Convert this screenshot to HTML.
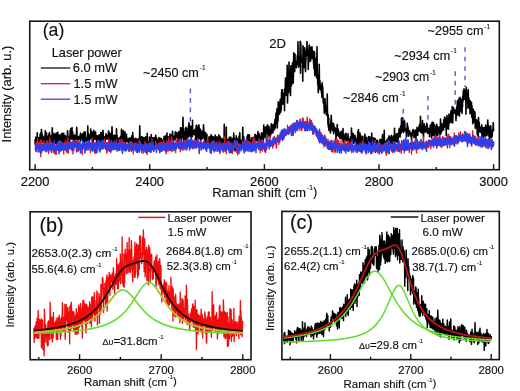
<!DOCTYPE html><html><head><meta charset="utf-8"><style>html,body{margin:0;padding:0;background:#fff;}body{width:520px;height:391px;overflow:hidden;}</style></head><body><svg width="520" height="391" viewBox="0 0 520 391" style="display:block;filter:blur(0.45px)">
<rect width="520" height="391" fill="#fff"/>
<defs><clipPath id="ca"><rect x="30.5" y="22" width="468" height="147"/></clipPath><clipPath id="cb"><rect x="30.9" y="212.6" width="219.3" height="146.3"/></clipPath><clipPath id="cc"><rect x="282.7" y="212.2" width="215.8" height="146.6"/></clipPath></defs>
<g clip-path="url(#ca)">
<polyline points="35.00,139.3 35.25,144.0 35.50,143.5 35.75,137.4 36.00,138.1 36.25,137.3 36.50,141.2 36.75,139.0 37.00,141.8 37.25,132.7 37.50,144.7 37.75,138.8 38.00,141.5 38.25,138.7 38.50,137.8 38.75,140.8 39.00,142.0 39.25,138.4 39.50,138.6 39.75,141.5 40.00,136.0 40.25,133.8 40.50,140.5 40.75,136.7 41.00,132.3 41.25,136.2 41.50,129.5 41.75,134.9 42.00,133.8 42.25,139.2 42.50,142.2 42.75,138.2 43.00,136.4 43.25,140.4 43.50,141.6 43.75,138.0 44.00,140.9 44.25,142.7 44.50,138.3 44.75,136.1 45.00,140.2 45.25,130.8 45.50,142.9 45.75,134.4 46.00,136.6 46.25,136.0 46.50,132.8 46.75,139.4 47.00,140.8 47.25,136.3 47.50,143.8 47.75,141.8 48.00,141.1 48.25,140.3 48.50,142.3 48.75,134.2 49.00,141.1 49.25,141.0 49.50,132.6 49.75,140.1 50.00,138.0 50.25,141.6 50.50,137.3 50.75,136.3 51.00,140.1 51.25,135.7 51.50,141.0 51.75,138.5 52.00,140.6 52.25,127.9 52.50,142.7 52.75,141.0 53.00,138.2 53.25,141.0 53.50,143.3 53.75,145.1 54.00,133.2 54.25,141.9 54.50,140.4 54.75,138.4 55.00,135.2 55.25,143.2 55.50,134.3 55.75,140.8 56.00,143.4 56.25,133.1 56.50,137.7 56.75,134.1 57.00,139.6 57.25,144.1 57.50,145.9 57.75,132.4 58.00,136.7 58.25,141.2 58.50,144.3 58.75,140.2 59.00,136.0 59.25,139.7 59.50,135.1 59.75,137.9 60.00,136.0 60.25,140.0 60.50,139.7 60.75,138.3 61.00,137.8 61.25,134.0 61.50,136.9 61.75,142.9 62.00,137.9 62.25,133.4 62.50,135.0 62.75,140.4 63.00,146.0 63.25,138.7 63.50,136.9 63.75,133.3 64.00,143.2 64.25,147.6 64.50,135.5 64.75,136.2 65.00,140.6 65.25,135.5 65.50,137.5 65.75,137.2 66.00,139.1 66.25,142.3 66.50,138.5 66.75,141.7 67.00,136.9 67.25,139.5 67.50,130.7 67.75,133.2 68.00,141.2 68.25,136.2 68.50,140.4 68.75,140.2 69.00,143.0 69.25,141.2 69.50,141.9 69.75,137.9 70.00,135.8 70.25,130.4 70.50,136.5 70.75,128.9 71.00,136.2 71.25,137.9 71.50,139.1 71.75,136.8 72.00,127.6 72.25,137.9 72.50,139.0 72.75,132.0 73.00,139.7 73.25,135.8 73.50,135.5 73.75,145.3 74.00,140.8 74.25,144.7 74.50,145.7 74.75,135.1 75.00,139.4 75.25,139.7 75.50,140.0 75.75,140.0 76.00,138.7 76.25,138.6 76.50,132.6 76.75,127.3 77.00,135.3 77.25,138.4 77.50,136.3 77.75,140.2 78.00,140.9 78.25,139.0 78.50,139.0 78.75,138.2 79.00,136.3 79.25,137.3 79.50,136.1 79.75,139.3 80.00,137.9 80.25,139.9 80.50,133.0 80.75,141.0 81.00,135.0 81.25,135.1 81.50,137.1 81.75,135.7 82.00,138.8 82.25,135.7 82.50,133.9 82.75,134.7 83.00,142.5 83.25,137.9 83.50,133.5 83.75,137.7 84.00,132.0 84.25,144.1 84.50,132.1 84.75,139.4 85.00,139.6 85.25,132.1 85.50,138.7 85.75,141.2 86.00,139.3 86.25,138.5 86.50,141.0 86.75,138.1 87.00,138.8 87.25,137.1 87.50,139.8 87.75,126.0 88.00,140.4 88.25,135.7 88.50,133.5 88.75,138.8 89.00,143.6 89.25,141.0 89.50,135.6 89.75,140.0 90.00,135.8 90.25,137.0 90.50,137.7 90.75,129.0 91.00,138.1 91.25,133.6 91.50,134.8 91.75,132.0 92.00,131.8 92.25,133.9 92.50,140.3 92.75,143.4 93.00,137.2 93.25,141.3 93.50,136.3 93.75,130.3 94.00,137.8 94.25,138.9 94.50,135.7 94.75,138.3 95.00,139.3 95.25,134.1 95.50,131.8 95.75,136.4 96.00,136.4 96.25,135.9 96.50,140.8 96.75,143.5 97.00,135.6 97.25,139.7 97.50,140.6 97.75,139.7 98.00,140.9 98.25,135.7 98.50,139.8 98.75,144.5 99.00,140.0 99.25,134.8 99.50,139.3 99.75,141.7 100.00,138.4 100.25,135.0 100.50,142.7 100.75,132.5 101.00,138.9 101.25,137.1 101.50,132.8 101.75,141.6 102.00,138.5 102.25,133.0 102.50,139.4 102.75,135.7 103.00,130.4 103.25,134.8 103.50,138.3 103.75,139.7 104.00,138.0 104.25,137.6 104.50,139.2 104.75,136.7 105.00,141.8 105.25,138.1 105.50,138.6 105.75,139.5 106.00,133.8 106.25,135.0 106.50,135.0 106.75,138.9 107.00,136.7 107.25,138.9 107.50,136.0 107.75,138.8 108.00,135.4 108.25,138.8 108.50,131.1 108.75,142.6 109.00,136.0 109.25,132.2 109.50,137.1 109.75,136.6 110.00,138.5 110.25,133.9 110.50,139.4 110.75,151.1 111.00,133.5 111.25,139.3 111.50,137.0 111.75,138.8 112.00,126.9 112.25,134.1 112.50,139.8 112.75,138.1 113.00,144.1 113.25,135.7 113.50,138.9 113.75,148.7 114.00,135.6 114.25,135.1 114.50,138.3 114.75,138.3 115.00,136.2 115.25,138.9 115.50,135.8 115.75,139.3 116.00,147.9 116.25,143.1 116.50,128.7 116.75,138.1 117.00,135.5 117.25,140.9 117.50,138.1 117.75,145.6 118.00,142.0 118.25,141.9 118.50,139.4 118.75,138.6 119.00,140.0 119.25,143.4 119.50,140.8 119.75,137.6 120.00,143.4 120.25,139.6 120.50,138.7 120.75,136.2 121.00,137.0 121.25,136.8 121.50,129.2 121.75,142.7 122.00,141.1 122.25,138.4 122.50,142.8 122.75,140.7 123.00,140.5 123.25,130.5 123.50,138.4 123.75,141.1 124.00,144.9 124.25,145.8 124.50,144.3 124.75,135.3 125.00,131.7 125.25,141.4 125.50,139.6 125.75,142.9 126.00,139.1 126.25,140.4 126.50,134.4 126.75,141.2 127.00,138.2 127.25,141.0 127.50,141.4 127.75,139.4 128.00,141.0 128.25,139.9 128.50,142.6 128.75,141.8 129.00,138.2 129.25,138.1 129.50,146.3 129.75,139.8 130.00,143.7 130.25,141.7 130.50,138.4 130.75,137.8 131.00,140.8 131.25,141.4 131.50,142.7 131.75,136.1 132.00,138.5 132.25,140.3 132.50,146.3 132.75,132.5 133.00,142.3 133.25,137.3 133.50,142.4 133.75,139.2 134.00,142.2 134.25,146.5 134.50,142.3 134.75,142.6 135.00,142.4 135.25,138.5 135.50,143.1 135.75,140.5 136.00,138.4 136.25,141.2 136.50,140.6 136.75,144.0 137.00,141.3 137.25,139.6 137.50,146.6 137.75,145.0 138.00,146.1 138.25,143.8 138.50,141.3 138.75,138.5 139.00,140.8 139.25,145.2 139.50,142.3 139.75,125.8 140.00,141.8 140.25,137.1 140.50,142.6 140.75,137.9 141.00,137.7 141.25,142.6 141.50,142.0 141.75,136.5 142.00,144.9 142.25,149.9 142.50,137.2 142.75,148.8 143.00,140.1 143.25,140.8 143.50,141.9 143.75,137.6 144.00,147.2 144.25,144.4 144.50,140.1 144.75,141.8 145.00,137.5 145.25,141.6 145.50,146.2 145.75,136.9 146.00,141.5 146.25,143.6 146.50,146.7 146.75,147.8 147.00,141.6 147.25,133.4 147.50,144.8 147.75,142.0 148.00,142.2 148.25,147.2 148.50,149.3 148.75,144.4 149.00,142.8 149.25,145.5 149.50,137.0 149.75,143.5 150.00,139.9 150.25,151.9 150.50,146.1 150.75,144.0 151.00,142.8 151.25,134.6 151.50,145.9 151.75,149.1 152.00,140.8 152.25,145.7 152.50,145.7 152.75,137.7 153.00,146.4 153.25,147.8 153.50,143.8 153.75,142.8 154.00,145.7 154.25,137.5 154.50,143.2 154.75,146.5 155.00,138.4 155.25,146.2 155.50,141.2 155.75,135.3 156.00,142.2 156.25,139.1 156.50,143.6 156.75,138.3 157.00,146.1 157.25,139.7 157.50,143.5 157.75,140.2 158.00,141.1 158.25,146.3 158.50,142.9 158.75,140.7 159.00,137.6 159.25,146.0 159.50,144.5 159.75,140.7 160.00,142.7 160.25,138.2 160.50,138.2 160.75,138.8 161.00,142.9 161.25,142.6 161.50,138.9 161.75,144.1 162.00,144.2 162.25,142.0 162.50,145.0 162.75,140.3 163.00,140.9 163.25,142.9 163.50,141.0 163.75,143.9 164.00,136.7 164.25,146.0 164.50,138.2 164.75,140.4 165.00,136.1 165.25,142.9 165.50,145.2 165.75,144.5 166.00,143.6 166.25,135.2 166.50,137.9 166.75,138.9 167.00,133.0 167.25,144.4 167.50,141.1 167.75,140.3 168.00,142.0 168.25,136.9 168.50,137.0 168.75,137.1 169.00,141.9 169.25,141.3 169.50,142.0 169.75,143.7 170.00,134.0 170.25,137.8 170.50,140.2 170.75,134.9 171.00,137.6 171.25,142.9 171.50,142.5 171.75,143.0 172.00,139.2 172.25,138.2 172.50,131.2 172.75,137.4 173.00,139.8 173.25,143.2 173.50,137.1 173.75,136.1 174.00,138.1 174.25,140.2 174.50,139.7 174.75,138.4 175.00,139.7 175.25,131.8 175.50,134.4 175.75,138.0 176.00,133.9 176.25,132.3 176.50,132.7 176.75,133.6 177.00,136.2 177.25,133.0 177.50,137.5 177.75,142.8 178.00,135.9 178.25,141.0 178.50,137.3 178.75,131.9 179.00,135.0 179.25,132.2 179.50,138.6 179.75,131.3 180.00,140.5 180.25,137.6 180.50,127.7 180.75,135.9 181.00,141.0 181.25,132.0 181.50,138.6 181.75,127.9 182.00,135.6 182.25,128.2 182.50,136.3 182.75,127.4 183.00,117.4 183.25,135.6 183.50,142.8 183.75,131.6 184.00,137.0 184.25,134.1 184.50,132.3 184.75,135.8 185.00,139.7 185.25,128.4 185.50,135.3 185.75,134.3 186.00,127.3 186.25,139.1 186.50,140.3 186.75,128.8 187.00,139.3 187.25,132.5 187.50,131.5 187.75,138.1 188.00,128.5 188.25,133.2 188.50,125.7 188.75,136.8 189.00,122.7 189.25,125.8 189.50,125.0 189.75,135.9 190.00,127.6 190.25,131.9 190.50,127.0 190.75,130.6 191.00,126.3 191.25,138.1 191.50,127.6 191.75,131.3 192.00,131.1 192.25,136.7 192.50,120.2 192.75,132.0 193.00,131.4 193.25,134.4 193.50,133.3 193.75,130.7 194.00,133.5 194.25,131.2 194.50,134.6 194.75,132.5 195.00,129.2 195.25,132.9 195.50,134.6 195.75,142.1 196.00,131.4 196.25,125.4 196.50,139.2 196.75,125.6 197.00,127.0 197.25,129.2 197.50,133.5 197.75,143.4 198.00,135.6 198.25,138.8 198.50,133.4 198.75,124.9 199.00,125.6 199.25,138.4 199.50,135.4 199.75,129.8 200.00,139.1 200.25,129.1 200.50,139.3 200.75,140.6 201.00,132.3 201.25,131.1 201.50,138.6 201.75,131.4 202.00,138.8 202.25,131.2 202.50,138.8 202.75,136.2 203.00,134.3 203.25,132.7 203.50,124.9 203.75,129.2 204.00,135.3 204.25,134.9 204.50,139.0 204.75,132.0 205.00,143.0 205.25,135.6 205.50,132.7 205.75,142.0 206.00,143.1 206.25,136.5 206.50,134.0 206.75,137.4 207.00,134.9 207.25,136.4 207.50,143.3 207.75,139.1 208.00,138.3 208.25,139.1 208.50,137.8 208.75,141.1 209.00,141.3 209.25,136.9 209.50,138.7 209.75,147.0 210.00,140.0 210.25,137.9 210.50,145.9 210.75,138.8 211.00,134.9 211.25,141.3 211.50,135.8 211.75,137.3 212.00,140.2 212.25,138.7 212.50,136.6 212.75,137.4 213.00,137.3 213.25,143.5 213.50,137.0 213.75,137.6 214.00,146.8 214.25,137.8 214.50,145.0 214.75,144.5 215.00,139.4 215.25,135.1 215.50,141.7 215.75,142.5 216.00,143.6 216.25,137.5 216.50,144.6 216.75,145.3 217.00,136.8 217.25,145.6 217.50,141.3 217.75,138.8 218.00,139.7 218.25,147.4 218.50,144.4 218.75,134.8 219.00,141.4 219.25,138.1 219.50,140.6 219.75,139.5 220.00,136.3 220.25,144.4 220.50,137.3 220.75,140.3 221.00,139.5 221.25,139.2 221.50,144.4 221.75,143.2 222.00,139.6 222.25,138.7 222.50,140.4 222.75,145.5 223.00,142.6 223.25,143.1 223.50,141.2 223.75,141.5 224.00,143.2 224.25,124.3 224.50,148.2 224.75,139.9 225.00,140.8 225.25,147.5 225.50,138.5 225.75,143.1 226.00,141.0 226.25,127.1 226.50,143.8 226.75,147.4 227.00,140.1 227.25,148.1 227.50,139.5 227.75,140.9 228.00,145.3 228.25,143.6 228.50,146.1 228.75,141.2 229.00,140.2 229.25,137.3 229.50,139.7 229.75,140.2 230.00,139.0 230.25,145.1 230.50,141.6 230.75,137.0 231.00,152.6 231.25,141.0 231.50,139.4 231.75,148.1 232.00,147.8 232.25,139.7 232.50,138.5 232.75,140.1 233.00,147.5 233.25,142.5 233.50,140.7 233.75,133.1 234.00,147.6 234.25,138.5 234.50,142.0 234.75,138.5 235.00,150.9 235.25,149.6 235.50,146.5 235.75,142.7 236.00,145.4 236.25,135.7 236.50,144.0 236.75,138.3 237.00,138.3 237.25,140.4 237.50,141.6 237.75,144.8 238.00,145.2 238.25,143.6 238.50,139.3 238.75,145.0 239.00,136.4 239.25,146.6 239.50,139.3 239.75,132.7 240.00,140.7 240.25,139.8 240.50,143.9 240.75,141.6 241.00,145.3 241.25,143.9 241.50,143.7 241.75,140.3 242.00,142.3 242.25,142.7 242.50,139.7 242.75,127.3 243.00,142.3 243.25,145.2 243.50,144.0 243.75,136.8 244.00,143.4 244.25,150.6 244.50,142.4 244.75,145.1 245.00,148.3 245.25,141.6 245.50,142.2 245.75,144.9 246.00,147.1 246.25,142.3 246.50,142.4 246.75,141.4 247.00,136.8 247.25,144.9 247.50,140.0 247.75,134.8 248.00,140.3 248.25,134.7 248.50,137.2 248.75,140.7 249.00,137.4 249.25,134.7 249.50,135.4 249.75,141.4 250.00,142.4 250.25,145.5 250.50,143.6 250.75,141.1 251.00,140.5 251.25,140.0 251.50,144.2 251.75,137.8 252.00,141.9 252.25,139.7 252.50,140.9 252.75,139.1 253.00,147.4 253.25,137.6 253.50,140.8 253.75,140.8 254.00,141.9 254.25,141.3 254.50,141.2 254.75,143.1 255.00,134.3 255.25,139.6 255.50,135.2 255.75,140.3 256.00,135.2 256.25,136.0 256.50,139.1 256.75,139.5 257.00,141.2 257.25,140.1 257.50,141.8 257.75,135.6 258.00,131.5 258.25,137.3 258.50,137.7 258.75,143.1 259.00,146.2 259.25,133.8 259.50,147.3 259.75,143.9 260.00,141.3 260.25,139.5 260.50,146.8 260.75,138.3 261.00,136.1 261.25,138.3 261.50,132.7 261.75,139.2 262.00,137.0 262.25,138.5 262.50,138.5 262.75,133.2 263.00,141.7 263.25,133.0 263.50,139.9 263.75,125.0 264.00,137.7 264.25,133.1 264.50,136.2 264.75,133.4 265.00,127.5 265.25,131.3 265.50,135.6 265.75,137.5 266.00,129.4 266.25,126.6 266.50,128.8 266.75,133.5 267.00,131.7 267.25,130.7 267.50,124.8 267.75,137.2 268.00,136.0 268.25,129.2 268.50,132.9 268.75,131.6 269.00,126.4 269.25,135.3 269.50,131.8 269.75,129.2 270.00,136.6 270.25,133.6 270.50,133.7 270.75,134.8 271.00,132.5 271.25,123.8 271.50,127.1 271.75,132.6 272.00,124.7 272.25,127.7 272.50,128.9 272.75,133.0 273.00,132.0 273.25,129.8 273.50,124.6 273.75,129.0 274.00,126.9 274.25,123.3 274.50,129.7 274.75,125.3 275.00,119.0 275.25,127.9 275.50,118.8 275.75,123.7 276.00,113.1 276.25,119.7 276.50,114.7 276.75,113.9 277.00,108.7 277.25,128.0 277.50,116.1 277.75,117.4 278.00,121.2 278.25,101.8 278.50,105.1 278.75,106.6 279.00,114.0 279.25,110.1 279.50,114.3 279.75,111.9 280.00,102.7 280.25,99.4 280.50,103.2 280.75,112.2 281.00,109.7 281.25,108.9 281.50,94.4 281.75,89.7 282.00,100.7 282.25,101.7 282.50,89.7 282.75,104.2 283.00,100.2 283.25,93.3 283.50,94.3 283.75,99.8 284.00,98.6 284.25,96.9 284.50,110.8 284.75,89.1 285.00,95.7 285.25,87.7 285.50,78.1 285.75,84.8 286.00,95.4 286.25,89.8 286.50,92.7 286.75,89.7 287.00,75.7 287.25,65.2 287.50,102.9 287.75,91.9 288.00,84.9 288.25,72.2 288.50,74.6 288.75,92.7 289.00,62.0 289.25,79.0 289.50,87.0 289.75,80.9 290.00,84.7 290.25,77.4 290.50,95.6 290.75,69.1 291.00,65.8 291.25,77.6 291.50,85.8 291.75,73.6 292.00,81.5 292.25,68.5 292.50,62.7 292.75,82.4 293.00,83.2 293.25,82.3 293.50,65.9 293.75,52.8 294.00,58.7 294.25,65.8 294.50,71.8 294.75,70.6 295.00,54.0 295.25,67.0 295.50,65.0 295.75,65.0 296.00,63.6 296.25,61.6 296.50,67.8 296.75,63.4 297.00,63.8 297.25,55.5 297.50,64.4 297.75,59.5 298.00,41.9 298.25,64.0 298.50,57.1 298.75,67.1 299.00,57.3 299.25,57.5 299.50,59.9 299.75,57.6 300.00,53.5 300.25,41.3 300.50,73.3 300.75,42.6 301.00,53.4 301.25,62.0 301.50,59.4 301.75,60.8 302.00,62.5 302.25,60.7 302.50,57.9 302.75,81.2 303.00,45.8 303.25,56.9 303.50,51.4 303.75,49.7 304.00,57.1 304.25,67.6 304.50,47.9 304.75,47.8 305.00,60.7 305.25,59.1 305.50,71.8 305.75,63.4 306.00,56.1 306.25,51.0 306.50,55.9 306.75,52.4 307.00,41.6 307.25,54.0 307.50,50.1 307.75,51.9 308.00,50.1 308.25,69.4 308.50,60.4 308.75,62.6 309.00,48.8 309.25,45.1 309.50,51.9 309.75,56.9 310.00,51.7 310.25,53.3 310.50,61.3 310.75,58.2 311.00,47.0 311.25,52.3 311.50,50.6 311.75,58.4 312.00,46.9 312.25,56.1 312.50,54.7 312.75,58.8 313.00,51.1 313.25,54.3 313.50,61.3 313.75,65.0 314.00,68.7 314.25,60.9 314.50,51.7 314.75,75.6 315.00,66.9 315.25,68.5 315.50,68.5 315.75,58.3 316.00,65.1 316.25,66.2 316.50,77.8 316.75,70.9 317.00,46.7 317.25,70.5 317.50,76.2 317.75,84.5 318.00,81.0 318.25,92.6 318.50,88.4 318.75,88.8 319.00,86.9 319.25,64.2 319.50,88.3 319.75,87.6 320.00,80.8 320.25,89.8 320.50,89.7 320.75,84.8 321.00,88.4 321.25,88.6 321.50,93.1 321.75,90.0 322.00,97.4 322.25,82.9 322.50,94.5 322.75,86.9 323.00,95.6 323.25,102.9 323.50,101.0 323.75,101.3 324.00,103.5 324.25,113.3 324.50,98.9 324.75,111.4 325.00,98.9 325.25,105.8 325.50,110.3 325.75,105.8 326.00,112.5 326.25,114.8 326.50,107.1 326.75,113.8 327.00,113.2 327.25,94.0 327.50,115.9 327.75,113.7 328.00,124.9 328.25,115.0 328.50,128.1 328.75,118.2 329.00,130.5 329.25,124.6 329.50,124.8 329.75,127.1 330.00,128.1 330.25,130.9 330.50,132.9 330.75,124.2 331.00,120.8 331.25,115.2 331.50,122.2 331.75,121.7 332.00,129.8 332.25,129.1 332.50,127.6 332.75,126.8 333.00,128.6 333.25,131.8 333.50,123.3 333.75,133.8 334.00,125.3 334.25,130.8 334.50,129.2 334.75,130.5 335.00,128.1 335.25,127.9 335.50,131.8 335.75,128.7 336.00,142.8 336.25,131.7 336.50,131.0 336.75,131.6 337.00,129.8 337.25,124.6 337.50,133.2 337.75,135.6 338.00,128.8 338.25,134.7 338.50,130.2 338.75,134.8 339.00,136.4 339.25,137.0 339.50,136.9 339.75,132.7 340.00,138.8 340.25,133.9 340.50,137.0 340.75,138.5 341.00,134.8 341.25,131.3 341.50,138.5 341.75,132.2 342.00,133.1 342.25,132.4 342.50,139.7 342.75,136.1 343.00,128.6 343.25,139.6 343.50,144.6 343.75,143.7 344.00,135.2 344.25,137.6 344.50,139.3 344.75,140.8 345.00,137.7 345.25,133.7 345.50,140.5 345.75,140.1 346.00,133.2 346.25,136.7 346.50,139.1 346.75,138.2 347.00,140.2 347.25,141.2 347.50,140.4 347.75,138.2 348.00,133.9 348.25,140.9 348.50,143.8 348.75,145.9 349.00,138.9 349.25,139.0 349.50,144.3 349.75,144.3 350.00,140.5 350.25,141.9 350.50,136.8 350.75,141.6 351.00,136.8 351.25,139.2 351.50,128.0 351.75,138.2 352.00,132.6 352.25,137.1 352.50,141.3 352.75,140.0 353.00,138.9 353.25,141.8 353.50,133.8 353.75,143.5 354.00,137.7 354.25,140.7 354.50,139.5 354.75,137.7 355.00,135.6 355.25,140.6 355.50,138.0 355.75,144.0 356.00,140.8 356.25,140.4 356.50,139.9 356.75,147.9 357.00,138.2 357.25,141.0 357.50,138.9 357.75,131.3 358.00,141.6 358.25,145.7 358.50,129.5 358.75,141.9 359.00,147.7 359.25,140.3 359.50,141.5 359.75,139.1 360.00,133.1 360.25,142.0 360.50,146.5 360.75,140.8 361.00,136.0 361.25,143.4 361.50,142.8 361.75,139.4 362.00,145.8 362.25,141.7 362.50,144.1 362.75,136.4 363.00,146.7 363.25,143.5 363.50,146.7 363.75,146.6 364.00,141.9 364.25,142.5 364.50,139.9 364.75,135.8 365.00,134.3 365.25,143.7 365.50,139.4 365.75,145.7 366.00,143.6 366.25,144.9 366.50,140.6 366.75,137.2 367.00,146.1 367.25,145.5 367.50,143.1 367.75,142.0 368.00,142.5 368.25,143.1 368.50,141.8 368.75,136.6 369.00,146.4 369.25,138.4 369.50,142.5 369.75,136.8 370.00,144.7 370.25,138.2 370.50,148.1 370.75,146.2 371.00,146.6 371.25,148.4 371.50,141.2 371.75,133.0 372.00,145.2 372.25,148.7 372.50,148.2 372.75,142.3 373.00,143.9 373.25,145.2 373.50,137.9 373.75,141.9 374.00,142.1 374.25,149.9 374.50,142.1 374.75,149.9 375.00,138.6 375.25,138.6 375.50,152.3 375.75,141.1 376.00,144.2 376.25,150.6 376.50,142.8 376.75,140.3 377.00,148.3 377.25,144.9 377.50,140.4 377.75,141.0 378.00,143.4 378.25,148.2 378.50,143.8 378.75,147.2 379.00,150.7 379.25,149.4 379.50,150.0 379.75,149.3 380.00,139.4 380.25,149.3 380.50,146.2 380.75,144.6 381.00,141.3 381.25,139.6 381.50,141.3 381.75,145.1 382.00,141.1 382.25,142.4 382.50,134.6 382.75,147.6 383.00,144.3 383.25,144.8 383.50,150.0 383.75,144.2 384.00,147.5 384.25,130.2 384.50,146.5 384.75,145.7 385.00,145.9 385.25,143.5 385.50,141.5 385.75,143.9 386.00,143.2 386.25,148.3 386.50,147.7 386.75,140.1 387.00,146.4 387.25,142.3 387.50,145.5 387.75,142.0 388.00,138.4 388.25,146.9 388.50,144.8 388.75,138.7 389.00,135.8 389.25,140.8 389.50,138.4 389.75,141.1 390.00,137.0 390.25,147.2 390.50,140.6 390.75,146.5 391.00,145.6 391.25,139.8 391.50,135.3 391.75,144.0 392.00,143.0 392.25,148.9 392.50,145.5 392.75,143.0 393.00,146.0 393.25,136.3 393.50,140.4 393.75,138.6 394.00,145.5 394.25,141.2 394.50,128.2 394.75,143.7 395.00,135.4 395.25,141.2 395.50,135.9 395.75,138.9 396.00,140.0 396.25,138.2 396.50,133.7 396.75,142.0 397.00,138.1 397.25,136.2 397.50,138.6 397.75,133.6 398.00,142.4 398.25,135.8 398.50,135.9 398.75,135.5 399.00,129.9 399.25,128.7 399.50,133.7 399.75,133.8 400.00,137.2 400.25,133.1 400.50,126.3 400.75,130.8 401.00,132.9 401.25,133.0 401.50,118.1 401.75,122.1 402.00,131.7 402.25,122.7 402.50,127.9 402.75,117.8 403.00,127.9 403.25,120.8 403.50,129.2 403.75,132.5 404.00,130.1 404.25,120.2 404.50,121.8 404.75,122.7 405.00,129.9 405.25,129.1 405.50,128.8 405.75,130.0 406.00,131.6 406.25,132.3 406.50,136.9 406.75,130.1 407.00,131.5 407.25,123.4 407.50,125.9 407.75,128.7 408.00,127.0 408.25,132.8 408.50,136.3 408.75,130.6 409.00,130.6 409.25,130.7 409.50,133.3 409.75,130.8 410.00,134.7 410.25,134.3 410.50,134.5 410.75,136.1 411.00,133.2 411.25,133.7 411.50,140.0 411.75,132.9 412.00,136.1 412.25,133.2 412.50,131.1 412.75,131.1 413.00,129.6 413.25,132.8 413.50,130.4 413.75,131.0 414.00,137.5 414.25,132.1 414.50,137.1 414.75,133.6 415.00,135.9 415.25,130.0 415.50,132.9 415.75,142.7 416.00,135.5 416.25,136.2 416.50,133.0 416.75,135.5 417.00,127.4 417.25,128.5 417.50,133.6 417.75,135.1 418.00,130.1 418.25,130.9 418.50,130.2 418.75,130.8 419.00,126.7 419.25,125.7 419.50,131.0 419.75,124.3 420.00,123.8 420.25,128.6 420.50,116.3 420.75,132.1 421.00,129.4 421.25,130.8 421.50,127.0 421.75,128.1 422.00,133.1 422.25,132.5 422.50,120.6 422.75,132.5 423.00,131.8 423.25,131.6 423.50,137.4 423.75,129.3 424.00,132.6 424.25,123.7 424.50,129.9 424.75,126.1 425.00,126.0 425.25,131.9 425.50,131.0 425.75,130.9 426.00,130.8 426.25,127.1 426.50,131.9 426.75,123.4 427.00,130.5 427.25,124.5 427.50,129.2 427.75,133.5 428.00,129.5 428.25,128.6 428.50,132.6 428.75,129.4 429.00,128.8 429.25,128.8 429.50,136.6 429.75,133.1 430.00,132.3 430.25,125.4 430.50,132.8 430.75,124.9 431.00,132.1 431.25,125.5 431.50,138.0 431.75,123.0 432.00,134.9 432.25,122.1 432.50,122.5 432.75,128.7 433.00,135.6 433.25,134.3 433.50,122.7 433.75,127.3 434.00,124.6 434.25,125.1 434.50,126.6 434.75,136.9 435.00,129.7 435.25,128.2 435.50,127.7 435.75,131.8 436.00,131.8 436.25,125.1 436.50,135.0 436.75,124.2 437.00,127.6 437.25,130.5 437.50,135.8 437.75,127.1 438.00,129.7 438.25,133.9 438.50,131.0 438.75,133.0 439.00,132.6 439.25,127.0 439.50,130.7 439.75,131.8 440.00,127.7 440.25,134.5 440.50,119.1 440.75,123.4 441.00,133.4 441.25,128.8 441.50,124.0 441.75,128.2 442.00,131.1 442.25,123.7 442.50,129.3 442.75,125.2 443.00,125.0 443.25,125.0 443.50,130.0 443.75,119.9 444.00,123.1 444.25,127.4 444.50,118.8 444.75,117.0 445.00,126.4 445.25,123.7 445.50,122.8 445.75,123.9 446.00,118.6 446.25,135.4 446.50,118.0 446.75,120.3 447.00,115.5 447.25,119.9 447.50,128.6 447.75,121.4 448.00,123.8 448.25,118.5 448.50,129.1 448.75,121.1 449.00,114.1 449.25,123.4 449.50,117.8 449.75,122.2 450.00,119.7 450.25,120.0 450.50,119.2 450.75,113.9 451.00,110.7 451.25,122.5 451.50,116.8 451.75,118.6 452.00,114.6 452.25,106.5 452.50,109.9 452.75,123.0 453.00,111.7 453.25,113.4 453.50,107.5 453.75,111.9 454.00,112.4 454.25,112.8 454.50,113.2 454.75,109.9 455.00,109.9 455.25,112.4 455.50,113.9 455.75,111.1 456.00,120.7 456.25,112.2 456.50,111.6 456.75,106.9 457.00,115.6 457.25,104.1 457.50,100.5 457.75,103.6 458.00,111.9 458.25,101.7 458.50,114.8 458.75,107.1 459.00,98.2 459.25,105.0 459.50,115.9 459.75,100.4 460.00,97.3 460.25,107.2 460.50,111.3 460.75,99.1 461.00,100.8 461.25,103.3 461.50,103.5 461.75,108.0 462.00,113.3 462.25,99.1 462.50,107.0 462.75,96.2 463.00,101.3 463.25,91.0 463.50,91.3 463.75,97.9 464.00,88.7 464.25,99.5 464.50,89.7 464.75,93.4 465.00,92.2 465.25,90.6 465.50,93.9 465.75,100.5 466.00,114.1 466.25,87.4 466.50,97.7 466.75,95.6 467.00,91.9 467.25,100.1 467.50,93.8 467.75,99.5 468.00,108.2 468.25,89.5 468.50,103.7 468.75,105.6 469.00,98.2 469.25,107.6 469.50,102.9 469.75,104.2 470.00,113.8 470.25,100.7 470.50,112.3 470.75,108.3 471.00,104.7 471.25,110.3 471.50,102.3 471.75,117.1 472.00,105.9 472.25,113.4 472.50,112.9 472.75,123.8 473.00,111.1 473.25,122.5 473.50,109.4 473.75,120.3 474.00,118.3 474.25,121.6 474.50,117.1 474.75,111.8 475.00,114.4 475.25,128.2 475.50,123.7 475.75,119.4 476.00,127.9 476.25,121.1 476.50,121.6 476.75,120.0 477.00,127.2 477.25,134.7 477.50,122.4 477.75,128.1 478.00,131.4 478.25,136.5 478.50,117.5 478.75,128.6 479.00,130.9 479.25,122.3 479.50,130.4 479.75,129.8 480.00,132.2 480.25,127.1 480.50,131.4 480.75,127.4 481.00,132.5 481.25,130.9 481.50,128.8 481.75,124.7 482.00,137.2 482.25,135.1 482.50,134.3 482.75,128.1 483.00,129.4 483.25,137.6 483.50,134.0 483.75,127.6 484.00,131.3 484.25,131.7 484.50,130.4 484.75,127.5 485.00,136.3 485.25,133.7 485.50,130.5 485.75,125.0 486.00,129.0 486.25,131.3 486.50,134.8 486.75,129.8 487.00,135.8 487.25,131.9 487.50,128.3 487.75,120.1 488.00,126.6 488.25,125.3 488.50,130.7 488.75,132.6 489.00,136.8 489.25,131.2 489.50,126.6 489.75,140.7 490.00,132.5 490.25,130.2 490.50,130.1 490.75,125.8 491.00,133.7 491.25,132.7 491.50,137.6 491.75,135.6 492.00,134.6 492.25,136.2 492.50,130.0 492.75,129.3 493.00,130.9 493.25,122.5 493.50,130.5 493.75,129.8" fill="none" stroke="#000" stroke-width="1.6" stroke-linejoin="round" />
<polyline points="35.00,149.0 35.25,149.5 35.50,146.1 35.75,151.1 36.00,149.9 36.25,149.9 36.50,142.7 36.75,148.9 37.00,152.0 37.25,149.4 37.50,138.6 37.75,140.9 38.00,147.7 38.25,143.8 38.50,148.0 38.75,146.5 39.00,149.5 39.25,145.0 39.50,143.4 39.75,148.4 40.00,145.9 40.25,143.0 40.50,140.4 40.75,156.7 41.00,145.6 41.25,145.9 41.50,140.5 41.75,143.4 42.00,146.2 42.25,147.7 42.50,149.1 42.75,144.3 43.00,148.2 43.25,150.3 43.50,145.0 43.75,146.4 44.00,140.9 44.25,144.0 44.50,142.2 44.75,148.7 45.00,146.0 45.25,151.7 45.50,147.2 45.75,149.2 46.00,148.2 46.25,147.2 46.50,143.2 46.75,151.9 47.00,146.3 47.25,140.7 47.50,144.7 47.75,143.1 48.00,150.3 48.25,149.9 48.50,151.5 48.75,153.5 49.00,144.5 49.25,140.5 49.50,143.5 49.75,147.9 50.00,137.9 50.25,144.6 50.50,149.2 50.75,143.8 51.00,146.1 51.25,143.6 51.50,152.1 51.75,152.8 52.00,143.3 52.25,144.8 52.50,146.9 52.75,148.8 53.00,147.9 53.25,148.7 53.50,149.8 53.75,152.3 54.00,152.7 54.25,147.3 54.50,145.2 54.75,146.5 55.00,154.0 55.25,149.5 55.50,149.1 55.75,151.2 56.00,150.8 56.25,154.4 56.50,144.2 56.75,147.5 57.00,149.3 57.25,149.5 57.50,145.6 57.75,141.6 58.00,145.9 58.25,144.6 58.50,146.4 58.75,150.3 59.00,149.0 59.25,143.1 59.50,144.3 59.75,147.3 60.00,150.4 60.25,146.5 60.50,147.4 60.75,141.8 61.00,145.1 61.25,144.1 61.50,147.3 61.75,145.7 62.00,143.7 62.25,143.0 62.50,147.2 62.75,144.4 63.00,150.2 63.25,147.0 63.50,145.6 63.75,153.9 64.00,142.6 64.25,149.4 64.50,144.1 64.75,148.7 65.00,144.2 65.25,143.3 65.50,140.4 65.75,146.5 66.00,147.9 66.25,141.8 66.50,152.0 66.75,146.3 67.00,142.7 67.25,152.6 67.50,145.0 67.75,151.0 68.00,137.2 68.25,153.2 68.50,146.9 68.75,146.2 69.00,147.3 69.25,142.5 69.50,149.2 69.75,147.7 70.00,147.3 70.25,144.4 70.50,142.5 70.75,147.4 71.00,148.8 71.25,146.6 71.50,145.6 71.75,144.5 72.00,148.5 72.25,150.8 72.50,145.7 72.75,143.4 73.00,154.1 73.25,141.2 73.50,147.0 73.75,145.8 74.00,150.3 74.25,145.7 74.50,140.8 74.75,142.5 75.00,146.5 75.25,146.1 75.50,144.0 75.75,144.3 76.00,141.1 76.25,141.4 76.50,144.1 76.75,143.9 77.00,145.6 77.25,142.3 77.50,151.1 77.75,140.5 78.00,148.9 78.25,147.9 78.50,151.2 78.75,150.5 79.00,141.9 79.25,147.3 79.50,148.6 79.75,149.1 80.00,147.8 80.25,144.3 80.50,150.3 80.75,145.8 81.00,144.6 81.25,146.7 81.50,144.7 81.75,144.0 82.00,146.5 82.25,154.5 82.50,147.2 82.75,146.4 83.00,144.7 83.25,147.3 83.50,142.4 83.75,147.7 84.00,147.0 84.25,146.4 84.50,147.6 84.75,145.5 85.00,148.2 85.25,147.8 85.50,147.9 85.75,146.1 86.00,148.9 86.25,145.5 86.50,150.2 86.75,145.7 87.00,150.2 87.25,146.9 87.50,146.0 87.75,142.9 88.00,148.1 88.25,147.2 88.50,146.2 88.75,147.4 89.00,146.5 89.25,143.2 89.50,142.3 89.75,148.1 90.00,146.6 90.25,150.9 90.50,152.5 90.75,148.7 91.00,148.1 91.25,147.8 91.50,146.4 91.75,144.0 92.00,137.7 92.25,148.5 92.50,147.9 92.75,146.1 93.00,146.4 93.25,149.1 93.50,148.9 93.75,146.6 94.00,148.8 94.25,147.9 94.50,148.5 94.75,153.0 95.00,143.1 95.25,147.6 95.50,143.2 95.75,144.5 96.00,153.4 96.25,144.7 96.50,145.6 96.75,144.1 97.00,148.7 97.25,144.6 97.50,140.7 97.75,146.4 98.00,148.6 98.25,145.9 98.50,146.4 98.75,143.7 99.00,142.9 99.25,145.9 99.50,142.3 99.75,144.5 100.00,142.7 100.25,145.1 100.50,149.9 100.75,145.8 101.00,149.5 101.25,147.1 101.50,145.5 101.75,143.0 102.00,146.2 102.25,142.2 102.50,148.3 102.75,141.6 103.00,141.5 103.25,143.2 103.50,140.6 103.75,146.3 104.00,143.5 104.25,144.5 104.50,147.9 104.75,138.9 105.00,145.2 105.25,147.1 105.50,149.2 105.75,146.4 106.00,143.9 106.25,149.0 106.50,149.0 106.75,153.1 107.00,152.9 107.25,145.4 107.50,150.4 107.75,146.7 108.00,142.8 108.25,148.3 108.50,150.3 108.75,138.6 109.00,150.4 109.25,143.5 109.50,151.3 109.75,146.9 110.00,146.6 110.25,150.6 110.50,145.1 110.75,152.8 111.00,143.1 111.25,144.3 111.50,142.7 111.75,147.9 112.00,146.0 112.25,148.8 112.50,149.7 112.75,148.8 113.00,149.7 113.25,149.7 113.50,146.0 113.75,143.9 114.00,143.1 114.25,148.6 114.50,144.6 114.75,143.2 115.00,143.6 115.25,145.6 115.50,147.0 115.75,145.5 116.00,143.0 116.25,148.0 116.50,139.2 116.75,145.2 117.00,149.6 117.25,147.1 117.50,150.0 117.75,146.6 118.00,148.1 118.25,146.4 118.50,144.9 118.75,147.5 119.00,149.3 119.25,140.0 119.50,146.0 119.75,139.6 120.00,143.3 120.25,142.2 120.50,144.7 120.75,145.3 121.00,149.3 121.25,150.1 121.50,143.7 121.75,144.7 122.00,148.2 122.25,144.2 122.50,145.0 122.75,140.4 123.00,148.6 123.25,147.1 123.50,143.2 123.75,142.1 124.00,142.9 124.25,147.7 124.50,144.8 124.75,142.4 125.00,145.3 125.25,149.1 125.50,150.3 125.75,150.6 126.00,146.8 126.25,147.2 126.50,147.4 126.75,148.6 127.00,148.4 127.25,147.6 127.50,144.2 127.75,145.3 128.00,148.8 128.25,144.9 128.50,144.1 128.75,149.8 129.00,151.2 129.25,143.7 129.50,146.2 129.75,150.3 130.00,145.3 130.25,149.5 130.50,142.1 130.75,145.9 131.00,148.7 131.25,151.5 131.50,149.7 131.75,141.5 132.00,141.8 132.25,143.9 132.50,149.3 132.75,149.0 133.00,150.1 133.25,153.8 133.50,144.9 133.75,145.5 134.00,143.9 134.25,149.4 134.50,142.8 134.75,147.0 135.00,147.5 135.25,150.7 135.50,144.4 135.75,148.0 136.00,143.6 136.25,150.0 136.50,145.7 136.75,145.8 137.00,143.8 137.25,144.9 137.50,144.8 137.75,144.9 138.00,150.5 138.25,143.8 138.50,147.6 138.75,149.5 139.00,143.3 139.25,140.1 139.50,148.4 139.75,141.7 140.00,144.5 140.25,146.6 140.50,147.8 140.75,146.1 141.00,144.7 141.25,150.1 141.50,147.7 141.75,153.1 142.00,144.2 142.25,146.7 142.50,146.9 142.75,148.7 143.00,147.8 143.25,147.1 143.50,153.2 143.75,148.4 144.00,148.5 144.25,147.7 144.50,145.2 144.75,149.5 145.00,141.2 145.25,150.7 145.50,143.9 145.75,146.2 146.00,148.1 146.25,145.6 146.50,145.5 146.75,150.9 147.00,154.7 147.25,150.5 147.50,147.7 147.75,145.2 148.00,144.8 148.25,151.0 148.50,150.1 148.75,151.4 149.00,150.4 149.25,151.4 149.50,145.4 149.75,144.8 150.00,144.1 150.25,147.2 150.50,146.6 150.75,147.6 151.00,143.4 151.25,147.7 151.50,149.7 151.75,147.4 152.00,138.7 152.25,147.0 152.50,146.0 152.75,149.9 153.00,146.5 153.25,149.0 153.50,145.8 153.75,148.0 154.00,150.0 154.25,146.1 154.50,147.9 154.75,147.4 155.00,148.8 155.25,146.5 155.50,148.4 155.75,141.1 156.00,146.1 156.25,149.4 156.50,148.9 156.75,143.7 157.00,144.2 157.25,148.0 157.50,147.8 157.75,148.1 158.00,146.9 158.25,147.0 158.50,149.9 158.75,143.7 159.00,142.3 159.25,149.7 159.50,144.2 159.75,148.7 160.00,144.4 160.25,143.1 160.50,151.3 160.75,146.2 161.00,142.0 161.25,145.7 161.50,145.8 161.75,145.7 162.00,146.9 162.25,142.7 162.50,145.4 162.75,147.7 163.00,148.2 163.25,146.5 163.50,145.2 163.75,140.1 164.00,150.7 164.25,142.7 164.50,144.7 164.75,146.2 165.00,147.5 165.25,146.0 165.50,143.5 165.75,145.9 166.00,152.5 166.25,153.8 166.50,145.3 166.75,148.0 167.00,140.5 167.25,146.6 167.50,148.1 167.75,145.0 168.00,151.5 168.25,148.6 168.50,147.8 168.75,137.7 169.00,143.9 169.25,148.0 169.50,144.3 169.75,140.3 170.00,143.9 170.25,150.5 170.50,147.8 170.75,148.4 171.00,146.3 171.25,150.7 171.50,136.9 171.75,141.9 172.00,151.6 172.25,148.8 172.50,146.3 172.75,144.4 173.00,139.8 173.25,144.1 173.50,145.0 173.75,142.5 174.00,149.6 174.25,148.5 174.50,144.4 174.75,148.0 175.00,145.0 175.25,146.0 175.50,143.6 175.75,152.8 176.00,140.4 176.25,144.6 176.50,148.2 176.75,148.1 177.00,139.8 177.25,141.9 177.50,144.5 177.75,142.3 178.00,142.7 178.25,143.9 178.50,144.2 178.75,148.1 179.00,139.3 179.25,147.8 179.50,143.8 179.75,149.0 180.00,143.4 180.25,151.7 180.50,138.8 180.75,148.0 181.00,142.9 181.25,143.6 181.50,148.7 181.75,143.6 182.00,147.0 182.25,148.7 182.50,142.2 182.75,150.4 183.00,148.0 183.25,143.3 183.50,144.7 183.75,141.7 184.00,144.8 184.25,146.6 184.50,147.0 184.75,144.5 185.00,142.1 185.25,141.7 185.50,140.7 185.75,142.8 186.00,145.5 186.25,141.8 186.50,141.4 186.75,140.2 187.00,145.2 187.25,142.6 187.50,138.3 187.75,146.8 188.00,146.6 188.25,143.3 188.50,142.1 188.75,143.1 189.00,140.3 189.25,146.2 189.50,147.4 189.75,146.3 190.00,143.8 190.25,143.8 190.50,144.8 190.75,148.4 191.00,140.7 191.25,143.1 191.50,141.1 191.75,139.5 192.00,144.3 192.25,146.9 192.50,140.1 192.75,146.5 193.00,145.6 193.25,145.0 193.50,147.8 193.75,145.1 194.00,148.6 194.25,142.6 194.50,145.4 194.75,138.9 195.00,146.8 195.25,143.9 195.50,142.1 195.75,140.7 196.00,144.6 196.25,148.1 196.50,145.7 196.75,143.0 197.00,141.7 197.25,140.9 197.50,143.1 197.75,139.2 198.00,143.1 198.25,147.7 198.50,144.1 198.75,143.9 199.00,142.5 199.25,146.6 199.50,146.4 199.75,148.9 200.00,142.4 200.25,141.1 200.50,142.7 200.75,140.8 201.00,144.5 201.25,143.4 201.50,142.1 201.75,144.6 202.00,147.9 202.25,147.1 202.50,142.9 202.75,145.0 203.00,145.9 203.25,147.1 203.50,144.0 203.75,141.1 204.00,146.2 204.25,142.2 204.50,144.1 204.75,144.4 205.00,148.1 205.25,143.9 205.50,145.9 205.75,144.7 206.00,143.7 206.25,148.2 206.50,144.1 206.75,151.6 207.00,146.5 207.25,139.9 207.50,140.6 207.75,135.9 208.00,146.7 208.25,146.6 208.50,144.2 208.75,144.2 209.00,144.9 209.25,144.0 209.50,145.8 209.75,145.9 210.00,143.3 210.25,150.4 210.50,149.2 210.75,144.8 211.00,152.8 211.25,153.7 211.50,149.9 211.75,149.8 212.00,144.3 212.25,145.1 212.50,141.2 212.75,144.8 213.00,149.1 213.25,144.8 213.50,140.9 213.75,151.1 214.00,152.2 214.25,150.8 214.50,141.4 214.75,148.7 215.00,143.6 215.25,145.7 215.50,148.3 215.75,150.9 216.00,144.2 216.25,145.1 216.50,142.2 216.75,146.2 217.00,143.1 217.25,144.6 217.50,148.5 217.75,146.1 218.00,146.5 218.25,147.0 218.50,148.7 218.75,150.5 219.00,142.6 219.25,141.2 219.50,147.8 219.75,148.3 220.00,153.7 220.25,148.6 220.50,151.6 220.75,147.8 221.00,144.2 221.25,149.3 221.50,143.4 221.75,144.1 222.00,147.5 222.25,145.4 222.50,149.1 222.75,145.1 223.00,151.9 223.25,143.0 223.50,148.4 223.75,144.8 224.00,150.6 224.25,144.4 224.50,148.6 224.75,136.4 225.00,143.9 225.25,151.4 225.50,146.9 225.75,146.5 226.00,149.0 226.25,153.8 226.50,142.8 226.75,146.0 227.00,144.8 227.25,148.5 227.50,144.1 227.75,141.4 228.00,141.5 228.25,148.3 228.50,146.9 228.75,149.0 229.00,141.3 229.25,143.5 229.50,144.6 229.75,148.9 230.00,147.7 230.25,145.8 230.50,143.2 230.75,146.9 231.00,144.8 231.25,149.1 231.50,151.8 231.75,146.7 232.00,142.8 232.25,153.7 232.50,148.3 232.75,148.0 233.00,146.7 233.25,146.9 233.50,146.6 233.75,147.2 234.00,141.7 234.25,144.5 234.50,146.1 234.75,146.8 235.00,147.0 235.25,147.7 235.50,140.7 235.75,143.3 236.00,146.9 236.25,146.8 236.50,145.7 236.75,152.5 237.00,145.2 237.25,145.6 237.50,141.5 237.75,155.0 238.00,146.6 238.25,146.0 238.50,144.3 238.75,146.6 239.00,145.3 239.25,150.1 239.50,143.8 239.75,145.0 240.00,144.7 240.25,148.2 240.50,147.4 240.75,149.4 241.00,148.0 241.25,148.1 241.50,146.5 241.75,149.2 242.00,147.9 242.25,147.4 242.50,141.4 242.75,144.9 243.00,144.2 243.25,140.7 243.50,150.4 243.75,150.9 244.00,149.7 244.25,148.1 244.50,151.0 244.75,141.1 245.00,150.3 245.25,140.0 245.50,146.8 245.75,146.7 246.00,147.9 246.25,148.3 246.50,148.5 246.75,144.1 247.00,144.2 247.25,143.7 247.50,146.7 247.75,145.2 248.00,141.3 248.25,149.2 248.50,142.7 248.75,144.7 249.00,143.9 249.25,143.9 249.50,148.0 249.75,144.1 250.00,141.7 250.25,144.2 250.50,143.0 250.75,144.5 251.00,149.0 251.25,149.8 251.50,145.0 251.75,151.0 252.00,151.8 252.25,141.8 252.50,147.4 252.75,145.3 253.00,148.7 253.25,137.0 253.50,148.0 253.75,144.9 254.00,147.6 254.25,148.8 254.50,138.7 254.75,145.9 255.00,146.0 255.25,147.9 255.50,149.5 255.75,148.3 256.00,143.6 256.25,148.2 256.50,143.6 256.75,148.3 257.00,145.4 257.25,145.3 257.50,146.3 257.75,140.9 258.00,144.8 258.25,142.1 258.50,148.7 258.75,149.7 259.00,141.2 259.25,138.7 259.50,146.4 259.75,143.9 260.00,142.7 260.25,152.7 260.50,144.3 260.75,142.3 261.00,144.6 261.25,146.4 261.50,150.3 261.75,146.4 262.00,141.5 262.25,143.8 262.50,151.0 262.75,139.8 263.00,145.1 263.25,148.8 263.50,145.9 263.75,144.4 264.00,142.3 264.25,145.5 264.50,146.5 264.75,145.6 265.00,148.0 265.25,145.4 265.50,148.7 265.75,145.1 266.00,147.4 266.25,143.5 266.50,149.9 266.75,148.3 267.00,146.5 267.25,141.2 267.50,144.7 267.75,134.9 268.00,142.9 268.25,144.4 268.50,141.1 268.75,144.2 269.00,145.7 269.25,149.2 269.50,143.5 269.75,138.5 270.00,136.0 270.25,142.7 270.50,145.9 270.75,146.4 271.00,143.2 271.25,140.7 271.50,140.4 271.75,142.1 272.00,142.7 272.25,144.1 272.50,142.5 272.75,148.3 273.00,142.4 273.25,143.3 273.50,144.9 273.75,144.4 274.00,139.3 274.25,136.2 274.50,137.0 274.75,142.1 275.00,142.6 275.25,141.7 275.50,142.9 275.75,144.3 276.00,137.7 276.25,147.9 276.50,148.1 276.75,142.0 277.00,138.9 277.25,140.1 277.50,134.8 277.75,139.0 278.00,136.4 278.25,138.3 278.50,137.4 278.75,144.6 279.00,135.4 279.25,138.8 279.50,136.4 279.75,142.4 280.00,140.6 280.25,132.4 280.50,137.3 280.75,137.6 281.00,134.6 281.25,137.7 281.50,136.4 281.75,132.6 282.00,134.8 282.25,137.0 282.50,135.1 282.75,135.6 283.00,136.1 283.25,134.3 283.50,138.7 283.75,130.4 284.00,135.6 284.25,132.3 284.50,135.0 284.75,136.1 285.00,135.3 285.25,135.2 285.50,135.3 285.75,134.4 286.00,131.8 286.25,134.6 286.50,135.2 286.75,134.6 287.00,132.6 287.25,132.4 287.50,125.2 287.75,128.6 288.00,130.4 288.25,133.9 288.50,134.4 288.75,130.9 289.00,126.8 289.25,131.6 289.50,133.0 289.75,132.1 290.00,127.4 290.25,126.1 290.50,126.5 290.75,125.7 291.00,132.0 291.25,129.7 291.50,135.3 291.75,133.6 292.00,131.5 292.25,126.1 292.50,130.1 292.75,130.5 293.00,123.4 293.25,123.7 293.50,125.2 293.75,131.3 294.00,126.1 294.25,122.8 294.50,127.3 294.75,128.8 295.00,123.0 295.25,132.7 295.50,124.3 295.75,129.8 296.00,128.6 296.25,124.1 296.50,125.9 296.75,126.2 297.00,125.0 297.25,128.4 297.50,126.1 297.75,120.5 298.00,126.1 298.25,122.2 298.50,125.0 298.75,126.4 299.00,125.2 299.25,128.7 299.50,125.2 299.75,123.8 300.00,130.5 300.25,127.7 300.50,124.9 300.75,125.3 301.00,127.5 301.25,125.5 301.50,122.2 301.75,130.7 302.00,129.0 302.25,118.2 302.50,125.0 302.75,125.0 303.00,123.1 303.25,118.5 303.50,127.3 303.75,121.4 304.00,127.3 304.25,126.5 304.50,129.9 304.75,122.3 305.00,130.8 305.25,121.3 305.50,129.8 305.75,128.5 306.00,126.5 306.25,121.8 306.50,130.3 306.75,127.8 307.00,120.1 307.25,117.2 307.50,123.3 307.75,122.8 308.00,127.7 308.25,126.0 308.50,126.7 308.75,124.1 309.00,128.8 309.25,124.1 309.50,121.3 309.75,118.6 310.00,127.9 310.25,124.5 310.50,121.2 310.75,123.9 311.00,125.6 311.25,129.2 311.50,120.5 311.75,126.1 312.00,129.8 312.25,129.2 312.50,130.5 312.75,134.3 313.00,125.7 313.25,126.7 313.50,132.2 313.75,134.1 314.00,130.4 314.25,128.6 314.50,126.2 314.75,132.0 315.00,131.5 315.25,127.3 315.50,129.3 315.75,128.1 316.00,133.3 316.25,131.3 316.50,135.9 316.75,136.6 317.00,133.7 317.25,136.7 317.50,136.5 317.75,138.3 318.00,132.4 318.25,136.2 318.50,140.3 318.75,136.9 319.00,133.9 319.25,136.2 319.50,142.9 319.75,134.9 320.00,134.4 320.25,139.5 320.50,135.8 320.75,132.4 321.00,132.7 321.25,137.9 321.50,136.2 321.75,143.1 322.00,136.9 322.25,134.7 322.50,136.9 322.75,135.7 323.00,143.5 323.25,137.6 323.50,145.1 323.75,142.4 324.00,147.2 324.25,140.7 324.50,144.0 324.75,135.0 325.00,140.3 325.25,139.6 325.50,145.8 325.75,142.0 326.00,144.7 326.25,140.5 326.50,138.9 326.75,142.9 327.00,147.4 327.25,143.3 327.50,148.6 327.75,142.8 328.00,142.8 328.25,143.0 328.50,143.4 328.75,142.2 329.00,143.7 329.25,142.1 329.50,141.5 329.75,149.6 330.00,147.7 330.25,144.1 330.50,143.3 330.75,140.3 331.00,147.2 331.25,143.3 331.50,151.6 331.75,140.1 332.00,146.8 332.25,149.6 332.50,144.2 332.75,152.3 333.00,149.1 333.25,149.2 333.50,143.4 333.75,149.4 334.00,149.4 334.25,146.7 334.50,152.0 334.75,147.4 335.00,139.3 335.25,147.5 335.50,152.0 335.75,144.6 336.00,148.9 336.25,144.6 336.50,146.6 336.75,138.1 337.00,141.0 337.25,145.8 337.50,144.9 337.75,140.9 338.00,149.0 338.25,147.9 338.50,144.1 338.75,140.3 339.00,148.7 339.25,145.3 339.50,149.2 339.75,150.5 340.00,145.8 340.25,146.2 340.50,149.3 340.75,149.8 341.00,140.7 341.25,148.9 341.50,147.9 341.75,145.1 342.00,148.6 342.25,145.8 342.50,145.7 342.75,149.5 343.00,142.6 343.25,146.4 343.50,146.5 343.75,143.9 344.00,149.7 344.25,144.7 344.50,141.5 344.75,145.8 345.00,140.0 345.25,151.4 345.50,147.0 345.75,149.2 346.00,148.7 346.25,147.8 346.50,143.8 346.75,149.6 347.00,146.1 347.25,144.8 347.50,140.8 347.75,151.2 348.00,146.5 348.25,145.9 348.50,141.2 348.75,150.2 349.00,146.9 349.25,150.5 349.50,147.2 349.75,144.6 350.00,149.1 350.25,142.4 350.50,142.5 350.75,147.2 351.00,149.7 351.25,150.9 351.50,147.1 351.75,147.1 352.00,148.1 352.25,146.8 352.50,145.9 352.75,149.0 353.00,145.9 353.25,146.8 353.50,151.3 353.75,148.2 354.00,145.9 354.25,149.7 354.50,147.1 354.75,149.7 355.00,144.9 355.25,145.2 355.50,143.1 355.75,151.1 356.00,152.0 356.25,151.4 356.50,148.8 356.75,148.3 357.00,146.9 357.25,149.5 357.50,147.1 357.75,144.5 358.00,150.8 358.25,150.5 358.50,149.4 358.75,147.5 359.00,146.6 359.25,148.1 359.50,148.4 359.75,144.1 360.00,146.4 360.25,144.5 360.50,151.3 360.75,143.6 361.00,144.0 361.25,145.0 361.50,148.3 361.75,144.9 362.00,153.3 362.25,150.1 362.50,140.3 362.75,148.5 363.00,148.9 363.25,143.8 363.50,147.5 363.75,148.0 364.00,145.8 364.25,147.5 364.50,148.8 364.75,146.2 365.00,147.6 365.25,144.0 365.50,149.7 365.75,145.8 366.00,151.6 366.25,154.2 366.50,153.0 366.75,146.3 367.00,149.1 367.25,147.0 367.50,149.2 367.75,145.2 368.00,144.6 368.25,147.6 368.50,145.3 368.75,151.6 369.00,150.0 369.25,148.8 369.50,147.3 369.75,147.3 370.00,150.8 370.25,148.0 370.50,147.8 370.75,153.6 371.00,148.2 371.25,147.0 371.50,147.1 371.75,151.8 372.00,146.3 372.25,146.3 372.50,151.2 372.75,151.4 373.00,152.2 373.25,145.1 373.50,149.2 373.75,146.0 374.00,149.1 374.25,142.9 374.50,147.2 374.75,151.2 375.00,148.5 375.25,140.3 375.50,150.9 375.75,149.0 376.00,147.0 376.25,147.8 376.50,146.8 376.75,151.4 377.00,147.7 377.25,142.8 377.50,145.2 377.75,152.9 378.00,151.3 378.25,150.3 378.50,145.4 378.75,149.5 379.00,151.0 379.25,148.1 379.50,150.1 379.75,151.4 380.00,151.1 380.25,149.3 380.50,149.3 380.75,144.0 381.00,146.9 381.25,150.5 381.50,153.2 381.75,148.4 382.00,151.2 382.25,147.9 382.50,144.8 382.75,149.2 383.00,149.3 383.25,145.1 383.50,145.2 383.75,148.0 384.00,146.3 384.25,149.4 384.50,143.6 384.75,150.4 385.00,145.9 385.25,148.9 385.50,142.9 385.75,150.7 386.00,148.4 386.25,155.4 386.50,142.5 386.75,142.0 387.00,149.9 387.25,150.4 387.50,142.0 387.75,149.2 388.00,150.5 388.25,151.9 388.50,147.9 388.75,142.7 389.00,141.4 389.25,153.9 389.50,148.7 389.75,150.4 390.00,146.3 390.25,146.6 390.50,146.6 390.75,144.3 391.00,146.3 391.25,143.7 391.50,145.9 391.75,150.6 392.00,147.2 392.25,145.0 392.50,152.5 392.75,151.1 393.00,147.1 393.25,141.6 393.50,151.0 393.75,151.0 394.00,145.1 394.25,151.3 394.50,144.3 394.75,146.0 395.00,145.4 395.25,147.3 395.50,146.3 395.75,151.2 396.00,149.9 396.25,148.0 396.50,146.8 396.75,147.4 397.00,144.0 397.25,146.4 397.50,150.8 397.75,149.1 398.00,142.8 398.25,145.2 398.50,143.3 398.75,144.1 399.00,144.3 399.25,142.5 399.50,151.4 399.75,150.4 400.00,146.7 400.25,144.7 400.50,146.7 400.75,143.8 401.00,149.4 401.25,153.4 401.50,140.3 401.75,147.3 402.00,146.2 402.25,146.6 402.50,145.1 402.75,141.3 403.00,149.9 403.25,144.6 403.50,145.4 403.75,145.7 404.00,144.2 404.25,152.9 404.50,141.9 404.75,144.5 405.00,141.7 405.25,145.2 405.50,150.5 405.75,145.5 406.00,143.0 406.25,141.4 406.50,147.2 406.75,143.3 407.00,147.4 407.25,143.5 407.50,143.7 407.75,145.2 408.00,140.2 408.25,149.0 408.50,141.7 408.75,145.7 409.00,146.6 409.25,152.5 409.50,146.6 409.75,147.8 410.00,143.5 410.25,144.7 410.50,145.1 410.75,148.4 411.00,142.0 411.25,146.3 411.50,154.0 411.75,142.1 412.00,139.3 412.25,143.4 412.50,144.6 412.75,150.2 413.00,146.5 413.25,148.6 413.50,142.8 413.75,144.9 414.00,148.7 414.25,142.4 414.50,145.9 414.75,144.1 415.00,145.7 415.25,140.6 415.50,138.6 415.75,149.2 416.00,145.1 416.25,144.7 416.50,153.0 416.75,148.1 417.00,146.3 417.25,142.9 417.50,146.1 417.75,145.7 418.00,144.2 418.25,149.4 418.50,147.3 418.75,146.7 419.00,142.4 419.25,142.8 419.50,148.4 419.75,145.6 420.00,143.2 420.25,145.9 420.50,144.9 420.75,143.5 421.00,144.2 421.25,147.1 421.50,145.7 421.75,142.0 422.00,142.3 422.25,145.5 422.50,141.3 422.75,144.9 423.00,144.0 423.25,140.3 423.50,136.9 423.75,141.7 424.00,144.2 424.25,144.2 424.50,148.0 424.75,144.1 425.00,143.8 425.25,145.1 425.50,142.6 425.75,149.2 426.00,142.0 426.25,141.1 426.50,142.2 426.75,147.4 427.00,141.9 427.25,144.5 427.50,145.4 427.75,147.1 428.00,142.1 428.25,145.5 428.50,141.3 428.75,147.6 429.00,139.9 429.25,142.3 429.50,141.8 429.75,140.2 430.00,142.8 430.25,145.1 430.50,140.4 430.75,148.8 431.00,143.6 431.25,143.9 431.50,140.4 431.75,142.5 432.00,145.4 432.25,139.5 432.50,140.4 432.75,140.0 433.00,138.4 433.25,144.4 433.50,139.9 433.75,147.5 434.00,138.4 434.25,141.2 434.50,142.4 434.75,139.1 435.00,135.5 435.25,140.1 435.50,145.7 435.75,139.0 436.00,142.8 436.25,136.1 436.50,142.8 436.75,148.3 437.00,144.7 437.25,144.8 437.50,140.6 437.75,143.9 438.00,145.1 438.25,140.5 438.50,143.5 438.75,138.4 439.00,142.6 439.25,141.9 439.50,134.4 439.75,140.9 440.00,143.0 440.25,142.9 440.50,142.3 440.75,145.2 441.00,140.9 441.25,138.8 441.50,143.9 441.75,147.7 442.00,140.0 442.25,145.8 442.50,140.5 442.75,136.4 443.00,142.6 443.25,138.3 443.50,144.6 443.75,141.3 444.00,139.2 444.25,141.3 444.50,145.2 444.75,140.6 445.00,138.6 445.25,141.9 445.50,138.2 445.75,142.3 446.00,143.8 446.25,141.3 446.50,139.4 446.75,141.1 447.00,136.3 447.25,147.5 447.50,148.0 447.75,140.7 448.00,134.2 448.25,138.5 448.50,136.1 448.75,134.7 449.00,140.1 449.25,140.0 449.50,138.5 449.75,147.8 450.00,140.5 450.25,137.4 450.50,141.7 450.75,136.4 451.00,139.2 451.25,137.7 451.50,141.2 451.75,139.4 452.00,138.4 452.25,142.0 452.50,141.6 452.75,140.9 453.00,143.5 453.25,140.0 453.50,141.2 453.75,145.1 454.00,139.9 454.25,133.0 454.50,142.8 454.75,139.1 455.00,141.7 455.25,140.5 455.50,141.5 455.75,143.4 456.00,139.9 456.25,141.9 456.50,135.4 456.75,136.6 457.00,138.9 457.25,144.2 457.50,136.6 457.75,138.1 458.00,141.2 458.25,137.4 458.50,135.0 458.75,132.9 459.00,141.4 459.25,135.4 459.50,139.9 459.75,140.4 460.00,135.6 460.25,140.1 460.50,132.0 460.75,138.2 461.00,135.3 461.25,139.2 461.50,139.1 461.75,139.0 462.00,140.3 462.25,136.3 462.50,133.8 462.75,134.4 463.00,141.3 463.25,134.9 463.50,137.0 463.75,139.1 464.00,137.5 464.25,138.6 464.50,131.3 464.75,140.8 465.00,136.1 465.25,132.9 465.50,136.0 465.75,138.1 466.00,131.9 466.25,138.5 466.50,138.2 466.75,139.7 467.00,138.4 467.25,135.3 467.50,133.4 467.75,137.9 468.00,137.0 468.25,143.4 468.50,137.8 468.75,140.0 469.00,139.0 469.25,133.5 469.50,141.3 469.75,137.6 470.00,134.6 470.25,140.4 470.50,143.1 470.75,138.9 471.00,138.5 471.25,137.4 471.50,138.2 471.75,146.2 472.00,139.9 472.25,141.0 472.50,141.6 472.75,130.7 473.00,140.4 473.25,141.7 473.50,140.7 473.75,135.5 474.00,137.7 474.25,142.3 474.50,141.6 474.75,141.7 475.00,136.9 475.25,141.3 475.50,145.0 475.75,140.8 476.00,144.9 476.25,143.5 476.50,143.4 476.75,138.8 477.00,139.0 477.25,139.0 477.50,144.7 477.75,145.0 478.00,138.0 478.25,137.3 478.50,141.7 478.75,145.4 479.00,142.2 479.25,143.4 479.50,143.0 479.75,143.3 480.00,141.1 480.25,143.1 480.50,143.8 480.75,141.3 481.00,146.9 481.25,139.1 481.50,140.6 481.75,139.2 482.00,145.2 482.25,145.3 482.50,139.7 482.75,142.2 483.00,140.6 483.25,137.9 483.50,139.6 483.75,143.2 484.00,143.9 484.25,140.0 484.50,142.3 484.75,144.9 485.00,146.6 485.25,143.5 485.50,139.9 485.75,137.6 486.00,142.7 486.25,141.6 486.50,140.8 486.75,140.5 487.00,141.0 487.25,143.2 487.50,144.8 487.75,140.3 488.00,148.6 488.25,147.3 488.50,142.2 488.75,143.9 489.00,147.7 489.25,140.3 489.50,141.2 489.75,141.3 490.00,140.1 490.25,145.4 490.50,142.6 490.75,143.6 491.00,143.6 491.25,142.8 491.50,148.1 491.75,143.0 492.00,140.9 492.25,139.3 492.50,141.5 492.75,144.2 493.00,144.2 493.25,144.6 493.50,142.5 493.75,145.1" fill="none" stroke="#e3141c" stroke-width="1.3" stroke-linejoin="round" />
<polyline points="35.00,142.9 35.25,145.0 35.50,144.3 35.75,148.1 36.00,150.4 36.25,148.0 36.50,146.8 36.75,147.4 37.00,148.4 37.25,144.9 37.50,146.6 37.75,146.6 38.00,145.6 38.25,144.4 38.50,147.8 38.75,148.7 39.00,152.0 39.25,147.6 39.50,147.7 39.75,144.1 40.00,146.9 40.25,150.4 40.50,152.4 40.75,148.4 41.00,151.5 41.25,151.6 41.50,152.8 41.75,149.2 42.00,145.5 42.25,147.6 42.50,150.4 42.75,145.6 43.00,147.0 43.25,144.8 43.50,145.6 43.75,143.2 44.00,150.2 44.25,145.2 44.50,147.3 44.75,148.4 45.00,146.2 45.25,144.1 45.50,145.4 45.75,144.1 46.00,147.3 46.25,145.3 46.50,150.0 46.75,146.0 47.00,148.3 47.25,144.4 47.50,142.1 47.75,146.0 48.00,149.5 48.25,149.5 48.50,150.1 48.75,145.8 49.00,145.9 49.25,147.2 49.50,145.9 49.75,148.3 50.00,149.1 50.25,149.4 50.50,144.7 50.75,150.8 51.00,141.7 51.25,145.9 51.50,145.3 51.75,146.7 52.00,146.0 52.25,149.8 52.50,144.7 52.75,148.7 53.00,143.7 53.25,146.7 53.50,147.7 53.75,149.3 54.00,143.6 54.25,140.8 54.50,151.3 54.75,144.2 55.00,145.9 55.25,146.2 55.50,150.5 55.75,148.7 56.00,150.0 56.25,150.3 56.50,148.1 56.75,146.1 57.00,150.3 57.25,149.4 57.50,147.6 57.75,141.8 58.00,145.1 58.25,147.9 58.50,145.4 58.75,149.3 59.00,153.9 59.25,147.0 59.50,147.7 59.75,149.1 60.00,151.5 60.25,141.0 60.50,145.4 60.75,150.6 61.00,147.4 61.25,142.1 61.50,150.6 61.75,143.1 62.00,149.2 62.25,149.4 62.50,145.7 62.75,143.6 63.00,148.1 63.25,145.7 63.50,145.9 63.75,145.1 64.00,145.4 64.25,144.0 64.50,148.9 64.75,149.8 65.00,144.4 65.25,143.2 65.50,148.7 65.75,150.2 66.00,148.1 66.25,149.8 66.50,148.8 66.75,146.9 67.00,145.9 67.25,144.6 67.50,146.4 67.75,141.9 68.00,150.6 68.25,143.6 68.50,147.4 68.75,147.6 69.00,146.4 69.25,146.5 69.50,147.8 69.75,145.5 70.00,148.6 70.25,148.5 70.50,143.0 70.75,146.4 71.00,141.8 71.25,146.3 71.50,146.8 71.75,142.9 72.00,150.4 72.25,142.9 72.50,149.8 72.75,142.0 73.00,148.5 73.25,141.3 73.50,145.1 73.75,143.0 74.00,147.3 74.25,144.2 74.50,145.9 74.75,147.1 75.00,143.7 75.25,144.8 75.50,147.1 75.75,143.8 76.00,147.4 76.25,141.6 76.50,151.9 76.75,149.3 77.00,142.4 77.25,144.2 77.50,145.4 77.75,147.9 78.00,148.3 78.25,149.2 78.50,149.5 78.75,143.3 79.00,146.8 79.25,145.9 79.50,147.9 79.75,145.9 80.00,141.5 80.25,145.0 80.50,153.0 80.75,146.3 81.00,152.4 81.25,146.1 81.50,145.5 81.75,146.3 82.00,145.7 82.25,148.6 82.50,145.1 82.75,141.2 83.00,148.6 83.25,147.7 83.50,145.1 83.75,145.9 84.00,148.3 84.25,147.3 84.50,143.6 84.75,149.9 85.00,153.1 85.25,146.3 85.50,143.5 85.75,149.1 86.00,150.0 86.25,143.8 86.50,142.2 86.75,142.6 87.00,144.9 87.25,143.2 87.50,144.9 87.75,144.9 88.00,141.7 88.25,147.0 88.50,149.8 88.75,140.5 89.00,145.3 89.25,144.7 89.50,143.9 89.75,146.1 90.00,143.1 90.25,148.1 90.50,144.9 90.75,143.1 91.00,147.0 91.25,146.1 91.50,149.7 91.75,146.2 92.00,144.8 92.25,150.9 92.50,146.4 92.75,146.8 93.00,149.7 93.25,144.3 93.50,145.5 93.75,143.7 94.00,151.0 94.25,143.4 94.50,142.7 94.75,142.6 95.00,150.6 95.25,148.6 95.50,143.8 95.75,143.7 96.00,152.0 96.25,144.0 96.50,145.8 96.75,143.8 97.00,152.4 97.25,143.8 97.50,141.9 97.75,146.2 98.00,146.5 98.25,144.9 98.50,143.7 98.75,140.7 99.00,143.3 99.25,150.8 99.50,141.2 99.75,149.2 100.00,152.0 100.25,149.4 100.50,146.8 100.75,149.4 101.00,149.3 101.25,142.3 101.50,147.5 101.75,143.3 102.00,140.3 102.25,148.6 102.50,143.8 102.75,146.7 103.00,142.5 103.25,148.8 103.50,147.7 103.75,145.2 104.00,143.5 104.25,144.1 104.50,146.5 104.75,144.3 105.00,143.3 105.25,147.6 105.50,147.0 105.75,148.8 106.00,148.4 106.25,142.8 106.50,146.4 106.75,143.7 107.00,142.4 107.25,146.5 107.50,145.4 107.75,147.3 108.00,145.0 108.25,148.0 108.50,145.7 108.75,146.9 109.00,149.0 109.25,150.9 109.50,145.2 109.75,140.8 110.00,142.0 110.25,149.6 110.50,151.0 110.75,148.6 111.00,150.4 111.25,145.4 111.50,144.9 111.75,149.9 112.00,148.5 112.25,147.9 112.50,148.1 112.75,146.4 113.00,142.0 113.25,149.6 113.50,147.2 113.75,144.6 114.00,145.2 114.25,148.9 114.50,144.8 114.75,143.5 115.00,147.6 115.25,149.5 115.50,149.1 115.75,148.9 116.00,147.5 116.25,146.2 116.50,141.5 116.75,146.3 117.00,145.0 117.25,151.1 117.50,145.4 117.75,147.6 118.00,148.9 118.25,143.7 118.50,143.6 118.75,150.2 119.00,150.0 119.25,142.3 119.50,147.0 119.75,150.4 120.00,144.6 120.25,146.9 120.50,147.1 120.75,145.8 121.00,145.4 121.25,139.6 121.50,143.7 121.75,145.8 122.00,147.3 122.25,151.6 122.50,153.4 122.75,150.5 123.00,147.3 123.25,143.9 123.50,146.3 123.75,149.8 124.00,146.5 124.25,147.6 124.50,150.3 124.75,144.4 125.00,145.0 125.25,151.0 125.50,148.5 125.75,149.6 126.00,147.7 126.25,144.3 126.50,150.6 126.75,146.0 127.00,148.4 127.25,148.7 127.50,148.4 127.75,144.0 128.00,148.5 128.25,143.7 128.50,148.0 128.75,146.1 129.00,151.2 129.25,145.6 129.50,146.8 129.75,146.7 130.00,142.0 130.25,146.5 130.50,147.0 130.75,145.0 131.00,146.7 131.25,147.9 131.50,148.2 131.75,148.6 132.00,150.0 132.25,150.3 132.50,146.4 132.75,148.1 133.00,147.1 133.25,146.0 133.50,145.9 133.75,144.3 134.00,147.7 134.25,149.8 134.50,146.1 134.75,146.0 135.00,144.8 135.25,143.7 135.50,144.3 135.75,147.8 136.00,142.8 136.25,151.6 136.50,149.4 136.75,152.2 137.00,145.7 137.25,149.7 137.50,146.4 137.75,152.5 138.00,147.0 138.25,148.6 138.50,145.1 138.75,150.3 139.00,148.7 139.25,148.8 139.50,151.9 139.75,145.1 140.00,142.5 140.25,142.2 140.50,145.6 140.75,146.5 141.00,146.5 141.25,148.8 141.50,150.4 141.75,145.6 142.00,150.8 142.25,146.1 142.50,144.9 142.75,149.5 143.00,149.9 143.25,149.4 143.50,144.9 143.75,151.3 144.00,148.7 144.25,145.5 144.50,147.7 144.75,148.2 145.00,147.6 145.25,146.1 145.50,152.2 145.75,146.4 146.00,148.7 146.25,147.6 146.50,148.4 146.75,143.4 147.00,153.1 147.25,151.8 147.50,147.6 147.75,150.8 148.00,148.0 148.25,150.0 148.50,147.6 148.75,143.7 149.00,146.2 149.25,146.3 149.50,146.0 149.75,142.5 150.00,147.2 150.25,149.3 150.50,148.8 150.75,145.6 151.00,152.2 151.25,147.2 151.50,148.7 151.75,147.1 152.00,145.5 152.25,148.0 152.50,145.1 152.75,144.7 153.00,142.6 153.25,148.0 153.50,149.2 153.75,151.6 154.00,146.5 154.25,146.9 154.50,149.7 154.75,146.1 155.00,147.3 155.25,148.4 155.50,147.1 155.75,148.2 156.00,149.1 156.25,146.6 156.50,152.4 156.75,145.5 157.00,147.3 157.25,148.0 157.50,147.2 157.75,144.3 158.00,147.3 158.25,144.7 158.50,146.8 158.75,148.6 159.00,149.1 159.25,147.1 159.50,145.8 159.75,152.7 160.00,146.8 160.25,151.8 160.50,145.0 160.75,147.6 161.00,151.2 161.25,144.7 161.50,143.8 161.75,149.5 162.00,151.1 162.25,149.1 162.50,148.1 162.75,145.5 163.00,147.8 163.25,149.1 163.50,145.8 163.75,142.5 164.00,149.7 164.25,143.7 164.50,143.2 164.75,145.5 165.00,149.6 165.25,143.3 165.50,146.8 165.75,151.5 166.00,147.7 166.25,146.0 166.50,144.5 166.75,142.5 167.00,150.2 167.25,143.0 167.50,146.9 167.75,149.0 168.00,144.9 168.25,145.9 168.50,149.1 168.75,146.7 169.00,149.6 169.25,149.3 169.50,150.3 169.75,142.6 170.00,147.1 170.25,146.5 170.50,145.8 170.75,141.8 171.00,145.8 171.25,149.5 171.50,148.7 171.75,145.7 172.00,145.8 172.25,145.8 172.50,148.2 172.75,144.2 173.00,144.3 173.25,142.2 173.50,148.0 173.75,150.8 174.00,146.9 174.25,147.4 174.50,147.9 174.75,142.8 175.00,147.3 175.25,149.7 175.50,148.4 175.75,145.1 176.00,143.6 176.25,143.8 176.50,148.6 176.75,143.9 177.00,145.7 177.25,146.0 177.50,144.6 177.75,142.9 178.00,146.4 178.25,143.3 178.50,144.1 178.75,148.2 179.00,147.0 179.25,139.4 179.50,142.1 179.75,147.0 180.00,142.6 180.25,147.1 180.50,147.7 180.75,147.6 181.00,149.5 181.25,141.4 181.50,142.5 181.75,143.5 182.00,143.5 182.25,147.2 182.50,145.9 182.75,142.5 183.00,143.4 183.25,141.4 183.50,143.6 183.75,141.0 184.00,149.4 184.25,146.6 184.50,143.5 184.75,144.0 185.00,146.4 185.25,144.3 185.50,147.6 185.75,144.7 186.00,150.3 186.25,145.9 186.50,144.4 186.75,141.4 187.00,142.7 187.25,148.7 187.50,143.1 187.75,146.4 188.00,140.1 188.25,145.3 188.50,141.0 188.75,142.5 189.00,143.7 189.25,140.0 189.50,149.9 189.75,140.7 190.00,142.4 190.25,148.2 190.50,146.2 190.75,137.3 191.00,144.8 191.25,146.6 191.50,141.1 191.75,143.9 192.00,142.0 192.25,142.0 192.50,148.6 192.75,146.7 193.00,141.9 193.25,140.9 193.50,146.2 193.75,144.8 194.00,143.4 194.25,145.0 194.50,140.9 194.75,142.4 195.00,142.5 195.25,147.8 195.50,145.5 195.75,141.9 196.00,142.6 196.25,147.5 196.50,145.6 196.75,143.3 197.00,143.8 197.25,146.8 197.50,144.1 197.75,144.3 198.00,143.1 198.25,138.5 198.50,146.6 198.75,144.6 199.00,147.3 199.25,153.4 199.50,144.3 199.75,146.8 200.00,144.3 200.25,143.3 200.50,143.2 200.75,144.4 201.00,145.5 201.25,150.1 201.50,146.5 201.75,144.0 202.00,148.2 202.25,143.2 202.50,147.5 202.75,146.3 203.00,144.3 203.25,146.9 203.50,148.8 203.75,147.5 204.00,140.9 204.25,141.2 204.50,145.6 204.75,145.2 205.00,142.2 205.25,148.0 205.50,147.3 205.75,149.3 206.00,146.9 206.25,150.7 206.50,144.5 206.75,145.2 207.00,148.0 207.25,147.3 207.50,142.3 207.75,144.3 208.00,148.0 208.25,146.8 208.50,144.6 208.75,145.8 209.00,146.2 209.25,146.1 209.50,147.9 209.75,148.4 210.00,144.6 210.25,152.8 210.50,147.5 210.75,146.4 211.00,151.7 211.25,146.8 211.50,148.2 211.75,143.3 212.00,145.2 212.25,145.1 212.50,142.1 212.75,145.7 213.00,144.5 213.25,150.1 213.50,147.9 213.75,144.5 214.00,149.5 214.25,146.3 214.50,141.5 214.75,146.7 215.00,150.6 215.25,147.0 215.50,145.1 215.75,147.0 216.00,145.2 216.25,148.3 216.50,147.5 216.75,145.9 217.00,149.0 217.25,151.3 217.50,147.7 217.75,150.2 218.00,149.0 218.25,146.4 218.50,147.0 218.75,150.8 219.00,147.9 219.25,149.4 219.50,142.7 219.75,148.9 220.00,142.3 220.25,152.1 220.50,147.7 220.75,149.3 221.00,145.1 221.25,146.7 221.50,144.0 221.75,144.4 222.00,147.5 222.25,146.0 222.50,146.1 222.75,146.5 223.00,150.5 223.25,149.6 223.50,152.0 223.75,146.3 224.00,145.4 224.25,147.6 224.50,149.0 224.75,144.3 225.00,148.7 225.25,146.2 225.50,148.3 225.75,147.8 226.00,146.3 226.25,144.9 226.50,146.3 226.75,149.9 227.00,142.4 227.25,147.4 227.50,146.6 227.75,146.5 228.00,147.5 228.25,148.1 228.50,147.0 228.75,150.5 229.00,146.2 229.25,152.8 229.50,141.9 229.75,151.3 230.00,146.0 230.25,143.7 230.50,144.6 230.75,145.6 231.00,147.4 231.25,146.7 231.50,150.4 231.75,146.5 232.00,146.2 232.25,146.0 232.50,148.4 232.75,147.1 233.00,151.0 233.25,145.5 233.50,146.0 233.75,145.7 234.00,144.8 234.25,145.8 234.50,144.5 234.75,141.0 235.00,142.2 235.25,143.7 235.50,139.7 235.75,144.4 236.00,148.2 236.25,147.3 236.50,142.2 236.75,142.4 237.00,145.0 237.25,144.3 237.50,148.0 237.75,146.8 238.00,147.1 238.25,145.7 238.50,148.9 238.75,147.0 239.00,153.5 239.25,148.6 239.50,147.1 239.75,146.1 240.00,145.1 240.25,144.0 240.50,147.2 240.75,148.1 241.00,150.9 241.25,147.6 241.50,149.2 241.75,147.6 242.00,146.2 242.25,148.3 242.50,148.4 242.75,146.2 243.00,146.1 243.25,146.5 243.50,141.3 243.75,147.6 244.00,143.0 244.25,153.0 244.50,146.4 244.75,147.6 245.00,147.8 245.25,142.2 245.50,151.0 245.75,145.2 246.00,149.9 246.25,150.5 246.50,149.4 246.75,139.2 247.00,143.9 247.25,145.7 247.50,143.5 247.75,146.8 248.00,151.2 248.25,150.3 248.50,145.8 248.75,143.9 249.00,149.0 249.25,148.9 249.50,146.2 249.75,144.5 250.00,151.1 250.25,151.5 250.50,150.4 250.75,149.1 251.00,145.8 251.25,147.6 251.50,143.9 251.75,151.1 252.00,143.9 252.25,144.7 252.50,146.0 252.75,146.3 253.00,150.8 253.25,149.0 253.50,144.6 253.75,147.6 254.00,147.5 254.25,150.8 254.50,142.3 254.75,145.2 255.00,143.9 255.25,147.2 255.50,149.1 255.75,146.1 256.00,152.6 256.25,144.0 256.50,147.0 256.75,144.8 257.00,142.7 257.25,145.4 257.50,146.7 257.75,144.6 258.00,144.6 258.25,146.3 258.50,144.6 258.75,149.0 259.00,148.1 259.25,146.5 259.50,149.1 259.75,140.2 260.00,143.6 260.25,149.8 260.50,143.8 260.75,148.8 261.00,147.4 261.25,146.4 261.50,145.6 261.75,142.8 262.00,141.9 262.25,141.2 262.50,147.1 262.75,145.8 263.00,146.7 263.25,142.7 263.50,145.8 263.75,148.7 264.00,143.5 264.25,144.2 264.50,144.5 264.75,151.1 265.00,148.5 265.25,150.7 265.50,152.5 265.75,144.6 266.00,146.0 266.25,138.6 266.50,145.3 266.75,143.5 267.00,145.0 267.25,145.1 267.50,138.7 267.75,145.5 268.00,143.3 268.25,140.9 268.50,142.6 268.75,146.4 269.00,142.2 269.25,147.8 269.50,145.3 269.75,143.7 270.00,141.0 270.25,141.1 270.50,146.4 270.75,143.2 271.00,143.8 271.25,143.7 271.50,145.2 271.75,144.8 272.00,141.6 272.25,143.4 272.50,141.9 272.75,143.7 273.00,138.0 273.25,141.4 273.50,145.4 273.75,138.2 274.00,139.7 274.25,142.0 274.50,137.9 274.75,141.3 275.00,141.7 275.25,142.9 275.50,141.1 275.75,141.2 276.00,139.1 276.25,140.8 276.50,140.7 276.75,141.1 277.00,141.7 277.25,141.5 277.50,141.2 277.75,139.8 278.00,139.2 278.25,137.4 278.50,140.4 278.75,141.8 279.00,136.9 279.25,139.8 279.50,137.5 279.75,137.2 280.00,134.7 280.25,136.6 280.50,138.8 280.75,138.3 281.00,139.0 281.25,134.7 281.50,130.2 281.75,138.1 282.00,135.8 282.25,137.6 282.50,140.6 282.75,138.2 283.00,129.3 283.25,133.5 283.50,133.8 283.75,138.9 284.00,132.2 284.25,133.1 284.50,136.9 284.75,128.7 285.00,131.9 285.25,129.4 285.50,130.0 285.75,134.1 286.00,132.7 286.25,132.0 286.50,132.1 286.75,130.8 287.00,131.7 287.25,133.1 287.50,129.3 287.75,131.7 288.00,129.9 288.25,133.6 288.50,134.2 288.75,132.5 289.00,133.3 289.25,129.0 289.50,129.3 289.75,130.6 290.00,129.1 290.25,131.4 290.50,129.1 290.75,125.9 291.00,126.4 291.25,129.8 291.50,135.5 291.75,129.1 292.00,124.4 292.25,129.2 292.50,126.5 292.75,124.6 293.00,135.4 293.25,134.6 293.50,127.7 293.75,127.6 294.00,126.8 294.25,129.8 294.50,129.7 294.75,130.3 295.00,124.2 295.25,126.3 295.50,129.2 295.75,127.3 296.00,122.7 296.25,126.7 296.50,129.4 296.75,120.6 297.00,130.8 297.25,126.0 297.50,130.5 297.75,129.0 298.00,127.3 298.25,125.9 298.50,125.6 298.75,124.1 299.00,126.4 299.25,126.9 299.50,121.7 299.75,124.2 300.00,119.2 300.25,121.4 300.50,123.5 300.75,127.0 301.00,125.6 301.25,125.9 301.50,124.3 301.75,122.4 302.00,127.8 302.25,127.4 302.50,122.3 302.75,124.6 303.00,126.5 303.25,122.5 303.50,123.2 303.75,126.7 304.00,125.8 304.25,128.1 304.50,124.7 304.75,127.3 305.00,127.0 305.25,130.8 305.50,123.5 305.75,125.4 306.00,122.9 306.25,127.4 306.50,127.7 306.75,130.3 307.00,125.3 307.25,128.2 307.50,126.6 307.75,130.7 308.00,126.2 308.25,125.6 308.50,128.6 308.75,126.1 309.00,124.5 309.25,121.6 309.50,127.9 309.75,130.2 310.00,127.3 310.25,129.8 310.50,126.1 310.75,129.4 311.00,129.8 311.25,126.5 311.50,124.0 311.75,127.2 312.00,128.2 312.25,130.3 312.50,123.2 312.75,132.8 313.00,130.6 313.25,128.4 313.50,126.4 313.75,127.8 314.00,131.0 314.25,131.2 314.50,131.3 314.75,126.2 315.00,129.5 315.25,131.0 315.50,130.7 315.75,129.9 316.00,132.3 316.25,135.5 316.50,128.9 316.75,136.1 317.00,130.4 317.25,130.7 317.50,130.9 317.75,136.1 318.00,135.6 318.25,137.5 318.50,132.7 318.75,131.9 319.00,141.3 319.25,137.3 319.50,129.3 319.75,133.5 320.00,136.8 320.25,141.0 320.50,142.5 320.75,134.7 321.00,139.7 321.25,137.6 321.50,137.6 321.75,137.6 322.00,135.7 322.25,136.8 322.50,138.6 322.75,141.1 323.00,136.3 323.25,144.3 323.50,139.6 323.75,143.0 324.00,138.4 324.25,138.0 324.50,144.6 324.75,143.3 325.00,136.6 325.25,143.5 325.50,137.9 325.75,143.8 326.00,144.9 326.25,143.0 326.50,142.3 326.75,142.8 327.00,143.3 327.25,141.4 327.50,145.0 327.75,142.3 328.00,139.4 328.25,145.1 328.50,149.3 328.75,147.5 329.00,144.2 329.25,142.8 329.50,143.5 329.75,148.7 330.00,147.3 330.25,142.9 330.50,146.0 330.75,149.6 331.00,145.8 331.25,146.0 331.50,144.2 331.75,141.2 332.00,148.3 332.25,147.8 332.50,148.1 332.75,149.6 333.00,146.0 333.25,145.1 333.50,147.5 333.75,143.0 334.00,141.1 334.25,145.5 334.50,144.8 334.75,144.1 335.00,146.9 335.25,148.6 335.50,144.9 335.75,145.2 336.00,142.1 336.25,144.3 336.50,146.2 336.75,146.8 337.00,148.2 337.25,152.5 337.50,144.2 337.75,149.8 338.00,149.2 338.25,147.5 338.50,146.2 338.75,150.1 339.00,149.5 339.25,151.3 339.50,153.0 339.75,143.6 340.00,149.5 340.25,149.8 340.50,150.2 340.75,149.0 341.00,145.6 341.25,153.1 341.50,145.0 341.75,150.2 342.00,146.4 342.25,146.8 342.50,150.1 342.75,145.4 343.00,149.8 343.25,147.9 343.50,144.8 343.75,147.5 344.00,148.4 344.25,149.6 344.50,150.8 344.75,143.9 345.00,145.6 345.25,145.7 345.50,143.9 345.75,153.1 346.00,146.5 346.25,146.9 346.50,146.6 346.75,147.7 347.00,150.3 347.25,148.2 347.50,146.0 347.75,147.0 348.00,148.9 348.25,148.7 348.50,150.2 348.75,151.3 349.00,146.5 349.25,145.2 349.50,146.6 349.75,148.3 350.00,146.3 350.25,148.8 350.50,144.6 350.75,147.8 351.00,148.8 351.25,145.7 351.50,150.0 351.75,152.5 352.00,139.6 352.25,145.8 352.50,147.5 352.75,150.1 353.00,145.3 353.25,148.5 353.50,151.9 353.75,148.9 354.00,146.6 354.25,146.5 354.50,148.7 354.75,149.3 355.00,149.1 355.25,148.2 355.50,142.2 355.75,145.9 356.00,147.3 356.25,148.6 356.50,149.6 356.75,146.5 357.00,150.1 357.25,152.4 357.50,149.6 357.75,150.3 358.00,147.1 358.25,145.5 358.50,149.6 358.75,149.3 359.00,151.1 359.25,147.3 359.50,145.5 359.75,145.5 360.00,148.9 360.25,142.9 360.50,151.8 360.75,147.1 361.00,148.2 361.25,147.4 361.50,152.4 361.75,144.6 362.00,150.1 362.25,149.3 362.50,151.4 362.75,150.5 363.00,145.3 363.25,143.8 363.50,142.3 363.75,147.3 364.00,149.5 364.25,148.6 364.50,147.0 364.75,149.5 365.00,144.2 365.25,151.6 365.50,152.2 365.75,151.5 366.00,150.1 366.25,152.9 366.50,144.3 366.75,145.3 367.00,148.2 367.25,148.2 367.50,147.2 367.75,149.6 368.00,147.3 368.25,152.6 368.50,148.4 368.75,141.7 369.00,147.0 369.25,146.2 369.50,144.2 369.75,150.8 370.00,145.4 370.25,143.0 370.50,147.0 370.75,153.2 371.00,148.3 371.25,153.4 371.50,150.0 371.75,153.3 372.00,150.1 372.25,149.9 372.50,140.0 372.75,144.3 373.00,144.3 373.25,147.3 373.50,150.7 373.75,150.1 374.00,149.8 374.25,146.3 374.50,145.3 374.75,147.5 375.00,149.4 375.25,148.5 375.50,145.5 375.75,144.0 376.00,150.7 376.25,145.3 376.50,147.5 376.75,148.0 377.00,149.3 377.25,145.9 377.50,144.7 377.75,147.5 378.00,145.6 378.25,148.4 378.50,143.8 378.75,146.9 379.00,144.5 379.25,154.0 379.50,143.0 379.75,146.6 380.00,147.1 380.25,146.5 380.50,144.5 380.75,145.4 381.00,147.5 381.25,152.1 381.50,151.7 381.75,153.1 382.00,146.8 382.25,148.8 382.50,151.9 382.75,149.9 383.00,149.0 383.25,148.7 383.50,150.8 383.75,146.9 384.00,149.3 384.25,146.2 384.50,150.5 384.75,149.9 385.00,148.3 385.25,144.7 385.50,148.0 385.75,152.7 386.00,146.7 386.25,149.1 386.50,143.3 386.75,145.2 387.00,148.0 387.25,150.5 387.50,150.3 387.75,146.3 388.00,153.2 388.25,140.2 388.50,143.7 388.75,150.8 389.00,151.4 389.25,152.6 389.50,145.3 389.75,143.8 390.00,143.6 390.25,145.0 390.50,148.8 390.75,146.5 391.00,146.4 391.25,149.2 391.50,146.9 391.75,147.9 392.00,151.5 392.25,145.4 392.50,147.6 392.75,145.2 393.00,149.4 393.25,144.0 393.50,144.7 393.75,149.1 394.00,141.6 394.25,152.2 394.50,148.9 394.75,146.6 395.00,146.1 395.25,148.5 395.50,148.2 395.75,144.3 396.00,147.4 396.25,144.6 396.50,145.5 396.75,146.9 397.00,147.1 397.25,146.0 397.50,146.6 397.75,145.7 398.00,145.9 398.25,151.1 398.50,150.7 398.75,144.2 399.00,140.7 399.25,148.9 399.50,151.8 399.75,146.0 400.00,147.7 400.25,146.7 400.50,147.5 400.75,145.2 401.00,146.5 401.25,145.9 401.50,145.7 401.75,146.9 402.00,142.6 402.25,149.5 402.50,146.7 402.75,146.9 403.00,144.4 403.25,140.7 403.50,146.0 403.75,145.0 404.00,139.5 404.25,149.4 404.50,150.3 404.75,145.3 405.00,147.4 405.25,150.2 405.50,147.8 405.75,138.1 406.00,149.4 406.25,140.8 406.50,144.6 406.75,150.2 407.00,143.6 407.25,141.6 407.50,145.4 407.75,144.9 408.00,139.7 408.25,149.7 408.50,145.5 408.75,145.1 409.00,145.7 409.25,145.8 409.50,149.1 409.75,144.9 410.00,143.7 410.25,146.7 410.50,146.1 410.75,147.2 411.00,142.9 411.25,146.6 411.50,146.9 411.75,142.5 412.00,146.8 412.25,145.2 412.50,149.2 412.75,149.9 413.00,146.2 413.25,142.2 413.50,145.2 413.75,142.8 414.00,143.0 414.25,148.7 414.50,146.8 414.75,144.4 415.00,142.3 415.25,145.8 415.50,148.9 415.75,146.8 416.00,145.8 416.25,145.9 416.50,148.9 416.75,147.6 417.00,145.7 417.25,139.5 417.50,147.1 417.75,145.7 418.00,145.1 418.25,148.3 418.50,143.0 418.75,146.0 419.00,145.5 419.25,141.2 419.50,144.6 419.75,145.5 420.00,148.1 420.25,146.6 420.50,145.0 420.75,147.1 421.00,139.2 421.25,143.8 421.50,142.8 421.75,146.2 422.00,149.6 422.25,146.7 422.50,147.4 422.75,146.9 423.00,149.1 423.25,141.5 423.50,145.9 423.75,142.2 424.00,143.1 424.25,146.4 424.50,146.7 424.75,144.1 425.00,147.3 425.25,144.2 425.50,143.9 425.75,144.3 426.00,144.4 426.25,147.2 426.50,151.2 426.75,142.9 427.00,143.5 427.25,142.6 427.50,145.4 427.75,144.8 428.00,145.1 428.25,140.8 428.50,144.5 428.75,142.0 429.00,140.8 429.25,143.7 429.50,142.6 429.75,144.8 430.00,144.7 430.25,143.3 430.50,144.8 430.75,144.1 431.00,143.1 431.25,141.1 431.50,145.9 431.75,145.6 432.00,145.9 432.25,140.4 432.50,140.4 432.75,143.6 433.00,145.3 433.25,143.0 433.50,145.9 433.75,140.1 434.00,144.3 434.25,137.6 434.50,140.5 434.75,139.8 435.00,144.2 435.25,140.9 435.50,142.5 435.75,144.8 436.00,140.8 436.25,144.9 436.50,139.8 436.75,145.8 437.00,139.6 437.25,139.0 437.50,143.3 437.75,145.8 438.00,137.3 438.25,144.7 438.50,145.2 438.75,142.9 439.00,138.2 439.25,139.1 439.50,143.1 439.75,135.8 440.00,144.7 440.25,146.5 440.50,138.1 440.75,138.5 441.00,143.5 441.25,139.7 441.50,143.4 441.75,140.3 442.00,140.2 442.25,141.2 442.50,143.3 442.75,143.1 443.00,141.3 443.25,145.2 443.50,145.6 443.75,143.6 444.00,137.6 444.25,139.6 444.50,140.8 444.75,142.7 445.00,144.9 445.25,139.7 445.50,144.7 445.75,138.0 446.00,142.1 446.25,140.0 446.50,140.5 446.75,144.5 447.00,140.1 447.25,141.4 447.50,145.8 447.75,141.8 448.00,137.4 448.25,138.1 448.50,139.7 448.75,141.7 449.00,144.0 449.25,136.4 449.50,137.9 449.75,137.4 450.00,140.9 450.25,141.9 450.50,140.3 450.75,142.2 451.00,144.3 451.25,141.0 451.50,144.8 451.75,142.9 452.00,139.3 452.25,139.8 452.50,143.8 452.75,140.5 453.00,138.7 453.25,141.8 453.50,137.1 453.75,141.1 454.00,139.1 454.25,141.3 454.50,146.3 454.75,141.0 455.00,137.4 455.25,135.6 455.50,140.5 455.75,139.3 456.00,136.4 456.25,138.5 456.50,139.9 456.75,136.8 457.00,139.4 457.25,141.1 457.50,137.8 457.75,143.3 458.00,137.2 458.25,136.5 458.50,142.5 458.75,138.3 459.00,137.5 459.25,136.9 459.50,140.5 459.75,137.5 460.00,140.0 460.25,134.3 460.50,135.3 460.75,138.0 461.00,135.2 461.25,137.6 461.50,141.8 461.75,139.2 462.00,141.7 462.25,136.1 462.50,140.3 462.75,137.5 463.00,140.7 463.25,135.5 463.50,138.8 463.75,141.1 464.00,138.9 464.25,139.1 464.50,137.6 464.75,131.9 465.00,136.0 465.25,136.3 465.50,140.9 465.75,138.8 466.00,135.8 466.25,141.1 466.50,139.8 466.75,134.3 467.00,142.4 467.25,140.0 467.50,146.6 467.75,141.9 468.00,134.8 468.25,142.3 468.50,139.8 468.75,138.2 469.00,140.2 469.25,141.2 469.50,138.5 469.75,137.0 470.00,142.6 470.25,140.7 470.50,136.5 470.75,143.4 471.00,139.1 471.25,145.1 471.50,144.1 471.75,139.7 472.00,142.4 472.25,137.4 472.50,140.8 472.75,135.2 473.00,137.4 473.25,140.3 473.50,142.2 473.75,143.0 474.00,143.8 474.25,143.6 474.50,139.5 474.75,140.6 475.00,139.2 475.25,141.1 475.50,136.2 475.75,138.9 476.00,145.1 476.25,141.7 476.50,139.5 476.75,143.3 477.00,142.3 477.25,143.8 477.50,140.6 477.75,138.9 478.00,141.6 478.25,142.1 478.50,141.9 478.75,146.0 479.00,142.0 479.25,142.8 479.50,145.5 479.75,144.4 480.00,136.5 480.25,141.9 480.50,139.3 480.75,140.1 481.00,144.9 481.25,146.7 481.50,143.5 481.75,136.0 482.00,141.1 482.25,141.6 482.50,141.1 482.75,146.9 483.00,143.9 483.25,144.5 483.50,142.8 483.75,145.2 484.00,142.3 484.25,139.2 484.50,142.8 484.75,140.9 485.00,138.7 485.25,137.5 485.50,141.3 485.75,142.3 486.00,148.0 486.25,141.3 486.50,141.1 486.75,142.9 487.00,145.4 487.25,139.7 487.50,142.5 487.75,146.8 488.00,147.8 488.25,141.3 488.50,138.7 488.75,143.0 489.00,142.9 489.25,146.5 489.50,146.0 489.75,143.7 490.00,141.3 490.25,144.6 490.50,141.4 490.75,141.2 491.00,143.7 491.25,149.3 491.50,148.8 491.75,147.9 492.00,139.5 492.25,145.7 492.50,141.9 492.75,145.4 493.00,146.6 493.25,146.1 493.50,142.4 493.75,141.4" fill="none" stroke="#2b3ff0" stroke-width="1.5" stroke-linejoin="round" />
</g>
<line x1="190.4" y1="88.6" x2="190.4" y2="121.5" stroke="#4f57dc" stroke-width="1.4" stroke-dasharray="4.6,4.9"/>
<line x1="403.2" y1="108.9" x2="403.2" y2="121" stroke="#4f57dc" stroke-width="1.4" stroke-dasharray="4.6,4.9"/>
<line x1="427.9" y1="96.0" x2="427.9" y2="121" stroke="#4f57dc" stroke-width="1.4" stroke-dasharray="4.6,4.9"/>
<line x1="455.2" y1="71.3" x2="455.2" y2="109" stroke="#4f57dc" stroke-width="1.4" stroke-dasharray="4.6,4.9"/>
<line x1="465.0" y1="47.2" x2="465.0" y2="87" stroke="#4f57dc" stroke-width="1.4" stroke-dasharray="4.6,4.9"/>
<rect x="29.75" y="21.2" width="469.55" height="148.5" fill="none" stroke="#151515" stroke-width="1.6"/>
<line x1="35.1" y1="169.7" x2="35.1" y2="164.2" stroke="#151515" stroke-width="1.4"/><line x1="92.4" y1="169.7" x2="92.4" y2="166.89999999999998" stroke="#151515" stroke-width="1.4"/><line x1="149.7" y1="169.7" x2="149.7" y2="164.2" stroke="#151515" stroke-width="1.4"/><line x1="207.0" y1="169.7" x2="207.0" y2="166.89999999999998" stroke="#151515" stroke-width="1.4"/><line x1="264.4" y1="169.7" x2="264.4" y2="164.2" stroke="#151515" stroke-width="1.4"/><line x1="321.7" y1="169.7" x2="321.7" y2="166.89999999999998" stroke="#151515" stroke-width="1.4"/><line x1="379.0" y1="169.7" x2="379.0" y2="164.2" stroke="#151515" stroke-width="1.4"/><line x1="436.3" y1="169.7" x2="436.3" y2="166.89999999999998" stroke="#151515" stroke-width="1.4"/><line x1="493.6" y1="169.7" x2="493.6" y2="164.2" stroke="#151515" stroke-width="1.4"/>
<g font-family='"Liberation Sans", sans-serif' fill="#111" stroke="#111" stroke-width="0.15"><text transform="translate(35.1,185.9) scale(1.04,1)" font-size="12.4" text-anchor="middle">2200</text><text transform="translate(149.7,185.9) scale(1.04,1)" font-size="12.4" text-anchor="middle">2400</text><text transform="translate(264.4,185.9) scale(1.04,1)" font-size="12.4" text-anchor="middle">2600</text><text transform="translate(379.0,185.9) scale(1.04,1)" font-size="12.4" text-anchor="middle">2800</text><text transform="translate(493.6,185.9) scale(1.04,1)" font-size="12.4" text-anchor="middle">3000</text><text transform="translate(212.3,197) scale(1.04,1)" font-size="12.4" text-anchor="start">Raman shift (cm<tspan font-size="6.4" dy="-6.8" dx="0.9" stroke-width="0.1">-1</tspan><tspan dy="6.2">)</tspan></text><text x="0" y="0" font-size="12.4" text-anchor="middle" transform="translate(11.0,94.05) rotate(-90) scale(1.04,1)">Intensity (arb. u.)</text><text transform="translate(42.7,35.8) scale(0.95,1)" font-size="18.6" text-anchor="start">(a)</text><text transform="translate(51.8,56.8) scale(1.035,1)" font-size="12.3" text-anchor="start">Laser power</text><text transform="translate(72.8,72.3) scale(1.05,1)" font-size="12.3" text-anchor="start">6.0 mW</text><text transform="translate(73.5,88.2) scale(1.04,1)" font-size="12.3" text-anchor="start">1.5 mW</text><text transform="translate(73.5,103.6) scale(1.04,1)" font-size="12.3" text-anchor="start">1.5 mW</text><text transform="translate(269.2,48.1) scale(1.06,1)" font-size="12.3" text-anchor="start">2D</text><text transform="translate(143.0,77.0) scale(1.02,1)" font-size="12.4" text-anchor="start">~2450 cm<tspan font-size="6.4" dy="-6.8" dx="0.9" stroke-width="0.1">-1</tspan></text><text transform="translate(343.0,102.3) scale(1.02,1)" font-size="12.4" text-anchor="start">~2846 cm<tspan font-size="6.4" dy="-6.8" dx="0.9" stroke-width="0.1">-1</tspan></text><text transform="translate(375.3,81.3) scale(0.985,1)" font-size="12.4" text-anchor="start">~2903 cm<tspan font-size="6.4" dy="-6.8" dx="0.9" stroke-width="0.1">-1</tspan></text><text transform="translate(394.3,60.0) scale(1.02,1)" font-size="12.4" text-anchor="start">~2934 cm<tspan font-size="6.4" dy="-6.8" dx="0.9" stroke-width="0.1">-1</tspan></text><text transform="translate(427.6,35.3) scale(1.02,1)" font-size="12.4" text-anchor="start">~2955 cm<tspan font-size="6.4" dy="-6.8" dx="0.9" stroke-width="0.1">-1</tspan></text></g>
<line x1="40.8" y1="68" x2="70.4" y2="68" stroke="#111" stroke-width="1.3"/>
<line x1="40.8" y1="83.7" x2="70.2" y2="83.7" stroke="#d8202c" stroke-width="1.3"/>
<line x1="40.8" y1="99.2" x2="70.2" y2="99.2" stroke="#3a40ea" stroke-width="1.3"/>
<g clip-path="url(#cb)">
<polyline points="33.90,328.1 34.15,342.5 34.40,331.0 34.65,338.0 34.90,326.1 35.15,330.2 35.40,337.7 35.65,327.3 35.90,335.5 36.15,322.0 36.40,326.0 36.65,334.4 36.90,337.6 37.15,318.2 37.40,327.2 37.65,338.4 37.90,330.9 38.15,310.4 38.40,330.8 38.65,323.7 38.90,338.2 39.15,321.4 39.40,319.4 39.65,328.6 39.90,327.5 40.15,327.4 40.40,320.6 40.65,333.3 40.90,326.1 41.15,318.7 41.40,347.8 41.65,338.1 41.90,323.3 42.15,334.4 42.40,320.0 42.65,336.9 42.90,349.8 43.15,333.3 43.40,335.2 43.65,336.4 43.90,344.1 44.15,355.8 44.40,309.1 44.65,314.8 44.90,327.4 45.15,342.2 45.40,329.5 45.65,332.1 45.90,324.8 46.15,336.8 46.40,334.0 46.65,328.8 46.90,342.2 47.15,344.3 47.40,332.0 47.65,346.0 47.90,322.5 48.15,345.4 48.40,320.9 48.65,330.9 48.90,321.4 49.15,321.0 49.40,320.7 49.65,339.6 49.90,323.9 50.15,302.2 50.40,318.5 50.65,315.3 50.90,323.3 51.15,322.4 51.40,338.7 51.65,319.0 51.90,317.1 52.15,328.2 52.40,341.8 52.65,323.5 52.90,320.4 53.15,337.6 53.40,312.6 53.65,325.9 53.90,322.7 54.15,331.3 54.40,329.8 54.65,324.6 54.90,322.9 55.15,326.2 55.40,323.2 55.65,321.3 55.90,324.8 56.15,327.1 56.40,339.4 56.65,328.9 56.90,318.2 57.15,327.6 57.40,320.0 57.65,339.7 57.90,328.3 58.15,320.3 58.40,317.4 58.65,330.8 58.90,318.2 59.15,315.1 59.40,324.1 59.65,317.9 59.90,324.7 60.15,327.2 60.40,339.2 60.65,336.4 60.90,335.1 61.15,318.8 61.40,328.9 61.65,316.6 61.90,320.2 62.15,319.7 62.40,302.6 62.65,307.9 62.90,331.2 63.15,324.5 63.40,317.3 63.65,326.0 63.90,321.7 64.15,329.9 64.40,320.6 64.65,327.8 64.90,304.2 65.15,339.3 65.40,329.4 65.65,318.2 65.90,313.3 66.15,304.6 66.40,319.0 66.65,317.2 66.90,320.2 67.15,320.1 67.40,323.2 67.65,307.3 67.90,307.3 68.15,329.5 68.40,322.0 68.65,332.3 68.90,311.9 69.15,315.6 69.40,311.9 69.65,343.8 69.90,306.5 70.15,312.7 70.40,325.1 70.65,330.5 70.90,304.2 71.15,325.6 71.40,302.3 71.65,328.6 71.90,326.2 72.15,319.3 72.40,311.6 72.65,320.4 72.90,319.2 73.15,322.9 73.40,311.7 73.65,330.2 73.90,311.8 74.15,316.0 74.40,318.2 74.65,327.7 74.90,319.5 75.15,334.3 75.40,330.3 75.65,315.3 75.90,328.3 76.15,315.1 76.40,308.6 76.65,334.2 76.90,324.5 77.15,333.9 77.40,318.2 77.65,314.9 77.90,312.6 78.15,333.2 78.40,324.6 78.65,304.9 78.90,310.5 79.15,311.6 79.40,307.2 79.65,327.2 79.90,316.6 80.15,323.6 80.40,319.3 80.65,303.4 80.90,312.6 81.15,308.5 81.40,325.3 81.65,320.6 81.90,312.0 82.15,329.2 82.40,338.1 82.65,308.3 82.90,300.5 83.15,318.5 83.40,320.3 83.65,300.4 83.90,305.0 84.15,308.1 84.40,321.1 84.65,317.8 84.90,303.8 85.15,306.8 85.40,304.9 85.65,315.0 85.90,332.9 86.15,327.3 86.40,322.0 86.65,304.1 86.90,323.1 87.15,307.4 87.40,306.8 87.65,323.2 87.90,311.5 88.15,320.1 88.40,318.1 88.65,307.4 88.90,314.3 89.15,317.7 89.40,311.8 89.65,301.6 89.90,323.2 90.15,306.8 90.40,304.6 90.65,306.5 90.90,319.4 91.15,313.0 91.40,326.7 91.65,297.3 91.90,306.4 92.15,311.2 92.40,320.1 92.65,296.7 92.90,300.3 93.15,314.3 93.40,304.4 93.65,307.0 93.90,305.7 94.15,298.6 94.40,292.6 94.65,319.5 94.90,320.9 95.15,307.4 95.40,316.5 95.65,315.0 95.90,314.5 96.15,300.4 96.40,307.1 96.65,301.2 96.90,290.9 97.15,293.2 97.40,324.9 97.65,304.5 97.90,308.5 98.15,304.6 98.40,305.2 98.65,306.2 98.90,293.3 99.15,295.9 99.40,323.4 99.65,305.7 99.90,313.4 100.15,296.9 100.40,302.0 100.65,313.7 100.90,284.4 101.15,305.5 101.40,308.4 101.65,299.4 101.90,287.8 102.15,286.6 102.40,277.5 102.65,284.8 102.90,278.1 103.15,286.3 103.40,290.5 103.65,312.5 103.90,288.4 104.15,296.9 104.40,293.8 104.65,293.9 104.90,283.2 105.15,299.3 105.40,288.9 105.65,304.3 105.90,294.3 106.15,279.9 106.40,300.7 106.65,280.0 106.90,274.9 107.15,311.1 107.40,296.8 107.65,300.7 107.90,286.5 108.15,277.5 108.40,280.1 108.65,283.6 108.90,282.4 109.15,272.5 109.40,288.7 109.65,277.2 109.90,295.2 110.15,274.6 110.40,286.6 110.65,275.6 110.90,279.7 111.15,282.5 111.40,278.1 111.65,281.9 111.90,279.7 112.15,273.1 112.40,281.5 112.65,281.8 112.90,289.2 113.15,278.0 113.40,267.8 113.65,272.9 113.90,278.4 114.15,276.3 114.40,285.7 114.65,293.6 114.90,281.9 115.15,281.8 115.40,283.3 115.65,273.7 115.90,277.0 116.15,284.4 116.40,282.3 116.65,258.5 116.90,272.7 117.15,271.7 117.40,276.2 117.65,289.2 117.90,288.3 118.15,264.6 118.40,288.4 118.65,267.3 118.90,281.8 119.15,275.3 119.40,271.5 119.65,263.1 119.90,280.7 120.15,277.5 120.40,254.1 120.65,283.8 120.90,267.9 121.15,274.9 121.40,260.5 121.65,267.7 121.90,266.8 122.15,237.0 122.40,283.0 122.65,273.1 122.90,265.2 123.15,286.1 123.40,282.0 123.65,279.8 123.90,254.2 124.15,287.3 124.40,270.3 124.65,282.7 124.90,256.1 125.15,249.1 125.40,256.2 125.65,258.9 125.90,254.5 126.15,254.3 126.40,273.8 126.65,262.2 126.90,260.8 127.15,242.7 127.40,264.6 127.65,250.5 127.90,273.2 128.15,259.0 128.40,267.6 128.65,259.1 128.90,253.2 129.15,237.7 129.40,271.9 129.65,262.8 129.90,249.7 130.15,263.9 130.40,272.5 130.65,262.6 130.90,269.8 131.15,257.0 131.40,240.6 131.65,246.9 131.90,257.7 132.15,263.3 132.40,270.6 132.65,281.8 132.90,261.0 133.15,261.7 133.40,269.7 133.65,263.1 133.90,257.2 134.15,261.6 134.40,277.5 134.65,259.6 134.90,242.3 135.15,277.0 135.40,258.9 135.65,273.8 135.90,253.9 136.15,246.3 136.40,253.2 136.65,243.8 136.90,261.5 137.15,261.4 137.40,255.0 137.65,277.9 137.90,247.3 138.15,244.9 138.40,275.2 138.65,266.8 138.90,260.2 139.15,250.5 139.40,269.2 139.65,236.1 139.90,244.8 140.15,255.0 140.40,235.8 140.65,257.9 140.90,253.2 141.15,255.9 141.40,258.9 141.65,263.8 141.90,259.8 142.15,258.9 142.40,237.3 142.65,254.8 142.90,247.6 143.15,250.2 143.40,230.0 143.65,245.5 143.90,253.5 144.15,271.6 144.40,244.4 144.65,238.6 144.90,258.2 145.15,276.9 145.40,266.2 145.65,254.5 145.90,261.9 146.15,249.9 146.40,261.0 146.65,247.4 146.90,280.4 147.15,249.6 147.40,264.3 147.65,263.5 147.90,257.9 148.15,261.5 148.40,284.7 148.65,245.3 148.90,262.6 149.15,270.5 149.40,250.3 149.65,247.8 149.90,253.0 150.15,281.7 150.40,267.4 150.65,255.2 150.90,256.5 151.15,259.4 151.40,266.8 151.65,254.1 151.90,270.8 152.15,271.6 152.40,279.5 152.65,270.3 152.90,273.1 153.15,270.6 153.40,278.5 153.65,272.8 153.90,264.7 154.15,261.5 154.40,262.0 154.65,269.5 154.90,260.4 155.15,268.7 155.40,261.8 155.65,257.1 155.90,286.9 156.15,273.7 156.40,283.7 156.65,272.9 156.90,254.9 157.15,280.0 157.40,275.0 157.65,276.7 157.90,273.9 158.15,268.1 158.40,261.9 158.65,281.0 158.90,284.8 159.15,260.2 159.40,272.1 159.65,258.7 159.90,261.7 160.15,288.6 160.40,278.3 160.65,277.4 160.90,265.5 161.15,282.7 161.40,291.5 161.65,291.4 161.90,302.1 162.15,287.6 162.40,288.4 162.65,288.7 162.90,291.9 163.15,288.5 163.40,285.9 163.65,284.7 163.90,293.6 164.15,283.1 164.40,279.8 164.65,297.6 164.90,286.4 165.15,286.2 165.40,292.8 165.65,285.6 165.90,281.9 166.15,300.1 166.40,302.7 166.65,283.3 166.90,290.6 167.15,297.8 167.40,305.0 167.65,301.0 167.90,301.4 168.15,291.0 168.40,297.3 168.65,305.5 168.90,285.7 169.15,304.9 169.40,299.0 169.65,291.7 169.90,303.8 170.15,302.2 170.40,292.9 170.65,297.1 170.90,277.4 171.15,297.5 171.40,289.8 171.65,287.0 171.90,308.2 172.15,286.6 172.40,288.7 172.65,292.6 172.90,320.9 173.15,288.8 173.40,298.6 173.65,296.5 173.90,310.3 174.15,296.7 174.40,315.0 174.65,303.9 174.90,316.4 175.15,313.0 175.40,316.8 175.65,294.2 175.90,300.2 176.15,304.4 176.40,303.4 176.65,311.6 176.90,306.3 177.15,314.2 177.40,305.8 177.65,304.8 177.90,315.4 178.15,310.6 178.40,315.5 178.65,312.0 178.90,304.2 179.15,311.0 179.40,313.0 179.65,310.5 179.90,322.6 180.15,292.0 180.40,312.3 180.65,311.4 180.90,319.0 181.15,306.5 181.40,313.3 181.65,305.3 181.90,298.4 182.15,302.9 182.40,323.3 182.65,299.9 182.90,315.4 183.15,299.8 183.40,318.9 183.65,317.9 183.90,313.9 184.15,308.3 184.40,313.2 184.65,316.1 184.90,310.5 185.15,296.0 185.40,319.9 185.65,314.4 185.90,313.1 186.15,310.4 186.40,285.2 186.65,313.3 186.90,311.5 187.15,324.4 187.40,299.3 187.65,308.9 187.90,324.1 188.15,314.0 188.40,317.6 188.65,314.6 188.90,320.9 189.15,321.6 189.40,320.4 189.65,329.8 189.90,326.2 190.15,321.1 190.40,313.3 190.65,314.9 190.90,318.1 191.15,318.2 191.40,310.9 191.65,308.7 191.90,321.9 192.15,318.6 192.40,319.2 192.65,303.9 192.90,304.2 193.15,320.8 193.40,327.0 193.65,327.4 193.90,323.0 194.15,306.6 194.40,306.8 194.65,326.7 194.90,323.5 195.15,300.4 195.40,330.2 195.65,329.9 195.90,316.5 196.15,309.7 196.40,349.5 196.65,320.8 196.90,309.9 197.15,314.2 197.40,324.8 197.65,316.5 197.90,334.1 198.15,314.4 198.40,327.4 198.65,330.4 198.90,322.5 199.15,320.5 199.40,315.7 199.65,321.6 199.90,322.3 200.15,316.2 200.40,321.8 200.65,331.5 200.90,320.3 201.15,309.2 201.40,313.7 201.65,332.1 201.90,321.0 202.15,314.3 202.40,324.1 202.65,338.0 202.90,326.9 203.15,318.3 203.40,323.3 203.65,323.9 203.90,323.6 204.15,324.3 204.40,323.1 204.65,323.3 204.90,311.8 205.15,315.0 205.40,332.9 205.65,322.5 205.90,318.4 206.15,330.6 206.40,343.1 206.65,342.9 206.90,323.5 207.15,326.1 207.40,316.6 207.65,331.1 207.90,332.6 208.15,320.1 208.40,312.3 208.65,317.0 208.90,328.9 209.15,311.8 209.40,332.0 209.65,323.7 209.90,319.3 210.15,324.2 210.40,317.3 210.65,330.6 210.90,322.5 211.15,329.4 211.40,337.3 211.65,322.5 211.90,325.6 212.15,291.8 212.40,330.4 212.65,328.4 212.90,328.6 213.15,320.2 213.40,320.3 213.65,304.6 213.90,325.2 214.15,319.2 214.40,326.1 214.65,326.2 214.90,326.9 215.15,316.2 215.40,331.3 215.65,328.9 215.90,321.0 216.15,314.6 216.40,328.3 216.65,312.8 216.90,326.2 217.15,321.2 217.40,338.9 217.65,333.2 217.90,320.1 218.15,321.4 218.40,322.5 218.65,318.4 218.90,332.7 219.15,322.0 219.40,306.4 219.65,322.0 219.90,305.2 220.15,324.7 220.40,330.8 220.65,322.1 220.90,312.0 221.15,322.7 221.40,333.0 221.65,325.1 221.90,311.9 222.15,315.3 222.40,325.7 222.65,325.4 222.90,328.4 223.15,319.9 223.40,300.0 223.65,306.3 223.90,336.8 224.15,333.1 224.40,311.7 224.65,320.5 224.90,319.7 225.15,338.7 225.40,328.3 225.65,312.6 225.90,320.4 226.15,337.7 226.40,331.4 226.65,325.9 226.90,313.4 227.15,312.7 227.40,346.6 227.65,323.4 227.90,316.9 228.15,323.2 228.40,345.6 228.65,339.3 228.90,332.4 229.15,322.9 229.40,334.2 229.65,338.7 229.90,308.5 230.15,323.5 230.40,328.2 230.65,330.8 230.90,322.6 231.15,309.7 231.40,341.2 231.65,332.8 231.90,321.0 232.15,319.8 232.40,334.2 232.65,336.0 232.90,324.6 233.15,323.8 233.40,325.4 233.65,331.2 233.90,308.5 234.15,341.7 234.40,325.2 234.65,330.7 234.90,321.7 235.15,321.6 235.40,329.1 235.65,325.4 235.90,327.6 236.15,321.7 236.40,335.7 236.65,323.0 236.90,330.9 237.15,324.3 237.40,333.0 237.65,332.6 237.90,332.9 238.15,321.6 238.40,327.8 238.65,330.7 238.90,338.6 239.15,316.3 239.40,331.6 239.65,328.0 239.90,320.3 240.15,316.5 240.40,300.7 240.65,334.7 240.90,310.8 241.15,325.5 241.40,317.4 241.65,327.8 241.90,325.2 242.15,336.7 242.40,330.0 242.65,320.8" fill="none" stroke="#f00c0c" stroke-width="1.35" stroke-linejoin="round" />
<polyline points="33.90,332.2 34.15,332.2 34.40,332.2 34.65,332.2 34.90,332.2 35.15,332.2 35.40,332.2 35.65,332.1 35.90,332.1 36.15,332.1 36.40,332.1 36.65,332.1 36.90,332.1 37.15,332.0 37.40,332.0 37.65,332.0 37.90,332.0 38.15,332.0 38.40,332.0 38.65,332.0 38.90,331.9 39.15,331.9 39.40,331.9 39.65,331.9 39.90,331.9 40.15,331.8 40.40,331.8 40.65,331.8 40.90,331.8 41.15,331.8 41.40,331.8 41.65,331.7 41.90,331.7 42.15,331.7 42.40,331.7 42.65,331.7 42.90,331.6 43.15,331.6 43.40,331.6 43.65,331.6 43.90,331.6 44.15,331.5 44.40,331.5 44.65,331.5 44.90,331.5 45.15,331.5 45.40,331.4 45.65,331.4 45.90,331.4 46.15,331.4 46.40,331.4 46.65,331.3 46.90,331.3 47.15,331.3 47.40,331.3 47.65,331.2 47.90,331.2 48.15,331.2 48.40,331.2 48.65,331.1 48.90,331.1 49.15,331.1 49.40,331.1 49.65,331.1 49.90,331.0 50.15,331.0 50.40,331.0 50.65,331.0 50.90,330.9 51.15,330.9 51.40,330.9 51.65,330.8 51.90,330.8 52.15,330.8 52.40,330.8 52.65,330.7 52.90,330.7 53.15,330.7 53.40,330.7 53.65,330.6 53.90,330.6 54.15,330.6 54.40,330.5 54.65,330.5 54.90,330.5 55.15,330.5 55.40,330.4 55.65,330.4 55.90,330.4 56.15,330.3 56.40,330.3 56.65,330.3 56.90,330.2 57.15,330.2 57.40,330.2 57.65,330.1 57.90,330.1 58.15,330.1 58.40,330.0 58.65,330.0 58.90,330.0 59.15,329.9 59.40,329.9 59.65,329.9 59.90,329.8 60.15,329.8 60.40,329.7 60.65,329.7 60.90,329.7 61.15,329.6 61.40,329.6 61.65,329.6 61.90,329.5 62.15,329.5 62.40,329.4 62.65,329.4 62.90,329.4 63.15,329.3 63.40,329.3 63.65,329.2 63.90,329.2 64.15,329.1 64.40,329.1 64.65,329.1 64.90,329.0 65.15,329.0 65.40,328.9 65.65,328.9 65.90,328.8 66.15,328.8 66.40,328.7 66.65,328.7 66.90,328.6 67.15,328.6 67.40,328.5 67.65,328.5 67.90,328.4 68.15,328.4 68.40,328.3 68.65,328.3 68.90,328.2 69.15,328.2 69.40,328.1 69.65,328.1 69.90,328.0 70.15,328.0 70.40,327.9 70.65,327.8 70.90,327.8 71.15,327.7 71.40,327.7 71.65,327.6 71.90,327.5 72.15,327.5 72.40,327.4 72.65,327.4 72.90,327.3 73.15,327.2 73.40,327.2 73.65,327.1 73.90,327.0 74.15,327.0 74.40,326.9 74.65,326.8 74.90,326.8 75.15,326.7 75.40,326.6 75.65,326.5 75.90,326.5 76.15,326.4 76.40,326.3 76.65,326.2 76.90,326.2 77.15,326.1 77.40,326.0 77.65,325.9 77.90,325.9 78.15,325.8 78.40,325.7 78.65,325.6 78.90,325.5 79.15,325.4 79.40,325.3 79.65,325.3 79.90,325.2 80.15,325.1 80.40,325.0 80.65,324.9 80.90,324.8 81.15,324.7 81.40,324.6 81.65,324.5 81.90,324.4 82.15,324.3 82.40,324.2 82.65,324.1 82.90,324.0 83.15,323.9 83.40,323.8 83.65,323.7 83.90,323.6 84.15,323.5 84.40,323.4 84.65,323.3 84.90,323.1 85.15,323.0 85.40,322.9 85.65,322.8 85.90,322.7 86.15,322.5 86.40,322.4 86.65,322.3 86.90,322.2 87.15,322.0 87.40,321.9 87.65,321.8 87.90,321.6 88.15,321.5 88.40,321.4 88.65,321.2 88.90,321.1 89.15,321.0 89.40,320.8 89.65,320.7 89.90,320.5 90.15,320.4 90.40,320.2 90.65,320.1 90.90,319.9 91.15,319.7 91.40,319.6 91.65,319.4 91.90,319.3 92.15,319.1 92.40,318.9 92.65,318.8 92.90,318.6 93.15,318.4 93.40,318.2 93.65,318.0 93.90,317.9 94.15,317.7 94.40,317.5 94.65,317.3 94.90,317.1 95.15,316.9 95.40,316.7 95.65,316.5 95.90,316.3 96.15,316.1 96.40,315.9 96.65,315.7 96.90,315.5 97.15,315.3 97.40,315.1 97.65,314.8 97.90,314.6 98.15,314.4 98.40,314.2 98.65,313.9 98.90,313.7 99.15,313.5 99.40,313.2 99.65,313.0 99.90,312.7 100.15,312.5 100.40,312.2 100.65,312.0 100.90,311.7 101.15,311.5 101.40,311.2 101.65,311.0 101.90,310.7 102.15,310.4 102.40,310.2 102.65,309.9 102.90,309.6 103.15,309.3 103.40,309.0 103.65,308.8 103.90,308.5 104.15,308.2 104.40,307.9 104.65,307.6 104.90,307.3 105.15,307.0 105.40,306.7 105.65,306.4 105.90,306.1 106.15,305.8 106.40,305.5 106.65,305.2 106.90,304.9 107.15,304.6 107.40,304.2 107.65,303.9 107.90,303.6 108.15,303.3 108.40,303.0 108.65,302.6 108.90,302.3 109.15,302.0 109.40,301.7 109.65,301.4 109.90,301.0 110.15,300.7 110.40,300.4 110.65,300.1 110.90,299.8 111.15,299.4 111.40,299.1 111.65,298.8 111.90,298.5 112.15,298.2 112.40,297.9 112.65,297.6 112.90,297.2 113.15,296.9 113.40,296.6 113.65,296.3 113.90,296.0 114.15,295.8 114.40,295.5 114.65,295.2 114.90,294.9 115.15,294.6 115.40,294.4 115.65,294.1 115.90,293.9 116.15,293.6 116.40,293.4 116.65,293.1 116.90,292.9 117.15,292.7 117.40,292.4 117.65,292.2 117.90,292.0 118.15,291.8 118.40,291.7 118.65,291.5 118.90,291.3 119.15,291.2 119.40,291.0 119.65,290.9 119.90,290.7 120.15,290.6 120.40,290.5 120.65,290.4 120.90,290.3 121.15,290.2 121.40,290.2 121.65,290.1 121.90,290.1 122.15,290.0 122.40,290.0 122.65,290.0 122.90,290.0 123.15,290.0 123.40,290.0 123.65,290.1 123.90,290.1 124.15,290.1 124.40,290.2 124.65,290.3 124.90,290.4 125.15,290.5 125.40,290.6 125.65,290.7 125.90,290.8 126.15,290.9 126.40,291.1 126.65,291.2 126.90,291.4 127.15,291.6 127.40,291.7 127.65,291.9 127.90,292.1 128.15,292.3 128.40,292.5 128.65,292.8 128.90,293.0 129.15,293.2 129.40,293.5 129.65,293.7 129.90,294.0 130.15,294.2 130.40,294.5 130.65,294.8 130.90,295.0 131.15,295.3 131.40,295.6 131.65,295.9 131.90,296.2 132.15,296.5 132.40,296.8 132.65,297.1 132.90,297.4 133.15,297.7 133.40,298.0 133.65,298.3 133.90,298.6 134.15,298.9 134.40,299.3 134.65,299.6 134.90,299.9 135.15,300.2 135.40,300.5 135.65,300.9 135.90,301.2 136.15,301.5 136.40,301.8 136.65,302.2 136.90,302.5 137.15,302.8 137.40,303.1 137.65,303.4 137.90,303.7 138.15,304.1 138.40,304.4 138.65,304.7 138.90,305.0 139.15,305.3 139.40,305.6 139.65,305.9 139.90,306.2 140.15,306.5 140.40,306.8 140.65,307.1 140.90,307.4 141.15,307.7 141.40,308.0 141.65,308.3 141.90,308.6 142.15,308.9 142.40,309.2 142.65,309.5 142.90,309.7 143.15,310.0 143.40,310.3 143.65,310.5 143.90,310.8 144.15,311.1 144.40,311.3 144.65,311.6 144.90,311.9 145.15,312.1 145.40,312.4 145.65,312.6 145.90,312.9 146.15,313.1 146.40,313.3 146.65,313.6 146.90,313.8 147.15,314.0 147.40,314.3 147.65,314.5 147.90,314.7 148.15,314.9 148.40,315.2 148.65,315.4 148.90,315.6 149.15,315.8 149.40,316.0 149.65,316.2 149.90,316.4 150.15,316.6 150.40,316.8 150.65,317.0 150.90,317.2 151.15,317.4 151.40,317.6 151.65,317.8 151.90,317.9 152.15,318.1 152.40,318.3 152.65,318.5 152.90,318.7 153.15,318.8 153.40,319.0 153.65,319.2 153.90,319.3 154.15,319.5 154.40,319.7 154.65,319.8 154.90,320.0 155.15,320.1 155.40,320.3 155.65,320.4 155.90,320.6 156.15,320.7 156.40,320.9 156.65,321.0 156.90,321.2 157.15,321.3 157.40,321.4 157.65,321.6 157.90,321.7 158.15,321.8 158.40,322.0 158.65,322.1 158.90,322.2 159.15,322.4 159.40,322.5 159.65,322.6 159.90,322.7 160.15,322.8 160.40,323.0 160.65,323.1 160.90,323.2 161.15,323.3 161.40,323.4 161.65,323.5 161.90,323.6 162.15,323.7 162.40,323.9 162.65,324.0 162.90,324.1 163.15,324.2 163.40,324.3 163.65,324.4 163.90,324.5 164.15,324.6 164.40,324.7 164.65,324.8 164.90,324.8 165.15,324.9 165.40,325.0 165.65,325.1 165.90,325.2 166.15,325.3 166.40,325.4 166.65,325.5 166.90,325.6 167.15,325.6 167.40,325.7 167.65,325.8 167.90,325.9 168.15,326.0 168.40,326.0 168.65,326.1 168.90,326.2 169.15,326.3 169.40,326.4 169.65,326.4 169.90,326.5 170.15,326.6 170.40,326.6 170.65,326.7 170.90,326.8 171.15,326.9 171.40,326.9 171.65,327.0 171.90,327.1 172.15,327.1 172.40,327.2 172.65,327.3 172.90,327.3 173.15,327.4 173.40,327.4 173.65,327.5 173.90,327.6 174.15,327.6 174.40,327.7 174.65,327.8 174.90,327.8 175.15,327.9 175.40,327.9 175.65,328.0 175.90,328.0 176.15,328.1 176.40,328.1 176.65,328.2 176.90,328.3 177.15,328.3 177.40,328.4 177.65,328.4 177.90,328.5 178.15,328.5 178.40,328.6 178.65,328.6 178.90,328.7 179.15,328.7 179.40,328.8 179.65,328.8 179.90,328.9 180.15,328.9 180.40,328.9 180.65,329.0 180.90,329.0 181.15,329.1 181.40,329.1 181.65,329.2 181.90,329.2 182.15,329.2 182.40,329.3 182.65,329.3 182.90,329.4 183.15,329.4 183.40,329.5 183.65,329.5 183.90,329.5 184.15,329.6 184.40,329.6 184.65,329.7 184.90,329.7 185.15,329.7 185.40,329.8 185.65,329.8 185.90,329.8 186.15,329.9 186.40,329.9 186.65,329.9 186.90,330.0 187.15,330.0 187.40,330.0 187.65,330.1 187.90,330.1 188.15,330.1 188.40,330.2 188.65,330.2 188.90,330.2 189.15,330.3 189.40,330.3 189.65,330.3 189.90,330.4 190.15,330.4 190.40,330.4 190.65,330.5 190.90,330.5 191.15,330.5 191.40,330.6 191.65,330.6 191.90,330.6 192.15,330.6 192.40,330.7 192.65,330.7 192.90,330.7 193.15,330.8 193.40,330.8 193.65,330.8 193.90,330.8 194.15,330.9 194.40,330.9 194.65,330.9 194.90,330.9 195.15,331.0 195.40,331.0 195.65,331.0 195.90,331.0 196.15,331.1 196.40,331.1 196.65,331.1 196.90,331.1 197.15,331.2 197.40,331.2 197.65,331.2 197.90,331.2 198.15,331.3 198.40,331.3 198.65,331.3 198.90,331.3 199.15,331.3 199.40,331.4 199.65,331.4 199.90,331.4 200.15,331.4 200.40,331.4 200.65,331.5 200.90,331.5 201.15,331.5 201.40,331.5 201.65,331.6 201.90,331.6 202.15,331.6 202.40,331.6 202.65,331.6 202.90,331.7 203.15,331.7 203.40,331.7 203.65,331.7 203.90,331.7 204.15,331.7 204.40,331.8 204.65,331.8 204.90,331.8 205.15,331.8 205.40,331.8 205.65,331.9 205.90,331.9 206.15,331.9 206.40,331.9 206.65,331.9 206.90,331.9 207.15,332.0 207.40,332.0 207.65,332.0 207.90,332.0 208.15,332.0 208.40,332.0 208.65,332.1 208.90,332.1 209.15,332.1 209.40,332.1 209.65,332.1 209.90,332.1 210.15,332.2 210.40,332.2 210.65,332.2 210.90,332.2 211.15,332.2 211.40,332.2 211.65,332.2 211.90,332.3 212.15,332.3 212.40,332.3 212.65,332.3 212.90,332.3 213.15,332.3 213.40,332.3 213.65,332.4 213.90,332.4 214.15,332.4 214.40,332.4 214.65,332.4 214.90,332.4 215.15,332.4 215.40,332.4 215.65,332.5 215.90,332.5 216.15,332.5 216.40,332.5 216.65,332.5 216.90,332.5 217.15,332.5 217.40,332.5 217.65,332.6 217.90,332.6 218.15,332.6 218.40,332.6 218.65,332.6 218.90,332.6 219.15,332.6 219.40,332.6 219.65,332.7 219.90,332.7 220.15,332.7 220.40,332.7 220.65,332.7 220.90,332.7 221.15,332.7 221.40,332.7 221.65,332.7 221.90,332.8 222.15,332.8 222.40,332.8 222.65,332.8 222.90,332.8 223.15,332.8 223.40,332.8 223.65,332.8 223.90,332.8 224.15,332.8 224.40,332.9 224.65,332.9 224.90,332.9 225.15,332.9 225.40,332.9 225.65,332.9 225.90,332.9 226.15,332.9 226.40,332.9 226.65,332.9 226.90,333.0 227.15,333.0 227.40,333.0 227.65,333.0 227.90,333.0 228.15,333.0 228.40,333.0 228.65,333.0 228.90,333.0 229.15,333.0 229.40,333.0 229.65,333.1 229.90,333.1 230.15,333.1 230.40,333.1 230.65,333.1 230.90,333.1 231.15,333.1 231.40,333.1 231.65,333.1 231.90,333.1 232.15,333.1 232.40,333.1 232.65,333.2 232.90,333.2 233.15,333.2 233.40,333.2 233.65,333.2 233.90,333.2 234.15,333.2 234.40,333.2 234.65,333.2 234.90,333.2 235.15,333.2 235.40,333.2 235.65,333.2 235.90,333.3 236.15,333.3 236.40,333.3 236.65,333.3 236.90,333.3 237.15,333.3 237.40,333.3 237.65,333.3 237.90,333.3 238.15,333.3 238.40,333.3 238.65,333.3 238.90,333.3 239.15,333.3 239.40,333.4 239.65,333.4 239.90,333.4 240.15,333.4 240.40,333.4 240.65,333.4 240.90,333.4 241.15,333.4 241.40,333.4 241.65,333.4 241.90,333.4 242.15,333.4 242.40,333.4 242.65,333.4" fill="none" stroke="#62dc2a" stroke-width="1.6" stroke-linejoin="round" />
<polyline points="33.90,333.3 34.15,333.2 34.40,333.2 34.65,333.2 34.90,333.2 35.15,333.2 35.40,333.2 35.65,333.2 35.90,333.2 36.15,333.2 36.40,333.2 36.65,333.2 36.90,333.2 37.15,333.2 37.40,333.1 37.65,333.1 37.90,333.1 38.15,333.1 38.40,333.1 38.65,333.1 38.90,333.1 39.15,333.1 39.40,333.1 39.65,333.1 39.90,333.1 40.15,333.1 40.40,333.0 40.65,333.0 40.90,333.0 41.15,333.0 41.40,333.0 41.65,333.0 41.90,333.0 42.15,333.0 42.40,333.0 42.65,333.0 42.90,333.0 43.15,332.9 43.40,332.9 43.65,332.9 43.90,332.9 44.15,332.9 44.40,332.9 44.65,332.9 44.90,332.9 45.15,332.9 45.40,332.9 45.65,332.9 45.90,332.8 46.15,332.8 46.40,332.8 46.65,332.8 46.90,332.8 47.15,332.8 47.40,332.8 47.65,332.8 47.90,332.8 48.15,332.7 48.40,332.7 48.65,332.7 48.90,332.7 49.15,332.7 49.40,332.7 49.65,332.7 49.90,332.7 50.15,332.7 50.40,332.6 50.65,332.6 50.90,332.6 51.15,332.6 51.40,332.6 51.65,332.6 51.90,332.6 52.15,332.6 52.40,332.6 52.65,332.5 52.90,332.5 53.15,332.5 53.40,332.5 53.65,332.5 53.90,332.5 54.15,332.5 54.40,332.5 54.65,332.4 54.90,332.4 55.15,332.4 55.40,332.4 55.65,332.4 55.90,332.4 56.15,332.4 56.40,332.4 56.65,332.3 56.90,332.3 57.15,332.3 57.40,332.3 57.65,332.3 57.90,332.3 58.15,332.3 58.40,332.2 58.65,332.2 58.90,332.2 59.15,332.2 59.40,332.2 59.65,332.2 59.90,332.1 60.15,332.1 60.40,332.1 60.65,332.1 60.90,332.1 61.15,332.1 61.40,332.1 61.65,332.0 61.90,332.0 62.15,332.0 62.40,332.0 62.65,332.0 62.90,332.0 63.15,331.9 63.40,331.9 63.65,331.9 63.90,331.9 64.15,331.9 64.40,331.9 64.65,331.8 64.90,331.8 65.15,331.8 65.40,331.8 65.65,331.8 65.90,331.7 66.15,331.7 66.40,331.7 66.65,331.7 66.90,331.7 67.15,331.7 67.40,331.6 67.65,331.6 67.90,331.6 68.15,331.6 68.40,331.6 68.65,331.5 68.90,331.5 69.15,331.5 69.40,331.5 69.65,331.5 69.90,331.4 70.15,331.4 70.40,331.4 70.65,331.4 70.90,331.3 71.15,331.3 71.40,331.3 71.65,331.3 71.90,331.3 72.15,331.2 72.40,331.2 72.65,331.2 72.90,331.2 73.15,331.1 73.40,331.1 73.65,331.1 73.90,331.1 74.15,331.0 74.40,331.0 74.65,331.0 74.90,331.0 75.15,330.9 75.40,330.9 75.65,330.9 75.90,330.9 76.15,330.8 76.40,330.8 76.65,330.8 76.90,330.8 77.15,330.7 77.40,330.7 77.65,330.7 77.90,330.7 78.15,330.6 78.40,330.6 78.65,330.6 78.90,330.5 79.15,330.5 79.40,330.5 79.65,330.4 79.90,330.4 80.15,330.4 80.40,330.4 80.65,330.3 80.90,330.3 81.15,330.3 81.40,330.2 81.65,330.2 81.90,330.2 82.15,330.1 82.40,330.1 82.65,330.1 82.90,330.0 83.15,330.0 83.40,330.0 83.65,329.9 83.90,329.9 84.15,329.9 84.40,329.8 84.65,329.8 84.90,329.7 85.15,329.7 85.40,329.7 85.65,329.6 85.90,329.6 86.15,329.6 86.40,329.5 86.65,329.5 86.90,329.4 87.15,329.4 87.40,329.4 87.65,329.3 87.90,329.3 88.15,329.2 88.40,329.2 88.65,329.1 88.90,329.1 89.15,329.1 89.40,329.0 89.65,329.0 89.90,328.9 90.15,328.9 90.40,328.8 90.65,328.8 90.90,328.7 91.15,328.7 91.40,328.6 91.65,328.6 91.90,328.5 92.15,328.5 92.40,328.4 92.65,328.4 92.90,328.3 93.15,328.3 93.40,328.2 93.65,328.2 93.90,328.1 94.15,328.1 94.40,328.0 94.65,328.0 94.90,327.9 95.15,327.8 95.40,327.8 95.65,327.7 95.90,327.7 96.15,327.6 96.40,327.6 96.65,327.5 96.90,327.4 97.15,327.4 97.40,327.3 97.65,327.2 97.90,327.2 98.15,327.1 98.40,327.0 98.65,327.0 98.90,326.9 99.15,326.8 99.40,326.8 99.65,326.7 99.90,326.6 100.15,326.6 100.40,326.5 100.65,326.4 100.90,326.3 101.15,326.3 101.40,326.2 101.65,326.1 101.90,326.0 102.15,325.9 102.40,325.9 102.65,325.8 102.90,325.7 103.15,325.6 103.40,325.5 103.65,325.4 103.90,325.4 104.15,325.3 104.40,325.2 104.65,325.1 104.90,325.0 105.15,324.9 105.40,324.8 105.65,324.7 105.90,324.6 106.15,324.5 106.40,324.4 106.65,324.3 106.90,324.2 107.15,324.1 107.40,324.0 107.65,323.9 107.90,323.8 108.15,323.7 108.40,323.6 108.65,323.5 108.90,323.4 109.15,323.2 109.40,323.1 109.65,323.0 109.90,322.9 110.15,322.8 110.40,322.6 110.65,322.5 110.90,322.4 111.15,322.3 111.40,322.1 111.65,322.0 111.90,321.9 112.15,321.7 112.40,321.6 112.65,321.5 112.90,321.3 113.15,321.2 113.40,321.0 113.65,320.9 113.90,320.7 114.15,320.6 114.40,320.4 114.65,320.3 114.90,320.1 115.15,320.0 115.40,319.8 115.65,319.7 115.90,319.5 116.15,319.3 116.40,319.2 116.65,319.0 116.90,318.8 117.15,318.6 117.40,318.5 117.65,318.3 117.90,318.1 118.15,317.9 118.40,317.7 118.65,317.5 118.90,317.3 119.15,317.1 119.40,316.9 119.65,316.7 119.90,316.5 120.15,316.3 120.40,316.1 120.65,315.9 120.90,315.7 121.15,315.4 121.40,315.2 121.65,315.0 121.90,314.8 122.15,314.5 122.40,314.3 122.65,314.1 122.90,313.8 123.15,313.6 123.40,313.3 123.65,313.1 123.90,312.8 124.15,312.5 124.40,312.3 124.65,312.0 124.90,311.8 125.15,311.5 125.40,311.2 125.65,310.9 125.90,310.6 126.15,310.4 126.40,310.1 126.65,309.8 126.90,309.5 127.15,309.2 127.40,308.9 127.65,308.6 127.90,308.2 128.15,307.9 128.40,307.6 128.65,307.3 128.90,307.0 129.15,306.6 129.40,306.3 129.65,306.0 129.90,305.6 130.15,305.3 130.40,304.9 130.65,304.6 130.90,304.2 131.15,303.9 131.40,303.5 131.65,303.1 131.90,302.8 132.15,302.4 132.40,302.0 132.65,301.7 132.90,301.3 133.15,300.9 133.40,300.5 133.65,300.1 133.90,299.7 134.15,299.3 134.40,299.0 134.65,298.6 134.90,298.2 135.15,297.8 135.40,297.4 135.65,297.0 135.90,296.6 136.15,296.2 136.40,295.8 136.65,295.4 136.90,295.0 137.15,294.6 137.40,294.2 137.65,293.8 137.90,293.4 138.15,293.0 138.40,292.6 138.65,292.2 138.90,291.8 139.15,291.4 139.40,291.0 139.65,290.7 139.90,290.3 140.15,289.9 140.40,289.6 140.65,289.2 140.90,288.8 141.15,288.5 141.40,288.1 141.65,287.8 141.90,287.5 142.15,287.2 142.40,286.8 142.65,286.5 142.90,286.2 143.15,285.9 143.40,285.7 143.65,285.4 143.90,285.1 144.15,284.9 144.40,284.6 144.65,284.4 144.90,284.2 145.15,284.0 145.40,283.8 145.65,283.6 145.90,283.5 146.15,283.3 146.40,283.2 146.65,283.0 146.90,282.9 147.15,282.8 147.40,282.7 147.65,282.7 147.90,282.6 148.15,282.5 148.40,282.5 148.65,282.5 148.90,282.5 149.15,282.5 149.40,282.5 149.65,282.6 149.90,282.6 150.15,282.7 150.40,282.8 150.65,282.9 150.90,283.0 151.15,283.1 151.40,283.3 151.65,283.4 151.90,283.6 152.15,283.8 152.40,284.0 152.65,284.2 152.90,284.4 153.15,284.6 153.40,284.8 153.65,285.1 153.90,285.4 154.15,285.6 154.40,285.9 154.65,286.2 154.90,286.5 155.15,286.8 155.40,287.1 155.65,287.4 155.90,287.8 156.15,288.1 156.40,288.4 156.65,288.8 156.90,289.1 157.15,289.5 157.40,289.9 157.65,290.2 157.90,290.6 158.15,291.0 158.40,291.4 158.65,291.8 158.90,292.1 159.15,292.5 159.40,292.9 159.65,293.3 159.90,293.7 160.15,294.1 160.40,294.5 160.65,294.9 160.90,295.3 161.15,295.7 161.40,296.1 161.65,296.5 161.90,296.9 162.15,297.3 162.40,297.7 162.65,298.1 162.90,298.5 163.15,298.9 163.40,299.3 163.65,299.7 163.90,300.1 164.15,300.5 164.40,300.8 164.65,301.2 164.90,301.6 165.15,302.0 165.40,302.3 165.65,302.7 165.90,303.1 166.15,303.5 166.40,303.8 166.65,304.2 166.90,304.5 167.15,304.9 167.40,305.2 167.65,305.6 167.90,305.9 168.15,306.2 168.40,306.6 168.65,306.9 168.90,307.2 169.15,307.6 169.40,307.9 169.65,308.2 169.90,308.5 170.15,308.8 170.40,309.1 170.65,309.4 170.90,309.7 171.15,310.0 171.40,310.3 171.65,310.6 171.90,310.9 172.15,311.2 172.40,311.4 172.65,311.7 172.90,312.0 173.15,312.2 173.40,312.5 173.65,312.8 173.90,313.0 174.15,313.3 174.40,313.5 174.65,313.8 174.90,314.0 175.15,314.3 175.40,314.5 175.65,314.7 175.90,315.0 176.15,315.2 176.40,315.4 176.65,315.6 176.90,315.8 177.15,316.1 177.40,316.3 177.65,316.5 177.90,316.7 178.15,316.9 178.40,317.1 178.65,317.3 178.90,317.5 179.15,317.7 179.40,317.9 179.65,318.1 179.90,318.2 180.15,318.4 180.40,318.6 180.65,318.8 180.90,319.0 181.15,319.1 181.40,319.3 181.65,319.5 181.90,319.6 182.15,319.8 182.40,320.0 182.65,320.1 182.90,320.3 183.15,320.4 183.40,320.6 183.65,320.7 183.90,320.9 184.15,321.0 184.40,321.2 184.65,321.3 184.90,321.4 185.15,321.6 185.40,321.7 185.65,321.9 185.90,322.0 186.15,322.1 186.40,322.2 186.65,322.4 186.90,322.5 187.15,322.6 187.40,322.7 187.65,322.9 187.90,323.0 188.15,323.1 188.40,323.2 188.65,323.3 188.90,323.5 189.15,323.6 189.40,323.7 189.65,323.8 189.90,323.9 190.15,324.0 190.40,324.1 190.65,324.2 190.90,324.3 191.15,324.4 191.40,324.5 191.65,324.6 191.90,324.7 192.15,324.8 192.40,324.9 192.65,325.0 192.90,325.1 193.15,325.2 193.40,325.3 193.65,325.3 193.90,325.4 194.15,325.5 194.40,325.6 194.65,325.7 194.90,325.8 195.15,325.8 195.40,325.9 195.65,326.0 195.90,326.1 196.15,326.2 196.40,326.2 196.65,326.3 196.90,326.4 197.15,326.5 197.40,326.5 197.65,326.6 197.90,326.7 198.15,326.8 198.40,326.8 198.65,326.9 198.90,327.0 199.15,327.0 199.40,327.1 199.65,327.2 199.90,327.2 200.15,327.3 200.40,327.4 200.65,327.4 200.90,327.5 201.15,327.5 201.40,327.6 201.65,327.7 201.90,327.7 202.15,327.8 202.40,327.8 202.65,327.9 202.90,328.0 203.15,328.0 203.40,328.1 203.65,328.1 203.90,328.2 204.15,328.2 204.40,328.3 204.65,328.3 204.90,328.4 205.15,328.4 205.40,328.5 205.65,328.5 205.90,328.6 206.15,328.6 206.40,328.7 206.65,328.7 206.90,328.8 207.15,328.8 207.40,328.9 207.65,328.9 207.90,329.0 208.15,329.0 208.40,329.1 208.65,329.1 208.90,329.1 209.15,329.2 209.40,329.2 209.65,329.3 209.90,329.3 210.15,329.4 210.40,329.4 210.65,329.4 210.90,329.5 211.15,329.5 211.40,329.6 211.65,329.6 211.90,329.6 212.15,329.7 212.40,329.7 212.65,329.7 212.90,329.8 213.15,329.8 213.40,329.9 213.65,329.9 213.90,329.9 214.15,330.0 214.40,330.0 214.65,330.0 214.90,330.1 215.15,330.1 215.40,330.1 215.65,330.2 215.90,330.2 216.15,330.2 216.40,330.3 216.65,330.3 216.90,330.3 217.15,330.4 217.40,330.4 217.65,330.4 217.90,330.4 218.15,330.5 218.40,330.5 218.65,330.5 218.90,330.6 219.15,330.6 219.40,330.6 219.65,330.6 219.90,330.7 220.15,330.7 220.40,330.7 220.65,330.8 220.90,330.8 221.15,330.8 221.40,330.8 221.65,330.9 221.90,330.9 222.15,330.9 222.40,330.9 222.65,331.0 222.90,331.0 223.15,331.0 223.40,331.0 223.65,331.1 223.90,331.1 224.15,331.1 224.40,331.1 224.65,331.2 224.90,331.2 225.15,331.2 225.40,331.2 225.65,331.3 225.90,331.3 226.15,331.3 226.40,331.3 226.65,331.3 226.90,331.4 227.15,331.4 227.40,331.4 227.65,331.4 227.90,331.5 228.15,331.5 228.40,331.5 228.65,331.5 228.90,331.5 229.15,331.6 229.40,331.6 229.65,331.6 229.90,331.6 230.15,331.6 230.40,331.7 230.65,331.7 230.90,331.7 231.15,331.7 231.40,331.7 231.65,331.7 231.90,331.8 232.15,331.8 232.40,331.8 232.65,331.8 232.90,331.8 233.15,331.9 233.40,331.9 233.65,331.9 233.90,331.9 234.15,331.9 234.40,331.9 234.65,332.0 234.90,332.0 235.15,332.0 235.40,332.0 235.65,332.0 235.90,332.0 236.15,332.1 236.40,332.1 236.65,332.1 236.90,332.1 237.15,332.1 237.40,332.1 237.65,332.1 237.90,332.2 238.15,332.2 238.40,332.2 238.65,332.2 238.90,332.2 239.15,332.2 239.40,332.3 239.65,332.3 239.90,332.3 240.15,332.3 240.40,332.3 240.65,332.3 240.90,332.3 241.15,332.3 241.40,332.4 241.65,332.4 241.90,332.4 242.15,332.4 242.40,332.4 242.65,332.4" fill="none" stroke="#62dc2a" stroke-width="1.6" stroke-linejoin="round" />
<polyline points="33.90,332.2 34.15,332.2 34.40,332.2 34.65,332.2 34.90,332.2 35.15,332.2 35.40,332.2 35.65,332.1 35.90,332.1 36.15,332.1 36.40,332.1 36.65,332.1 36.90,332.1 37.15,332.0 37.40,332.0 37.65,332.0 37.90,332.0 38.15,332.0 38.40,332.0 38.65,332.0 38.90,331.9 39.15,331.9 39.40,331.9 39.65,331.9 39.90,331.9 40.15,331.8 40.40,331.8 40.65,331.8 40.90,331.8 41.15,331.8 41.40,331.8 41.65,331.7 41.90,331.7 42.15,331.7 42.40,331.7 42.65,331.7 42.90,331.6 43.15,331.6 43.40,331.6 43.65,331.6 43.90,331.6 44.15,331.5 44.40,331.5 44.65,331.5 44.90,331.5 45.15,331.5 45.40,331.4 45.65,331.4 45.90,331.4 46.15,331.4 46.40,331.4 46.65,331.3 46.90,331.3 47.15,331.3 47.40,331.3 47.65,331.2 47.90,331.2 48.15,331.2 48.40,331.2 48.65,331.1 48.90,331.1 49.15,331.1 49.40,331.1 49.65,331.1 49.90,331.0 50.15,331.0 50.40,331.0 50.65,331.0 50.90,330.9 51.15,330.9 51.40,330.9 51.65,330.8 51.90,330.8 52.15,330.8 52.40,330.8 52.65,330.7 52.90,330.7 53.15,330.7 53.40,330.7 53.65,330.6 53.90,330.6 54.15,330.6 54.40,330.5 54.65,330.5 54.90,330.5 55.15,330.5 55.40,330.4 55.65,330.4 55.90,330.4 56.15,330.3 56.40,330.3 56.65,330.3 56.90,330.2 57.15,330.2 57.40,330.2 57.65,330.1 57.90,330.1 58.15,330.1 58.40,330.0 58.65,330.0 58.90,330.0 59.15,329.9 59.40,329.9 59.65,329.9 59.90,329.8 60.15,329.8 60.40,329.7 60.65,329.7 60.90,329.7 61.15,329.6 61.40,329.6 61.65,329.6 61.90,329.5 62.15,329.5 62.40,329.4 62.65,329.4 62.90,329.4 63.15,329.3 63.40,329.3 63.65,329.2 63.90,329.2 64.15,329.1 64.40,329.1 64.65,329.1 64.90,329.0 65.15,329.0 65.40,328.9 65.65,328.9 65.90,328.8 66.15,328.8 66.40,328.7 66.65,328.7 66.90,328.6 67.15,328.6 67.40,328.5 67.65,328.5 67.90,328.4 68.15,328.4 68.40,328.3 68.65,328.3 68.90,328.2 69.15,328.2 69.40,328.1 69.65,328.1 69.90,328.0 70.15,328.0 70.40,327.9 70.65,327.8 70.90,327.8 71.15,327.7 71.40,327.7 71.65,327.6 71.90,327.5 72.15,327.5 72.40,327.4 72.65,327.4 72.90,327.3 73.15,327.2 73.40,327.2 73.65,327.1 73.90,327.0 74.15,327.0 74.40,326.9 74.65,326.8 74.90,326.8 75.15,326.7 75.40,326.6 75.65,326.5 75.90,326.5 76.15,326.4 76.40,326.3 76.65,326.2 76.90,326.2 77.15,326.1 77.40,326.0 77.65,325.9 77.90,325.9 78.15,325.8 78.40,325.7 78.65,325.6 78.90,325.5 79.15,325.4 79.40,325.3 79.65,325.3 79.90,325.2 80.15,325.1 80.40,325.0 80.65,324.9 80.90,324.8 81.15,324.7 81.40,324.6 81.65,324.5 81.90,324.4 82.15,324.3 82.40,324.2 82.65,324.1 82.90,324.0 83.15,323.9 83.40,323.8 83.65,323.7 83.90,323.6 84.15,323.5 84.40,323.4 84.65,323.3 84.90,323.1 85.15,323.0 85.40,322.9 85.65,322.8 85.90,322.7 86.15,322.5 86.40,322.4 86.65,322.3 86.90,322.2 87.15,322.0 87.40,321.9 87.65,321.8 87.90,321.6 88.15,321.5 88.40,321.4 88.65,321.2 88.90,321.1 89.15,321.0 89.40,320.8 89.65,320.7 89.90,320.5 90.15,320.4 90.40,320.2 90.65,320.1 90.90,319.9 91.15,319.7 91.40,319.6 91.65,319.4 91.90,319.3 92.15,319.1 92.40,318.9 92.65,318.8 92.90,318.6 93.15,318.4 93.40,318.2 93.65,318.0 93.90,317.9 94.15,317.7 94.40,317.5 94.65,317.3 94.90,317.1 95.15,316.9 95.40,316.7 95.65,316.5 95.90,316.3 96.15,316.1 96.40,315.9 96.65,315.7 96.90,315.5 97.15,315.3 97.40,315.1 97.65,314.8 97.90,314.6 98.15,314.4 98.40,314.2 98.65,313.9 98.90,313.7 99.15,313.5 99.40,313.2 99.65,313.0 99.90,312.7 100.15,312.5 100.40,312.2 100.65,312.0 100.90,311.7 101.15,311.5 101.40,311.2 101.65,311.0 101.90,310.7 102.15,310.4 102.40,310.2 102.65,309.9 102.90,309.6 103.15,309.3 103.40,309.0 103.65,308.8 103.90,308.5 104.15,308.2 104.40,307.9 104.65,307.6 104.90,307.3 105.15,307.0 105.40,306.7 105.65,306.4 105.90,306.1 106.15,305.8 106.40,305.5 106.65,305.2 106.90,304.9 107.15,304.6 107.40,304.2 107.65,303.9 107.90,303.6 108.15,303.3 108.40,303.0 108.65,302.6 108.90,302.3 109.15,302.0 109.40,301.7 109.65,301.4 109.90,301.0 110.15,300.7 110.40,300.4 110.65,300.1 110.90,299.8 111.15,299.4 111.40,299.1 111.65,298.8 111.90,298.5 112.15,298.2 112.40,297.9 112.65,297.6 112.90,297.2 113.15,296.9 113.40,296.6 113.65,296.3 113.90,296.0 114.15,295.8 114.40,295.5 114.65,295.2" fill="none" stroke="#c9b52c" stroke-width="1.5" stroke-linejoin="round" />
<polyline points="154.90,286.5 155.15,286.8 155.40,287.1 155.65,287.4 155.90,287.8 156.15,288.1 156.40,288.4 156.65,288.8 156.90,289.1 157.15,289.5 157.40,289.9 157.65,290.2 157.90,290.6 158.15,291.0 158.40,291.4 158.65,291.8 158.90,292.1 159.15,292.5 159.40,292.9 159.65,293.3 159.90,293.7 160.15,294.1 160.40,294.5 160.65,294.9 160.90,295.3 161.15,295.7 161.40,296.1 161.65,296.5 161.90,296.9 162.15,297.3 162.40,297.7 162.65,298.1 162.90,298.5 163.15,298.9 163.40,299.3 163.65,299.7 163.90,300.1 164.15,300.5 164.40,300.8 164.65,301.2 164.90,301.6 165.15,302.0 165.40,302.3 165.65,302.7 165.90,303.1 166.15,303.5 166.40,303.8 166.65,304.2 166.90,304.5 167.15,304.9 167.40,305.2 167.65,305.6 167.90,305.9 168.15,306.2 168.40,306.6 168.65,306.9 168.90,307.2 169.15,307.6 169.40,307.9 169.65,308.2 169.90,308.5 170.15,308.8 170.40,309.1 170.65,309.4 170.90,309.7 171.15,310.0 171.40,310.3 171.65,310.6 171.90,310.9 172.15,311.2 172.40,311.4 172.65,311.7 172.90,312.0 173.15,312.2 173.40,312.5 173.65,312.8 173.90,313.0 174.15,313.3 174.40,313.5 174.65,313.8 174.90,314.0 175.15,314.3 175.40,314.5 175.65,314.7 175.90,315.0 176.15,315.2 176.40,315.4 176.65,315.6 176.90,315.8 177.15,316.1 177.40,316.3 177.65,316.5 177.90,316.7 178.15,316.9 178.40,317.1 178.65,317.3 178.90,317.5 179.15,317.7 179.40,317.9 179.65,318.1 179.90,318.2 180.15,318.4 180.40,318.6 180.65,318.8 180.90,319.0 181.15,319.1 181.40,319.3 181.65,319.5 181.90,319.6 182.15,319.8 182.40,320.0 182.65,320.1 182.90,320.3 183.15,320.4 183.40,320.6 183.65,320.7 183.90,320.9 184.15,321.0 184.40,321.2 184.65,321.3 184.90,321.4 185.15,321.6 185.40,321.7 185.65,321.9 185.90,322.0 186.15,322.1 186.40,322.2 186.65,322.4 186.90,322.5 187.15,322.6 187.40,322.7 187.65,322.9 187.90,323.0 188.15,323.1 188.40,323.2 188.65,323.3 188.90,323.5 189.15,323.6 189.40,323.7 189.65,323.8 189.90,323.9 190.15,324.0 190.40,324.1 190.65,324.2 190.90,324.3 191.15,324.4 191.40,324.5 191.65,324.6 191.90,324.7 192.15,324.8 192.40,324.9 192.65,325.0 192.90,325.1 193.15,325.2 193.40,325.3 193.65,325.3 193.90,325.4 194.15,325.5 194.40,325.6 194.65,325.7 194.90,325.8 195.15,325.8 195.40,325.9 195.65,326.0 195.90,326.1 196.15,326.2 196.40,326.2 196.65,326.3 196.90,326.4 197.15,326.5 197.40,326.5 197.65,326.6 197.90,326.7 198.15,326.8 198.40,326.8 198.65,326.9 198.90,327.0 199.15,327.0 199.40,327.1 199.65,327.2 199.90,327.2 200.15,327.3 200.40,327.4 200.65,327.4 200.90,327.5 201.15,327.5 201.40,327.6 201.65,327.7 201.90,327.7 202.15,327.8 202.40,327.8 202.65,327.9 202.90,328.0 203.15,328.0 203.40,328.1 203.65,328.1 203.90,328.2 204.15,328.2 204.40,328.3 204.65,328.3 204.90,328.4 205.15,328.4 205.40,328.5 205.65,328.5 205.90,328.6 206.15,328.6 206.40,328.7 206.65,328.7 206.90,328.8 207.15,328.8 207.40,328.9 207.65,328.9 207.90,329.0 208.15,329.0 208.40,329.1 208.65,329.1 208.90,329.1 209.15,329.2 209.40,329.2 209.65,329.3 209.90,329.3 210.15,329.4 210.40,329.4 210.65,329.4 210.90,329.5 211.15,329.5 211.40,329.6 211.65,329.6 211.90,329.6 212.15,329.7 212.40,329.7 212.65,329.7 212.90,329.8 213.15,329.8 213.40,329.9 213.65,329.9 213.90,329.9 214.15,330.0 214.40,330.0 214.65,330.0 214.90,330.1 215.15,330.1 215.40,330.1 215.65,330.2 215.90,330.2 216.15,330.2 216.40,330.3 216.65,330.3 216.90,330.3 217.15,330.4 217.40,330.4 217.65,330.4 217.90,330.4 218.15,330.5 218.40,330.5 218.65,330.5 218.90,330.6 219.15,330.6 219.40,330.6 219.65,330.6 219.90,330.7 220.15,330.7 220.40,330.7 220.65,330.8 220.90,330.8 221.15,330.8 221.40,330.8 221.65,330.9 221.90,330.9 222.15,330.9 222.40,330.9 222.65,331.0 222.90,331.0 223.15,331.0 223.40,331.0 223.65,331.1 223.90,331.1 224.15,331.1 224.40,331.1 224.65,331.2 224.90,331.2 225.15,331.2 225.40,331.2 225.65,331.3 225.90,331.3 226.15,331.3 226.40,331.3 226.65,331.3 226.90,331.4 227.15,331.4 227.40,331.4 227.65,331.4 227.90,331.5 228.15,331.5 228.40,331.5 228.65,331.5 228.90,331.5 229.15,331.6 229.40,331.6 229.65,331.6 229.90,331.6 230.15,331.6 230.40,331.7 230.65,331.7 230.90,331.7 231.15,331.7 231.40,331.7 231.65,331.7 231.90,331.8 232.15,331.8 232.40,331.8 232.65,331.8 232.90,331.8 233.15,331.9 233.40,331.9 233.65,331.9 233.90,331.9 234.15,331.9 234.40,331.9 234.65,332.0 234.90,332.0 235.15,332.0 235.40,332.0 235.65,332.0 235.90,332.0 236.15,332.1 236.40,332.1 236.65,332.1 236.90,332.1 237.15,332.1 237.40,332.1 237.65,332.1 237.90,332.2 238.15,332.2 238.40,332.2 238.65,332.2 238.90,332.2 239.15,332.2 239.40,332.3 239.65,332.3 239.90,332.3 240.15,332.3 240.40,332.3 240.65,332.3 240.90,332.3 241.15,332.3 241.40,332.4 241.65,332.4 241.90,332.4 242.15,332.4 242.40,332.4 242.65,332.4" fill="none" stroke="#c9b52c" stroke-width="1.5" stroke-linejoin="round" />
<polyline points="33.90,330.5 34.15,330.5 34.40,330.5 34.65,330.4 34.90,330.4 35.15,330.4 35.40,330.4 35.65,330.3 35.90,330.3 36.15,330.3 36.40,330.3 36.65,330.3 36.90,330.2 37.15,330.2 37.40,330.2 37.65,330.2 37.90,330.1 38.15,330.1 38.40,330.1 38.65,330.1 38.90,330.0 39.15,330.0 39.40,330.0 39.65,330.0 39.90,329.9 40.15,329.9 40.40,329.9 40.65,329.9 40.90,329.8 41.15,329.8 41.40,329.8 41.65,329.7 41.90,329.7 42.15,329.7 42.40,329.7 42.65,329.6 42.90,329.6 43.15,329.6 43.40,329.5 43.65,329.5 43.90,329.5 44.15,329.5 44.40,329.4 44.65,329.4 44.90,329.4 45.15,329.3 45.40,329.3 45.65,329.3 45.90,329.2 46.15,329.2 46.40,329.2 46.65,329.1 46.90,329.1 47.15,329.1 47.40,329.0 47.65,329.0 47.90,329.0 48.15,328.9 48.40,328.9 48.65,328.9 48.90,328.8 49.15,328.8 49.40,328.8 49.65,328.7 49.90,328.7 50.15,328.7 50.40,328.6 50.65,328.6 50.90,328.6 51.15,328.5 51.40,328.5 51.65,328.4 51.90,328.4 52.15,328.4 52.40,328.3 52.65,328.3 52.90,328.2 53.15,328.2 53.40,328.2 53.65,328.1 53.90,328.1 54.15,328.0 54.40,328.0 54.65,328.0 54.90,327.9 55.15,327.9 55.40,327.8 55.65,327.8 55.90,327.7 56.15,327.7 56.40,327.6 56.65,327.6 56.90,327.6 57.15,327.5 57.40,327.5 57.65,327.4 57.90,327.4 58.15,327.3 58.40,327.3 58.65,327.2 58.90,327.2 59.15,327.1 59.40,327.1 59.65,327.0 59.90,327.0 60.15,326.9 60.40,326.9 60.65,326.8 60.90,326.8 61.15,326.7 61.40,326.7 61.65,326.6 61.90,326.5 62.15,326.5 62.40,326.4 62.65,326.4 62.90,326.3 63.15,326.3 63.40,326.2 63.65,326.1 63.90,326.1 64.15,326.0 64.40,326.0 64.65,325.9 64.90,325.8 65.15,325.8 65.40,325.7 65.65,325.6 65.90,325.6 66.15,325.5 66.40,325.4 66.65,325.4 66.90,325.3 67.15,325.2 67.40,325.2 67.65,325.1 67.90,325.0 68.15,325.0 68.40,324.9 68.65,324.8 68.90,324.7 69.15,324.7 69.40,324.6 69.65,324.5 69.90,324.4 70.15,324.4 70.40,324.3 70.65,324.2 70.90,324.1 71.15,324.1 71.40,324.0 71.65,323.9 71.90,323.8 72.15,323.7 72.40,323.6 72.65,323.5 72.90,323.5 73.15,323.4 73.40,323.3 73.65,323.2 73.90,323.1 74.15,323.0 74.40,322.9 74.65,322.8 74.90,322.7 75.15,322.6 75.40,322.5 75.65,322.4 75.90,322.3 76.15,322.2 76.40,322.1 76.65,322.0 76.90,321.9 77.15,321.8 77.40,321.7 77.65,321.6 77.90,321.5 78.15,321.4 78.40,321.3 78.65,321.2 78.90,321.1 79.15,320.9 79.40,320.8 79.65,320.7 79.90,320.6 80.15,320.5 80.40,320.3 80.65,320.2 80.90,320.1 81.15,320.0 81.40,319.8 81.65,319.7 81.90,319.6 82.15,319.5 82.40,319.3 82.65,319.2 82.90,319.0 83.15,318.9 83.40,318.8 83.65,318.6 83.90,318.5 84.15,318.3 84.40,318.2 84.65,318.0 84.90,317.9 85.15,317.7 85.40,317.6 85.65,317.4 85.90,317.3 86.15,317.1 86.40,316.9 86.65,316.8 86.90,316.6 87.15,316.4 87.40,316.3 87.65,316.1 87.90,315.9 88.15,315.7 88.40,315.6 88.65,315.4 88.90,315.2 89.15,315.0 89.40,314.8 89.65,314.6 89.90,314.4 90.15,314.2 90.40,314.0 90.65,313.8 90.90,313.6 91.15,313.4 91.40,313.2 91.65,313.0 91.90,312.8 92.15,312.6 92.40,312.4 92.65,312.1 92.90,311.9 93.15,311.7 93.40,311.5 93.65,311.2 93.90,311.0 94.15,310.8 94.40,310.5 94.65,310.3 94.90,310.0 95.15,309.8 95.40,309.5 95.65,309.3 95.90,309.0 96.15,308.7 96.40,308.5 96.65,308.2 96.90,307.9 97.15,307.6 97.40,307.4 97.65,307.1 97.90,306.8 98.15,306.5 98.40,306.2 98.65,305.9 98.90,305.6 99.15,305.3 99.40,305.0 99.65,304.7 99.90,304.4 100.15,304.0 100.40,303.7 100.65,303.4 100.90,303.1 101.15,302.7 101.40,302.4 101.65,302.1 101.90,301.7 102.15,301.4 102.40,301.0 102.65,300.7 102.90,300.3 103.15,299.9 103.40,299.6 103.65,299.2 103.90,298.8 104.15,298.5 104.40,298.1 104.65,297.7 104.90,297.3 105.15,296.9 105.40,296.5 105.65,296.1 105.90,295.7 106.15,295.3 106.40,294.9 106.65,294.5 106.90,294.1 107.15,293.7 107.40,293.2 107.65,292.8 107.90,292.4 108.15,292.0 108.40,291.5 108.65,291.1 108.90,290.7 109.15,290.2 109.40,289.8 109.65,289.4 109.90,288.9 110.15,288.5 110.40,288.0 110.65,287.6 110.90,287.2 111.15,286.7 111.40,286.3 111.65,285.8 111.90,285.4 112.15,284.9 112.40,284.5 112.65,284.0 112.90,283.6 113.15,283.1 113.40,282.7 113.65,282.2 113.90,281.8 114.15,281.4 114.40,280.9 114.65,280.5 114.90,280.0 115.15,279.6 115.40,279.2 115.65,278.8 115.90,278.3 116.15,277.9 116.40,277.5 116.65,277.1 116.90,276.7 117.15,276.3 117.40,275.9 117.65,275.5 117.90,275.1 118.15,274.7 118.40,274.4 118.65,274.0 118.90,273.6 119.15,273.3 119.40,272.9 119.65,272.6 119.90,272.3 120.15,271.9 120.40,271.6 120.65,271.3 120.90,271.0 121.15,270.7 121.40,270.4 121.65,270.1 121.90,269.8 122.15,269.6 122.40,269.3 122.65,269.1 122.90,268.8 123.15,268.6 123.40,268.3 123.65,268.1 123.90,267.9 124.15,267.7 124.40,267.5 124.65,267.3 124.90,267.1 125.15,266.9 125.40,266.8 125.65,266.6 125.90,266.4 126.15,266.3 126.40,266.1 126.65,266.0 126.90,265.9 127.15,265.7 127.40,265.6 127.65,265.5 127.90,265.4 128.15,265.3 128.40,265.2 128.65,265.0 128.90,264.9 129.15,264.9 129.40,264.8 129.65,264.7 129.90,264.6 130.15,264.5 130.40,264.4 130.65,264.3 130.90,264.3 131.15,264.2 131.40,264.1 131.65,264.0 131.90,264.0 132.15,263.9 132.40,263.8 132.65,263.7 132.90,263.7 133.15,263.6 133.40,263.5 133.65,263.4 133.90,263.4 134.15,263.3 134.40,263.2 134.65,263.1 134.90,263.1 135.15,263.0 135.40,262.9 135.65,262.8 135.90,262.8 136.15,262.7 136.40,262.6 136.65,262.5 136.90,262.4 137.15,262.4 137.40,262.3 137.65,262.2 137.90,262.1 138.15,262.1 138.40,262.0 138.65,261.9 138.90,261.8 139.15,261.7 139.40,261.7 139.65,261.6 139.90,261.5 140.15,261.5 140.40,261.4 140.65,261.3 140.90,261.3 141.15,261.2 141.40,261.2 141.65,261.1 141.90,261.1 142.15,261.0 142.40,261.0 142.65,261.0 142.90,261.0 143.15,260.9 143.40,260.9 143.65,260.9 143.90,260.9 144.15,261.0 144.40,261.0 144.65,261.0 144.90,261.0 145.15,261.1 145.40,261.2 145.65,261.2 145.90,261.3 146.15,261.4 146.40,261.5 146.65,261.6 146.90,261.7 147.15,261.8 147.40,262.0 147.65,262.1 147.90,262.3 148.15,262.5 148.40,262.7 148.65,262.9 148.90,263.1 149.15,263.3 149.40,263.5 149.65,263.8 149.90,264.1 150.15,264.3 150.40,264.6 150.65,264.9 150.90,265.2 151.15,265.5 151.40,265.8 151.65,266.2 151.90,266.5 152.15,266.9 152.40,267.3 152.65,267.6 152.90,268.0 153.15,268.4 153.40,268.8 153.65,269.3 153.90,269.7 154.15,270.1 154.40,270.6 154.65,271.0 154.90,271.5 155.15,271.9 155.40,272.4 155.65,272.9 155.90,273.3 156.15,273.8 156.40,274.3 156.65,274.8 156.90,275.3 157.15,275.8 157.40,276.3 157.65,276.8 157.90,277.3 158.15,277.8 158.40,278.3 158.65,278.9 158.90,279.4 159.15,279.9 159.40,280.4 159.65,280.9 159.90,281.4 160.15,282.0 160.40,282.5 160.65,283.0 160.90,283.5 161.15,284.0 161.40,284.5 161.65,285.0 161.90,285.6 162.15,286.1 162.40,286.6 162.65,287.1 162.90,287.6 163.15,288.1 163.40,288.6 163.65,289.0 163.90,289.5 164.15,290.0 164.40,290.5 164.65,291.0 164.90,291.4 165.15,291.9 165.40,292.4 165.65,292.8 165.90,293.3 166.15,293.8 166.40,294.2 166.65,294.6 166.90,295.1 167.15,295.5 167.40,296.0 167.65,296.4 167.90,296.8 168.15,297.2 168.40,297.6 168.65,298.0 168.90,298.4 169.15,298.8 169.40,299.2 169.65,299.6 169.90,300.0 170.15,300.4 170.40,300.8 170.65,301.1 170.90,301.5 171.15,301.9 171.40,302.2 171.65,302.6 171.90,302.9 172.15,303.3 172.40,303.6 172.65,304.0 172.90,304.3 173.15,304.6 173.40,305.0 173.65,305.3 173.90,305.6 174.15,305.9 174.40,306.2 174.65,306.5 174.90,306.8 175.15,307.1 175.40,307.4 175.65,307.7 175.90,308.0 176.15,308.3 176.40,308.6 176.65,308.8 176.90,309.1 177.15,309.4 177.40,309.6 177.65,309.9 177.90,310.2 178.15,310.4 178.40,310.7 178.65,310.9 178.90,311.1 179.15,311.4 179.40,311.6 179.65,311.9 179.90,312.1 180.15,312.3 180.40,312.5 180.65,312.8 180.90,313.0 181.15,313.2 181.40,313.4 181.65,313.6 181.90,313.8 182.15,314.0 182.40,314.2 182.65,314.4 182.90,314.6 183.15,314.8 183.40,315.0 183.65,315.2 183.90,315.4 184.15,315.6 184.40,315.8 184.65,316.0 184.90,316.1 185.15,316.3 185.40,316.5 185.65,316.7 185.90,316.8 186.15,317.0 186.40,317.2 186.65,317.3 186.90,317.5 187.15,317.6 187.40,317.8 187.65,318.0 187.90,318.1 188.15,318.3 188.40,318.4 188.65,318.6 188.90,318.7 189.15,318.8 189.40,319.0 189.65,319.1 189.90,319.3 190.15,319.4 190.40,319.5 190.65,319.7 190.90,319.8 191.15,319.9 191.40,320.1 191.65,320.2 191.90,320.3 192.15,320.4 192.40,320.6 192.65,320.7 192.90,320.8 193.15,320.9 193.40,321.0 193.65,321.1 193.90,321.3 194.15,321.4 194.40,321.5 194.65,321.6 194.90,321.7 195.15,321.8 195.40,321.9 195.65,322.0 195.90,322.1 196.15,322.2 196.40,322.3 196.65,322.4 196.90,322.5 197.15,322.6 197.40,322.7 197.65,322.8 197.90,322.9 198.15,323.0 198.40,323.1 198.65,323.2 198.90,323.3 199.15,323.4 199.40,323.5 199.65,323.6 199.90,323.6 200.15,323.7 200.40,323.8 200.65,323.9 200.90,324.0 201.15,324.1 201.40,324.1 201.65,324.2 201.90,324.3 202.15,324.4 202.40,324.5 202.65,324.5 202.90,324.6 203.15,324.7 203.40,324.8 203.65,324.8 203.90,324.9 204.15,325.0 204.40,325.0 204.65,325.1 204.90,325.2 205.15,325.3 205.40,325.3 205.65,325.4 205.90,325.5 206.15,325.5 206.40,325.6 206.65,325.7 206.90,325.7 207.15,325.8 207.40,325.8 207.65,325.9 207.90,326.0 208.15,326.0 208.40,326.1 208.65,326.2 208.90,326.2 209.15,326.3 209.40,326.3 209.65,326.4 209.90,326.4 210.15,326.5 210.40,326.6 210.65,326.6 210.90,326.7 211.15,326.7 211.40,326.8 211.65,326.8 211.90,326.9 212.15,326.9 212.40,327.0 212.65,327.0 212.90,327.1 213.15,327.1 213.40,327.2 213.65,327.2 213.90,327.3 214.15,327.3 214.40,327.4 214.65,327.4 214.90,327.5 215.15,327.5 215.40,327.6 215.65,327.6 215.90,327.7 216.15,327.7 216.40,327.8 216.65,327.8 216.90,327.8 217.15,327.9 217.40,327.9 217.65,328.0 217.90,328.0 218.15,328.1 218.40,328.1 218.65,328.1 218.90,328.2 219.15,328.2 219.40,328.3 219.65,328.3 219.90,328.3 220.15,328.4 220.40,328.4 220.65,328.5 220.90,328.5 221.15,328.5 221.40,328.6 221.65,328.6 221.90,328.6 222.15,328.7 222.40,328.7 222.65,328.8 222.90,328.8 223.15,328.8 223.40,328.9 223.65,328.9 223.90,328.9 224.15,329.0 224.40,329.0 224.65,329.0 224.90,329.1 225.15,329.1 225.40,329.1 225.65,329.2 225.90,329.2 226.15,329.2 226.40,329.3 226.65,329.3 226.90,329.3 227.15,329.4 227.40,329.4 227.65,329.4 227.90,329.4 228.15,329.5 228.40,329.5 228.65,329.5 228.90,329.6 229.15,329.6 229.40,329.6 229.65,329.6 229.90,329.7 230.15,329.7 230.40,329.7 230.65,329.8 230.90,329.8 231.15,329.8 231.40,329.8 231.65,329.9 231.90,329.9 232.15,329.9 232.40,329.9 232.65,330.0 232.90,330.0 233.15,330.0 233.40,330.1 233.65,330.1 233.90,330.1 234.15,330.1 234.40,330.2 234.65,330.2 234.90,330.2 235.15,330.2 235.40,330.2 235.65,330.3 235.90,330.3 236.15,330.3 236.40,330.3 236.65,330.4 236.90,330.4 237.15,330.4 237.40,330.4 237.65,330.5 237.90,330.5 238.15,330.5 238.40,330.5 238.65,330.5 238.90,330.6 239.15,330.6 239.40,330.6 239.65,330.6 239.90,330.6 240.15,330.7 240.40,330.7 240.65,330.7 240.90,330.7 241.15,330.8 241.40,330.8 241.65,330.8 241.90,330.8 242.15,330.8 242.40,330.8 242.65,330.9" fill="none" stroke="#2a0404" stroke-width="1.8" stroke-linejoin="round" />
</g>
<rect x="30.1" y="211.8" width="220.9" height="147.9" fill="none" stroke="#151515" stroke-width="1.6"/>
<line x1="38.8" y1="359.7" x2="38.8" y2="356.9" stroke="#151515" stroke-width="1.4"/><line x1="79.6" y1="359.7" x2="79.6" y2="354.2" stroke="#151515" stroke-width="1.4"/><line x1="120.4" y1="359.7" x2="120.4" y2="356.9" stroke="#151515" stroke-width="1.4"/><line x1="161.2" y1="359.7" x2="161.2" y2="354.2" stroke="#151515" stroke-width="1.4"/><line x1="202.0" y1="359.7" x2="202.0" y2="356.9" stroke="#151515" stroke-width="1.4"/><line x1="242.8" y1="359.7" x2="242.8" y2="354.2" stroke="#151515" stroke-width="1.4"/>
<line x1="138.4" y1="217.4" x2="165.3" y2="217.4" stroke="#e0141e" stroke-width="1.5"/>
<g clip-path="url(#cc)">
<polyline points="283.77,341.6 284.02,335.0 284.27,332.8 284.52,343.8 284.77,332.6 285.02,335.3 285.27,339.6 285.52,337.2 285.77,342.2 286.02,337.5 286.27,336.4 286.52,336.9 286.77,336.7 287.02,340.0 287.27,342.4 287.52,340.7 287.77,338.4 288.02,335.7 288.27,340.0 288.52,330.3 288.77,338.4 289.02,335.1 289.27,334.6 289.52,330.9 289.77,338.2 290.02,344.9 290.27,337.4 290.52,337.2 290.77,331.6 291.02,341.8 291.27,338.5 291.52,335.4 291.77,340.9 292.02,337.4 292.27,333.3 292.52,337.7 292.77,335.6 293.02,342.3 293.27,334.3 293.52,338.2 293.77,334.8 294.02,336.5 294.27,333.2 294.52,334.4 294.77,330.7 295.02,335.1 295.27,336.8 295.52,337.6 295.77,337.8 296.02,339.3 296.27,332.0 296.52,342.9 296.77,332.7 297.02,329.1 297.27,332.7 297.52,327.4 297.77,333.8 298.02,337.2 298.27,336.4 298.52,328.3 298.77,341.6 299.02,338.0 299.27,331.5 299.52,328.9 299.77,335.8 300.02,328.8 300.27,332.6 300.52,332.9 300.77,334.9 301.02,336.3 301.27,340.6 301.52,330.4 301.77,331.9 302.02,335.1 302.27,333.6 302.52,321.7 302.77,335.1 303.02,340.6 303.27,338.2 303.52,337.4 303.77,334.9 304.02,336.6 304.27,328.0 304.52,328.4 304.77,330.8 305.02,323.0 305.27,334.8 305.52,331.2 305.77,334.1 306.02,333.9 306.27,335.1 306.52,336.5 306.77,331.0 307.02,329.6 307.27,328.2 307.52,333.5 307.77,330.1 308.02,326.5 308.27,331.2 308.52,333.7 308.77,334.4 309.02,332.7 309.27,327.4 309.52,331.8 309.77,332.4 310.02,329.4 310.27,334.0 310.52,328.8 310.77,334.1 311.02,337.0 311.27,326.1 311.52,334.3 311.77,332.1 312.02,327.5 312.27,330.7 312.52,334.5 312.77,335.5 313.02,329.7 313.27,330.6 313.52,338.9 313.77,332.9 314.02,330.8 314.27,332.8 314.52,334.0 314.77,328.9 315.02,325.3 315.27,324.1 315.52,333.0 315.77,326.8 316.02,323.9 316.27,323.3 316.52,336.1 316.77,337.2 317.02,330.0 317.27,334.6 317.52,332.8 317.77,323.1 318.02,332.8 318.27,330.6 318.52,329.3 318.77,329.1 319.02,323.4 319.27,333.5 319.52,331.7 319.77,326.9 320.02,327.5 320.27,322.7 320.52,333.1 320.77,329.2 321.02,321.2 321.27,325.6 321.52,331.2 321.77,333.1 322.02,334.5 322.27,328.7 322.52,324.5 322.77,322.3 323.02,331.4 323.27,328.9 323.52,336.6 323.77,329.4 324.02,321.0 324.27,329.7 324.52,325.1 324.77,329.8 325.02,320.7 325.27,326.8 325.52,319.8 325.77,323.3 326.02,319.8 326.27,327.6 326.52,316.3 326.77,313.2 327.02,319.6 327.27,323.2 327.52,324.9 327.77,315.5 328.02,325.8 328.27,325.6 328.52,324.9 328.77,323.7 329.02,326.1 329.27,331.0 329.52,325.3 329.77,324.8 330.02,323.9 330.27,327.3 330.52,321.4 330.77,319.5 331.02,323.8 331.27,316.7 331.52,325.8 331.77,320.3 332.02,318.8 332.27,317.5 332.52,310.8 332.77,317.4 333.02,312.5 333.27,314.3 333.52,314.6 333.77,320.4 334.02,317.8 334.27,321.4 334.52,313.4 334.77,318.2 335.02,317.4 335.27,320.0 335.52,316.8 335.77,320.7 336.02,314.4 336.27,321.8 336.52,325.8 336.77,322.5 337.02,318.0 337.27,317.6 337.52,329.0 337.77,314.8 338.02,312.2 338.27,314.3 338.52,314.2 338.77,314.0 339.02,323.9 339.27,328.0 339.52,316.5 339.77,308.0 340.02,315.9 340.27,314.1 340.52,307.6 340.77,316.6 341.02,313.0 341.27,308.2 341.52,309.1 341.77,318.5 342.02,308.3 342.27,312.2 342.52,309.6 342.77,307.0 343.02,309.0 343.27,316.4 343.52,320.8 343.77,304.2 344.02,309.4 344.27,309.2 344.52,310.2 344.77,311.9 345.02,313.0 345.27,308.2 345.52,297.2 345.77,316.4 346.02,310.6 346.27,305.9 346.52,308.0 346.77,307.4 347.02,307.9 347.27,294.7 347.52,313.5 347.77,302.4 348.02,310.5 348.27,315.5 348.52,300.0 348.77,304.1 349.02,308.7 349.27,307.9 349.52,305.0 349.77,298.9 350.02,305.1 350.27,309.4 350.52,304.2 350.77,289.2 351.02,302.4 351.27,298.8 351.52,307.2 351.77,294.3 352.02,289.9 352.27,295.9 352.52,307.0 352.77,302.5 353.02,299.6 353.27,310.6 353.52,289.9 353.77,288.9 354.02,285.5 354.27,294.5 354.52,288.8 354.77,283.8 355.02,303.2 355.27,288.9 355.52,300.4 355.77,299.0 356.02,285.2 356.27,291.5 356.52,286.6 356.77,280.2 357.02,306.4 357.27,290.9 357.52,286.0 357.77,297.0 358.02,284.5 358.27,286.4 358.52,293.9 358.77,283.1 359.02,288.0 359.27,295.2 359.52,274.6 359.77,288.0 360.02,283.9 360.27,283.3 360.52,288.4 360.77,272.0 361.02,273.3 361.27,272.3 361.52,274.7 361.77,274.3 362.02,282.5 362.27,276.4 362.52,276.3 362.77,283.8 363.02,262.8 363.27,266.5 363.52,282.2 363.77,265.5 364.02,270.3 364.27,272.2 364.52,282.9 364.77,278.5 365.02,266.6 365.27,259.5 365.52,276.7 365.77,266.6 366.02,261.7 366.27,276.3 366.52,257.5 366.77,259.3 367.02,273.0 367.27,256.0 367.52,279.9 367.77,277.3 368.02,247.4 368.27,262.6 368.52,271.2 368.77,268.4 369.02,260.6 369.27,249.8 369.52,275.0 369.77,256.8 370.02,257.3 370.27,257.3 370.52,268.3 370.77,255.4 371.02,257.9 371.27,247.5 371.52,246.5 371.77,261.7 372.02,248.3 372.27,246.9 372.52,263.8 372.77,255.1 373.02,257.4 373.27,262.7 373.52,257.2 373.77,265.3 374.02,261.4 374.27,249.0 374.52,253.9 374.77,252.7 375.02,246.7 375.27,255.2 375.52,247.0 375.77,255.4 376.02,253.9 376.27,246.7 376.52,267.9 376.77,267.1 377.02,268.8 377.27,266.2 377.52,267.3 377.77,256.4 378.02,271.7 378.27,251.3 378.52,249.9 378.77,252.7 379.02,245.1 379.27,250.6 379.52,269.6 379.77,235.3 380.02,236.2 380.27,243.4 380.52,264.9 380.77,249.9 381.02,261.0 381.27,250.4 381.52,239.8 381.77,252.7 382.02,232.6 382.27,239.8 382.52,244.2 382.77,249.9 383.02,254.7 383.27,247.3 383.52,257.0 383.77,240.9 384.02,256.1 384.27,258.8 384.52,251.2 384.77,241.1 385.02,258.7 385.27,263.5 385.52,253.1 385.77,244.5 386.02,253.3 386.27,260.5 386.52,243.0 386.77,232.0 387.02,249.8 387.27,262.0 387.52,247.0 387.77,248.9 388.02,240.3 388.27,235.1 388.52,254.1 388.77,261.3 389.02,248.2 389.27,240.7 389.52,237.0 389.77,261.6 390.02,239.3 390.27,244.5 390.52,250.3 390.77,254.7 391.02,244.9 391.27,233.7 391.52,240.6 391.77,236.5 392.02,244.0 392.27,237.7 392.52,248.8 392.77,235.2 393.02,243.5 393.27,251.9 393.52,254.2 393.77,227.7 394.02,248.6 394.27,244.3 394.52,244.0 394.77,237.0 395.02,230.4 395.27,245.8 395.52,256.6 395.77,228.4 396.02,252.0 396.27,246.7 396.52,254.5 396.77,229.8 397.02,247.4 397.27,228.3 397.52,259.7 397.77,244.3 398.02,251.7 398.27,247.2 398.52,233.8 398.77,255.5 399.02,252.3 399.27,244.9 399.52,229.8 399.77,263.1 400.02,240.0 400.27,250.8 400.52,254.7 400.77,258.9 401.02,249.7 401.27,254.0 401.52,259.4 401.77,256.8 402.02,240.0 402.27,257.4 402.52,251.3 402.77,261.7 403.02,246.9 403.27,256.8 403.52,258.4 403.77,259.5 404.02,250.4 404.27,255.7 404.52,265.1 404.77,286.3 405.02,263.0 405.27,272.5 405.52,269.3 405.77,277.6 406.02,251.0 406.27,250.2 406.52,268.4 406.77,266.3 407.02,265.5 407.27,269.0 407.52,275.8 407.77,290.5 408.02,258.8 408.27,268.5 408.52,278.3 408.77,266.8 409.02,275.6 409.27,273.7 409.52,273.3 409.77,280.0 410.02,275.6 410.27,283.8 410.52,294.7 410.77,277.2 411.02,286.8 411.27,282.0 411.52,279.8 411.77,290.4 412.02,290.5 412.27,286.2 412.52,293.2 412.77,275.4 413.02,289.2 413.27,291.3 413.52,278.0 413.77,304.1 414.02,290.0 414.27,290.6 414.52,299.6 414.77,292.6 415.02,297.4 415.27,298.4 415.52,303.9 415.77,287.0 416.02,288.2 416.27,297.1 416.52,307.4 416.77,292.8 417.02,305.8 417.27,294.1 417.52,301.4 417.77,310.2 418.02,299.6 418.27,289.1 418.52,312.6 418.77,297.8 419.02,315.5 419.27,313.5 419.52,315.9 419.77,306.6 420.02,316.4 420.27,304.8 420.52,314.3 420.77,305.9 421.02,311.5 421.27,308.1 421.52,306.2 421.77,295.7 422.02,311.9 422.27,311.3 422.52,311.2 422.77,315.5 423.02,307.5 423.27,301.3 423.52,303.9 423.77,309.1 424.02,303.8 424.27,312.1 424.52,313.0 424.77,305.0 425.02,316.5 425.27,309.7 425.52,304.2 425.77,318.2 426.02,313.3 426.27,318.0 426.52,320.2 426.77,308.7 427.02,317.4 427.27,327.6 427.52,324.3 427.77,316.2 428.02,320.4 428.27,314.8 428.52,322.2 428.77,314.7 429.02,319.4 429.27,310.7 429.52,324.4 429.77,317.6 430.02,320.4 430.27,327.6 430.52,321.8 430.77,316.0 431.02,320.7 431.27,324.0 431.52,316.3 431.77,328.1 432.02,325.7 432.27,325.7 432.52,318.0 432.77,317.3 433.02,328.9 433.27,322.9 433.52,321.4 433.77,323.4 434.02,324.6 434.27,329.6 434.52,323.2 434.77,326.4 435.02,318.5 435.27,332.6 435.52,326.2 435.77,324.6 436.02,321.2 436.27,323.4 436.52,327.9 436.77,317.4 437.02,334.7 437.27,325.1 437.52,333.5 437.77,310.1 438.02,318.1 438.27,320.5 438.52,326.3 438.77,328.4 439.02,328.2 439.27,336.0 439.52,324.9 439.77,320.1 440.02,324.4 440.27,322.0 440.52,327.3 440.77,337.1 441.02,324.9 441.27,326.7 441.52,329.1 441.77,323.6 442.02,332.7 442.27,323.2 442.52,330.1 442.77,319.3 443.02,329.3 443.27,327.9 443.52,333.2 443.77,323.9 444.02,327.5 444.27,326.5 444.52,334.4 444.77,327.4 445.02,329.0 445.27,328.2 445.52,326.2 445.77,334.6 446.02,329.6 446.27,327.7 446.52,334.7 446.77,327.9 447.02,330.5 447.27,320.0 447.52,326.9 447.77,335.6 448.02,332.3 448.27,330.4 448.52,326.4 448.77,331.2 449.02,339.2 449.27,332.0 449.52,321.9 449.77,329.0 450.02,335.5 450.27,330.1 450.52,323.5 450.77,319.0 451.02,332.2 451.27,331.5 451.52,330.4 451.77,337.4 452.02,331.3 452.27,336.5 452.52,331.1 452.77,334.9 453.02,330.0 453.27,335.3 453.52,338.1 453.77,325.9 454.02,340.0 454.27,329.7 454.52,326.6 454.77,326.9 455.02,336.3 455.27,332.0 455.52,334.5 455.77,330.2 456.02,332.6 456.27,334.5 456.52,333.3 456.77,339.6 457.02,336.5 457.27,331.9 457.52,329.1 457.77,338.9 458.02,326.6 458.27,330.5 458.52,334.6 458.77,328.3 459.02,333.3 459.27,342.7 459.52,338.2 459.77,332.7 460.02,326.2 460.27,335.9 460.52,340.5 460.77,332.1 461.02,330.8 461.27,335.0 461.52,335.4 461.77,324.4 462.02,333.0 462.27,329.8 462.52,327.9 462.77,331.4 463.02,335.9 463.27,325.8 463.52,331.6 463.77,332.2 464.02,328.7 464.27,338.4 464.52,334.8 464.77,326.9 465.02,336.6 465.27,333.6 465.52,339.0 465.77,333.9 466.02,338.8 466.27,341.3 466.52,330.2 466.77,334.8 467.02,334.4 467.27,333.2 467.52,336.0 467.77,338.1 468.02,335.8 468.27,336.8 468.52,334.7 468.77,336.7 469.02,336.8 469.27,336.7 469.52,338.3 469.77,339.7 470.02,341.8 470.27,337.3 470.52,333.7 470.77,332.0 471.02,335.8 471.27,336.5 471.52,344.6 471.77,335.5 472.02,329.3 472.27,333.8 472.52,332.1 472.77,334.8 473.02,333.2 473.27,336.6 473.52,341.4 473.77,340.4 474.02,337.0 474.27,342.8 474.52,338.2 474.77,338.7 475.02,322.4 475.27,332.5 475.52,334.7 475.77,334.5 476.02,333.8 476.27,334.0 476.52,333.1 476.77,339.5 477.02,332.1 477.27,333.5 477.52,338.5 477.77,344.5 478.02,341.3 478.27,332.9 478.52,338.8 478.77,338.1 479.02,342.7 479.27,330.4 479.52,330.3 479.77,333.8 480.02,328.2 480.27,337.6 480.52,340.5 480.77,338.7 481.02,333.4 481.27,341.6 481.52,339.1 481.77,337.1 482.02,336.5 482.27,335.8 482.52,341.0 482.77,342.1 483.02,334.4 483.27,337.4 483.52,333.6 483.77,338.0 484.02,334.6 484.27,350.4 484.52,334.3 484.77,340.0 485.02,337.4 485.27,335.4 485.52,334.0 485.77,345.9 486.02,333.7 486.27,338.6 486.52,332.5 486.77,335.4 487.02,329.5 487.27,340.8 487.52,340.3 487.77,338.1 488.02,342.1 488.27,343.6 488.52,333.5 488.77,343.3 489.02,336.5 489.27,336.7 489.52,338.8 489.77,340.0 490.02,335.8 490.27,334.8 490.52,337.3 490.77,336.4 491.02,339.1 491.27,335.9" fill="none" stroke="#000" stroke-width="1.45" stroke-linejoin="round" />
<polyline points="283.77,337.9 284.02,337.9 284.27,337.9 284.52,337.9 284.77,337.8 285.02,337.8 285.27,337.8 285.52,337.8 285.77,337.7 286.02,337.7 286.27,337.7 286.52,337.6 286.77,337.6 287.02,337.6 287.27,337.6 287.52,337.5 287.77,337.5 288.02,337.5 288.27,337.4 288.52,337.4 288.77,337.4 289.02,337.3 289.27,337.3 289.52,337.3 289.77,337.3 290.02,337.2 290.27,337.2 290.52,337.2 290.77,337.1 291.02,337.1 291.27,337.1 291.52,337.0 291.77,337.0 292.02,337.0 292.27,336.9 292.52,336.9 292.77,336.9 293.02,336.8 293.27,336.8 293.52,336.8 293.77,336.7 294.02,336.7 294.27,336.7 294.52,336.6 294.77,336.6 295.02,336.5 295.27,336.5 295.52,336.5 295.77,336.4 296.02,336.4 296.27,336.4 296.52,336.3 296.77,336.3 297.02,336.2 297.27,336.2 297.52,336.2 297.77,336.1 298.02,336.1 298.27,336.0 298.52,336.0 298.77,336.0 299.02,335.9 299.27,335.9 299.52,335.8 299.77,335.8 300.02,335.7 300.27,335.7 300.52,335.7 300.77,335.6 301.02,335.6 301.27,335.5 301.52,335.5 301.77,335.4 302.02,335.4 302.27,335.3 302.52,335.3 302.77,335.2 303.02,335.2 303.27,335.1 303.52,335.1 303.77,335.0 304.02,335.0 304.27,334.9 304.52,334.9 304.77,334.8 305.02,334.8 305.27,334.7 305.52,334.7 305.77,334.6 306.02,334.6 306.27,334.5 306.52,334.5 306.77,334.4 307.02,334.4 307.27,334.3 307.52,334.2 307.77,334.2 308.02,334.1 308.27,334.1 308.52,334.0 308.77,334.0 309.02,333.9 309.27,333.8 309.52,333.8 309.77,333.7 310.02,333.6 310.27,333.6 310.52,333.5 310.77,333.5 311.02,333.4 311.27,333.3 311.52,333.3 311.77,333.2 312.02,333.1 312.27,333.1 312.52,333.0 312.77,332.9 313.02,332.8 313.27,332.8 313.52,332.7 313.77,332.6 314.02,332.6 314.27,332.5 314.52,332.4 314.77,332.3 315.02,332.3 315.27,332.2 315.52,332.1 315.77,332.0 316.02,331.9 316.27,331.9 316.52,331.8 316.77,331.7 317.02,331.6 317.27,331.5 317.52,331.5 317.77,331.4 318.02,331.3 318.27,331.2 318.52,331.1 318.77,331.0 319.02,330.9 319.27,330.8 319.52,330.8 319.77,330.7 320.02,330.6 320.27,330.5 320.52,330.4 320.77,330.3 321.02,330.2 321.27,330.1 321.52,330.0 321.77,329.9 322.02,329.8 322.27,329.7 322.52,329.6 322.77,329.5 323.02,329.4 323.27,329.3 323.52,329.1 323.77,329.0 324.02,328.9 324.27,328.8 324.52,328.7 324.77,328.6 325.02,328.5 325.27,328.4 325.52,328.2 325.77,328.1 326.02,328.0 326.27,327.9 326.52,327.8 326.77,327.6 327.02,327.5 327.27,327.4 327.52,327.2 327.77,327.1 328.02,327.0 328.27,326.8 328.52,326.7 328.77,326.6 329.02,326.4 329.27,326.3 329.52,326.2 329.77,326.0 330.02,325.9 330.27,325.7 330.52,325.6 330.77,325.4 331.02,325.3 331.27,325.1 331.52,325.0 331.77,324.8 332.02,324.6 332.27,324.5 332.52,324.3 332.77,324.2 333.02,324.0 333.27,323.8 333.52,323.7 333.77,323.5 334.02,323.3 334.27,323.1 334.52,323.0 334.77,322.8 335.02,322.6 335.27,322.4 335.52,322.2 335.77,322.0 336.02,321.8 336.27,321.6 336.52,321.4 336.77,321.2 337.02,321.0 337.27,320.8 337.52,320.6 337.77,320.4 338.02,320.2 338.27,320.0 338.52,319.8 338.77,319.6 339.02,319.4 339.27,319.1 339.52,318.9 339.77,318.7 340.02,318.4 340.27,318.2 340.52,318.0 340.77,317.7 341.02,317.5 341.27,317.3 341.52,317.0 341.77,316.8 342.02,316.5 342.27,316.2 342.52,316.0 342.77,315.7 343.02,315.5 343.27,315.2 343.52,314.9 343.77,314.6 344.02,314.4 344.27,314.1 344.52,313.8 344.77,313.5 345.02,313.2 345.27,312.9 345.52,312.6 345.77,312.3 346.02,312.0 346.27,311.7 346.52,311.4 346.77,311.1 347.02,310.8 347.27,310.5 347.52,310.1 347.77,309.8 348.02,309.5 348.27,309.1 348.52,308.8 348.77,308.5 349.02,308.1 349.27,307.8 349.52,307.4 349.77,307.0 350.02,306.7 350.27,306.3 350.52,306.0 350.77,305.6 351.02,305.2 351.27,304.8 351.52,304.5 351.77,304.1 352.02,303.7 352.27,303.3 352.52,302.9 352.77,302.5 353.02,302.1 353.27,301.7 353.52,301.3 353.77,300.9 354.02,300.5 354.27,300.0 354.52,299.6 354.77,299.2 355.02,298.8 355.27,298.3 355.52,297.9 355.77,297.5 356.02,297.0 356.27,296.6 356.52,296.1 356.77,295.7 357.02,295.2 357.27,294.8 357.52,294.3 357.77,293.9 358.02,293.4 358.27,293.0 358.52,292.5 358.77,292.1 359.02,291.6 359.27,291.1 359.52,290.7 359.77,290.2 360.02,289.7 360.27,289.3 360.52,288.8 360.77,288.4 361.02,287.9 361.27,287.4 361.52,287.0 361.77,286.5 362.02,286.0 362.27,285.6 362.52,285.1 362.77,284.7 363.02,284.2 363.27,283.8 363.52,283.3 363.77,282.9 364.02,282.4 364.27,282.0 364.52,281.6 364.77,281.2 365.02,280.7 365.27,280.3 365.52,279.9 365.77,279.5 366.02,279.1 366.27,278.7 366.52,278.3 366.77,277.9 367.02,277.6 367.27,277.2 367.52,276.8 367.77,276.5 368.02,276.2 368.27,275.8 368.52,275.5 368.77,275.2 369.02,274.9 369.27,274.6 369.52,274.3 369.77,274.1 370.02,273.8 370.27,273.5 370.52,273.3 370.77,273.1 371.02,272.9 371.27,272.7 371.52,272.5 371.77,272.3 372.02,272.2 372.27,272.0 372.52,271.9 372.77,271.8 373.02,271.7 373.27,271.6 373.52,271.5 373.77,271.4 374.02,271.4 374.27,271.3 374.52,271.3 374.77,271.3 375.02,271.3 375.27,271.3 375.52,271.4 375.77,271.4 376.02,271.5 376.27,271.6 376.52,271.6 376.77,271.7 377.02,271.9 377.27,272.0 377.52,272.1 377.77,272.3 378.02,272.5 378.27,272.7 378.52,272.9 378.77,273.1 379.02,273.3 379.27,273.5 379.52,273.8 379.77,274.0 380.02,274.3 380.27,274.6 380.52,274.9 380.77,275.2 381.02,275.5 381.27,275.8 381.52,276.1 381.77,276.5 382.02,276.8 382.27,277.2 382.52,277.5 382.77,277.9 383.02,278.3 383.27,278.7 383.52,279.1 383.77,279.5 384.02,279.9 384.27,280.3 384.52,280.7 384.77,281.1 385.02,281.5 385.27,282.0 385.52,282.4 385.77,282.8 386.02,283.3 386.27,283.7 386.52,284.2 386.77,284.6 387.02,285.1 387.27,285.5 387.52,286.0 387.77,286.5 388.02,286.9 388.27,287.4 388.52,287.8 388.77,288.3 389.02,288.8 389.27,289.2 389.52,289.7 389.77,290.2 390.02,290.6 390.27,291.1 390.52,291.5 390.77,292.0 391.02,292.5 391.27,292.9 391.52,293.4 391.77,293.8 392.02,294.3 392.27,294.7 392.52,295.2 392.77,295.6 393.02,296.1 393.27,296.5 393.52,297.0 393.77,297.4 394.02,297.9 394.27,298.3 394.52,298.7 394.77,299.1 395.02,299.6 395.27,300.0 395.52,300.4 395.77,300.8 396.02,301.2 396.27,301.6 396.52,302.0 396.77,302.5 397.02,302.9 397.27,303.2 397.52,303.6 397.77,304.0 398.02,304.4 398.27,304.8 398.52,305.2 398.77,305.5 399.02,305.9 399.27,306.3 399.52,306.6 399.77,307.0 400.02,307.4 400.27,307.7 400.52,308.1 400.77,308.4 401.02,308.8 401.27,309.1 401.52,309.4 401.77,309.8 402.02,310.1 402.27,310.4 402.52,310.7 402.77,311.1 403.02,311.4 403.27,311.7 403.52,312.0 403.77,312.3 404.02,312.6 404.27,312.9 404.52,313.2 404.77,313.5 405.02,313.8 405.27,314.1 405.52,314.3 405.77,314.6 406.02,314.9 406.27,315.2 406.52,315.4 406.77,315.7 407.02,316.0 407.27,316.2 407.52,316.5 407.77,316.7 408.02,317.0 408.27,317.2 408.52,317.5 408.77,317.7 409.02,318.0 409.27,318.2 409.52,318.4 409.77,318.7 410.02,318.9 410.27,319.1 410.52,319.3 410.77,319.6 411.02,319.8 411.27,320.0 411.52,320.2 411.77,320.4 412.02,320.6 412.27,320.8 412.52,321.0 412.77,321.2 413.02,321.4 413.27,321.6 413.52,321.8 413.77,322.0 414.02,322.2 414.27,322.4 414.52,322.6 414.77,322.8 415.02,322.9 415.27,323.1 415.52,323.3 415.77,323.5 416.02,323.6 416.27,323.8 416.52,324.0 416.77,324.1 417.02,324.3 417.27,324.5 417.52,324.6 417.77,324.8 418.02,324.9 418.27,325.1 418.52,325.3 418.77,325.4 419.02,325.6 419.27,325.7 419.52,325.8 419.77,326.0 420.02,326.1 420.27,326.3 420.52,326.4 420.77,326.6 421.02,326.7 421.27,326.8 421.52,327.0 421.77,327.1 422.02,327.2 422.27,327.4 422.52,327.5 422.77,327.6 423.02,327.7 423.27,327.9 423.52,328.0 423.77,328.1 424.02,328.2 424.27,328.3 424.52,328.5 424.77,328.6 425.02,328.7 425.27,328.8 425.52,328.9 425.77,329.0 426.02,329.1 426.27,329.2 426.52,329.4 426.77,329.5 427.02,329.6 427.27,329.7 427.52,329.8 427.77,329.9 428.02,330.0 428.27,330.1 428.52,330.2 428.77,330.3 429.02,330.4 429.27,330.5 429.52,330.6 429.77,330.6 430.02,330.7 430.27,330.8 430.52,330.9 430.77,331.0 431.02,331.1 431.27,331.2 431.52,331.3 431.77,331.4 432.02,331.4 432.27,331.5 432.52,331.6 432.77,331.7 433.02,331.8 433.27,331.9 433.52,331.9 433.77,332.0 434.02,332.1 434.27,332.2 434.52,332.3 434.77,332.3 435.02,332.4 435.27,332.5 435.52,332.6 435.77,332.6 436.02,332.7 436.27,332.8 436.52,332.8 436.77,332.9 437.02,333.0 437.27,333.0 437.52,333.1 437.77,333.2 438.02,333.3 438.27,333.3 438.52,333.4 438.77,333.4 439.02,333.5 439.27,333.6 439.52,333.6 439.77,333.7 440.02,333.8 440.27,333.8 440.52,333.9 440.77,333.9 441.02,334.0 441.27,334.1 441.52,334.1 441.77,334.2 442.02,334.2 442.27,334.3 442.52,334.4 442.77,334.4 443.02,334.5 443.27,334.5 443.52,334.6 443.77,334.6 444.02,334.7 444.27,334.7 444.52,334.8 444.77,334.8 445.02,334.9 445.27,334.9 445.52,335.0 445.77,335.0 446.02,335.1 446.27,335.1 446.52,335.2 446.77,335.2 447.02,335.3 447.27,335.3 447.52,335.4 447.77,335.4 448.02,335.5 448.27,335.5 448.52,335.6 448.77,335.6 449.02,335.7 449.27,335.7 449.52,335.7 449.77,335.8 450.02,335.8 450.27,335.9 450.52,335.9 450.77,336.0 451.02,336.0 451.27,336.0 451.52,336.1 451.77,336.1 452.02,336.2 452.27,336.2 452.52,336.2 452.77,336.3 453.02,336.3 453.27,336.4 453.52,336.4 453.77,336.4 454.02,336.5 454.27,336.5 454.52,336.5 454.77,336.6 455.02,336.6 455.27,336.7 455.52,336.7 455.77,336.7 456.02,336.8 456.27,336.8 456.52,336.8 456.77,336.9 457.02,336.9 457.27,336.9 457.52,337.0 457.77,337.0 458.02,337.0 458.27,337.1 458.52,337.1 458.77,337.1 459.02,337.2 459.27,337.2 459.52,337.2 459.77,337.3 460.02,337.3 460.27,337.3 460.52,337.3 460.77,337.4 461.02,337.4 461.27,337.4 461.52,337.5 461.77,337.5 462.02,337.5 462.27,337.6 462.52,337.6 462.77,337.6 463.02,337.6 463.27,337.7 463.52,337.7 463.77,337.7 464.02,337.7 464.27,337.8 464.52,337.8 464.77,337.8 465.02,337.9 465.27,337.9 465.52,337.9 465.77,337.9 466.02,338.0 466.27,338.0 466.52,338.0 466.77,338.0 467.02,338.1 467.27,338.1 467.52,338.1 467.77,338.1 468.02,338.2 468.27,338.2 468.52,338.2 468.77,338.2 469.02,338.3 469.27,338.3 469.52,338.3 469.77,338.3 470.02,338.3 470.27,338.4 470.52,338.4 470.77,338.4 471.02,338.4 471.27,338.5 471.52,338.5 471.77,338.5 472.02,338.5 472.27,338.5 472.52,338.6 472.77,338.6 473.02,338.6 473.27,338.6 473.52,338.7 473.77,338.7 474.02,338.7 474.27,338.7 474.52,338.7 474.77,338.8 475.02,338.8 475.27,338.8 475.52,338.8 475.77,338.8 476.02,338.9 476.27,338.9 476.52,338.9 476.77,338.9 477.02,338.9 477.27,338.9 477.52,339.0 477.77,339.0 478.02,339.0 478.27,339.0 478.52,339.0 478.77,339.1 479.02,339.1 479.27,339.1 479.52,339.1 479.77,339.1 480.02,339.1 480.27,339.2 480.52,339.2 480.77,339.2 481.02,339.2 481.27,339.2 481.52,339.2 481.77,339.3 482.02,339.3 482.27,339.3 482.52,339.3 482.77,339.3 483.02,339.3 483.27,339.4 483.52,339.4 483.77,339.4 484.02,339.4 484.27,339.4 484.52,339.4 484.77,339.5 485.02,339.5 485.27,339.5 485.52,339.5 485.77,339.5 486.02,339.5 486.27,339.5 486.52,339.6 486.77,339.6 487.02,339.6 487.27,339.6 487.52,339.6 487.77,339.6 488.02,339.6 488.27,339.7 488.52,339.7 488.77,339.7 489.02,339.7 489.27,339.7 489.52,339.7 489.77,339.7 490.02,339.8 490.27,339.8 490.52,339.8 490.77,339.8 491.02,339.8 491.27,339.8" fill="none" stroke="#62dc2a" stroke-width="1.5" stroke-linejoin="round" />
<polyline points="283.77,342.0 284.02,342.0 284.27,342.0 284.52,342.0 284.77,341.9 285.02,341.9 285.27,341.9 285.52,341.9 285.77,341.9 286.02,341.9 286.27,341.9 286.52,341.9 286.77,341.9 287.02,341.9 287.27,341.9 287.52,341.9 287.77,341.9 288.02,341.9 288.27,341.9 288.52,341.9 288.77,341.9 289.02,341.9 289.27,341.9 289.52,341.9 289.77,341.9 290.02,341.8 290.27,341.8 290.52,341.8 290.77,341.8 291.02,341.8 291.27,341.8 291.52,341.8 291.77,341.8 292.02,341.8 292.27,341.8 292.52,341.8 292.77,341.8 293.02,341.8 293.27,341.8 293.52,341.8 293.77,341.8 294.02,341.8 294.27,341.8 294.52,341.7 294.77,341.7 295.02,341.7 295.27,341.7 295.52,341.7 295.77,341.7 296.02,341.7 296.27,341.7 296.52,341.7 296.77,341.7 297.02,341.7 297.27,341.7 297.52,341.7 297.77,341.7 298.02,341.7 298.27,341.7 298.52,341.6 298.77,341.6 299.02,341.6 299.27,341.6 299.52,341.6 299.77,341.6 300.02,341.6 300.27,341.6 300.52,341.6 300.77,341.6 301.02,341.6 301.27,341.6 301.52,341.6 301.77,341.6 302.02,341.5 302.27,341.5 302.52,341.5 302.77,341.5 303.02,341.5 303.27,341.5 303.52,341.5 303.77,341.5 304.02,341.5 304.27,341.5 304.52,341.5 304.77,341.5 305.02,341.5 305.27,341.5 305.52,341.4 305.77,341.4 306.02,341.4 306.27,341.4 306.52,341.4 306.77,341.4 307.02,341.4 307.27,341.4 307.52,341.4 307.77,341.4 308.02,341.4 308.27,341.3 308.52,341.3 308.77,341.3 309.02,341.3 309.27,341.3 309.52,341.3 309.77,341.3 310.02,341.3 310.27,341.3 310.52,341.3 310.77,341.3 311.02,341.2 311.27,341.2 311.52,341.2 311.77,341.2 312.02,341.2 312.27,341.2 312.52,341.2 312.77,341.2 313.02,341.2 313.27,341.2 313.52,341.1 313.77,341.1 314.02,341.1 314.27,341.1 314.52,341.1 314.77,341.1 315.02,341.1 315.27,341.1 315.52,341.1 315.77,341.0 316.02,341.0 316.27,341.0 316.52,341.0 316.77,341.0 317.02,341.0 317.27,341.0 317.52,341.0 317.77,341.0 318.02,340.9 318.27,340.9 318.52,340.9 318.77,340.9 319.02,340.9 319.27,340.9 319.52,340.9 319.77,340.9 320.02,340.8 320.27,340.8 320.52,340.8 320.77,340.8 321.02,340.8 321.27,340.8 321.52,340.8 321.77,340.7 322.02,340.7 322.27,340.7 322.52,340.7 322.77,340.7 323.02,340.7 323.27,340.7 323.52,340.6 323.77,340.6 324.02,340.6 324.27,340.6 324.52,340.6 324.77,340.6 325.02,340.5 325.27,340.5 325.52,340.5 325.77,340.5 326.02,340.5 326.27,340.5 326.52,340.5 326.77,340.4 327.02,340.4 327.27,340.4 327.52,340.4 327.77,340.4 328.02,340.3 328.27,340.3 328.52,340.3 328.77,340.3 329.02,340.3 329.27,340.3 329.52,340.2 329.77,340.2 330.02,340.2 330.27,340.2 330.52,340.2 330.77,340.1 331.02,340.1 331.27,340.1 331.52,340.1 331.77,340.1 332.02,340.0 332.27,340.0 332.52,340.0 332.77,340.0 333.02,339.9 333.27,339.9 333.52,339.9 333.77,339.9 334.02,339.9 334.27,339.8 334.52,339.8 334.77,339.8 335.02,339.8 335.27,339.7 335.52,339.7 335.77,339.7 336.02,339.7 336.27,339.6 336.52,339.6 336.77,339.6 337.02,339.6 337.27,339.5 337.52,339.5 337.77,339.5 338.02,339.5 338.27,339.4 338.52,339.4 338.77,339.4 339.02,339.3 339.27,339.3 339.52,339.3 339.77,339.3 340.02,339.2 340.27,339.2 340.52,339.2 340.77,339.1 341.02,339.1 341.27,339.1 341.52,339.0 341.77,339.0 342.02,339.0 342.27,338.9 342.52,338.9 342.77,338.9 343.02,338.8 343.27,338.8 343.52,338.8 343.77,338.7 344.02,338.7 344.27,338.7 344.52,338.6 344.77,338.6 345.02,338.6 345.27,338.5 345.52,338.5 345.77,338.4 346.02,338.4 346.27,338.4 346.52,338.3 346.77,338.3 347.02,338.2 347.27,338.2 347.52,338.1 347.77,338.1 348.02,338.1 348.27,338.0 348.52,338.0 348.77,337.9 349.02,337.9 349.27,337.8 349.52,337.8 349.77,337.7 350.02,337.7 350.27,337.6 350.52,337.6 350.77,337.5 351.02,337.5 351.27,337.4 351.52,337.4 351.77,337.3 352.02,337.3 352.27,337.2 352.52,337.1 352.77,337.1 353.02,337.0 353.27,337.0 353.52,336.9 353.77,336.9 354.02,336.8 354.27,336.7 354.52,336.7 354.77,336.6 355.02,336.5 355.27,336.5 355.52,336.4 355.77,336.3 356.02,336.3 356.27,336.2 356.52,336.1 356.77,336.1 357.02,336.0 357.27,335.9 357.52,335.8 357.77,335.8 358.02,335.7 358.27,335.6 358.52,335.5 358.77,335.4 359.02,335.4 359.27,335.3 359.52,335.2 359.77,335.1 360.02,335.0 360.27,334.9 360.52,334.8 360.77,334.7 361.02,334.6 361.27,334.5 361.52,334.4 361.77,334.4 362.02,334.3 362.27,334.1 362.52,334.0 362.77,333.9 363.02,333.8 363.27,333.7 363.52,333.6 363.77,333.5 364.02,333.4 364.27,333.3 364.52,333.2 364.77,333.0 365.02,332.9 365.27,332.8 365.52,332.7 365.77,332.5 366.02,332.4 366.27,332.3 366.52,332.1 366.77,332.0 367.02,331.9 367.27,331.7 367.52,331.6 367.77,331.4 368.02,331.3 368.27,331.1 368.52,331.0 368.77,330.8 369.02,330.6 369.27,330.5 369.52,330.3 369.77,330.1 370.02,330.0 370.27,329.8 370.52,329.6 370.77,329.4 371.02,329.2 371.27,329.0 371.52,328.8 371.77,328.6 372.02,328.4 372.27,328.2 372.52,328.0 372.77,327.8 373.02,327.6 373.27,327.4 373.52,327.2 373.77,326.9 374.02,326.7 374.27,326.5 374.52,326.2 374.77,326.0 375.02,325.7 375.27,325.4 375.52,325.2 375.77,324.9 376.02,324.6 376.27,324.4 376.52,324.1 376.77,323.8 377.02,323.5 377.27,323.2 377.52,322.9 377.77,322.6 378.02,322.3 378.27,322.0 378.52,321.6 378.77,321.3 379.02,320.9 379.27,320.6 379.52,320.2 379.77,319.9 380.02,319.5 380.27,319.1 380.52,318.8 380.77,318.4 381.02,318.0 381.27,317.6 381.52,317.2 381.77,316.7 382.02,316.3 382.27,315.9 382.52,315.5 382.77,315.0 383.02,314.6 383.27,314.1 383.52,313.6 383.77,313.1 384.02,312.7 384.27,312.2 384.52,311.7 384.77,311.2 385.02,310.7 385.27,310.1 385.52,309.6 385.77,309.1 386.02,308.5 386.27,308.0 386.52,307.4 386.77,306.9 387.02,306.3 387.27,305.8 387.52,305.2 387.77,304.6 388.02,304.0 388.27,303.4 388.52,302.8 388.77,302.2 389.02,301.6 389.27,301.1 389.52,300.5 389.77,299.9 390.02,299.3 390.27,298.7 390.52,298.1 390.77,297.5 391.02,296.9 391.27,296.3 391.52,295.7 391.77,295.1 392.02,294.5 392.27,294.0 392.52,293.4 392.77,292.9 393.02,292.4 393.27,291.8 393.52,291.3 393.77,290.8 394.02,290.4 394.27,289.9 394.52,289.4 394.77,289.0 395.02,288.6 395.27,288.2 395.52,287.9 395.77,287.5 396.02,287.2 396.27,286.9 396.52,286.6 396.77,286.4 397.02,286.2 397.27,286.0 397.52,285.9 397.77,285.7 398.02,285.6 398.27,285.6 398.52,285.5 398.77,285.5 399.02,285.5 399.27,285.6 399.52,285.6 399.77,285.7 400.02,285.9 400.27,286.0 400.52,286.2 400.77,286.5 401.02,286.7 401.27,287.0 401.52,287.3 401.77,287.6 402.02,287.9 402.27,288.3 402.52,288.7 402.77,289.1 403.02,289.5 403.27,290.0 403.52,290.5 403.77,290.9 404.02,291.4 404.27,291.9 404.52,292.5 404.77,293.0 405.02,293.6 405.27,294.1 405.52,294.7 405.77,295.2 406.02,295.8 406.27,296.4 406.52,297.0 406.77,297.6 407.02,298.2 407.27,298.8 407.52,299.4 407.77,300.0 408.02,300.6 408.27,301.2 408.52,301.8 408.77,302.4 409.02,303.0 409.27,303.6 409.52,304.1 409.77,304.7 410.02,305.3 410.27,305.9 410.52,306.4 410.77,307.0 411.02,307.6 411.27,308.1 411.52,308.7 411.77,309.2 412.02,309.7 412.27,310.3 412.52,310.8 412.77,311.3 413.02,311.8 413.27,312.3 413.52,312.8 413.77,313.3 414.02,313.7 414.27,314.2 414.52,314.7 414.77,315.1 415.02,315.6 415.27,316.0 415.52,316.4 415.77,316.8 416.02,317.3 416.27,317.7 416.52,318.1 416.77,318.5 417.02,318.8 417.27,319.2 417.52,319.6 417.77,320.0 418.02,320.3 418.27,320.7 418.52,321.0 418.77,321.4 419.02,321.7 419.27,322.0 419.52,322.3 419.77,322.7 420.02,323.0 420.27,323.3 420.52,323.6 420.77,323.9 421.02,324.2 421.27,324.4 421.52,324.7 421.77,325.0 422.02,325.2 422.27,325.5 422.52,325.8 422.77,326.0 423.02,326.3 423.27,326.5 423.52,326.7 423.77,327.0 424.02,327.2 424.27,327.4 424.52,327.6 424.77,327.9 425.02,328.1 425.27,328.3 425.52,328.5 425.77,328.7 426.02,328.9 426.27,329.1 426.52,329.3 426.77,329.5 427.02,329.6 427.27,329.8 427.52,330.0 427.77,330.2 428.02,330.3 428.27,330.5 428.52,330.7 428.77,330.8 429.02,331.0 429.27,331.1 429.52,331.3 429.77,331.4 430.02,331.6 430.27,331.7 430.52,331.9 430.77,332.0 431.02,332.2 431.27,332.3 431.52,332.4 431.77,332.6 432.02,332.7 432.27,332.8 432.52,332.9 432.77,333.1 433.02,333.2 433.27,333.3 433.52,333.4 433.77,333.5 434.02,333.6 434.27,333.7 434.52,333.9 434.77,334.0 435.02,334.1 435.27,334.2 435.52,334.3 435.77,334.4 436.02,334.5 436.27,334.6 436.52,334.7 436.77,334.8 437.02,334.8 437.27,334.9 437.52,335.0 437.77,335.1 438.02,335.2 438.27,335.3 438.52,335.4 438.77,335.5 439.02,335.5 439.27,335.6 439.52,335.7 439.77,335.8 440.02,335.8 440.27,335.9 440.52,336.0 440.77,336.1 441.02,336.1 441.27,336.2 441.52,336.3 441.77,336.4 442.02,336.4 442.27,336.5 442.52,336.6 442.77,336.6 443.02,336.7 443.27,336.7 443.52,336.8 443.77,336.9 444.02,336.9 444.27,337.0 444.52,337.0 444.77,337.1 445.02,337.2 445.27,337.2 445.52,337.3 445.77,337.3 446.02,337.4 446.27,337.4 446.52,337.5 446.77,337.5 447.02,337.6 447.27,337.6 447.52,337.7 447.77,337.7 448.02,337.8 448.27,337.8 448.52,337.9 448.77,337.9 449.02,338.0 449.27,338.0 449.52,338.1 449.77,338.1 450.02,338.2 450.27,338.2 450.52,338.2 450.77,338.3 451.02,338.3 451.27,338.4 451.52,338.4 451.77,338.4 452.02,338.5 452.27,338.5 452.52,338.6 452.77,338.6 453.02,338.6 453.27,338.7 453.52,338.7 453.77,338.7 454.02,338.8 454.27,338.8 454.52,338.8 454.77,338.9 455.02,338.9 455.27,339.0 455.52,339.0 455.77,339.0 456.02,339.0 456.27,339.1 456.52,339.1 456.77,339.1 457.02,339.2 457.27,339.2 457.52,339.2 457.77,339.3 458.02,339.3 458.27,339.3 458.52,339.4 458.77,339.4 459.02,339.4 459.27,339.4 459.52,339.5 459.77,339.5 460.02,339.5 460.27,339.5 460.52,339.6 460.77,339.6 461.02,339.6 461.27,339.6 461.52,339.7 461.77,339.7 462.02,339.7 462.27,339.7 462.52,339.8 462.77,339.8 463.02,339.8 463.27,339.8 463.52,339.9 463.77,339.9 464.02,339.9 464.27,339.9 464.52,340.0 464.77,340.0 465.02,340.0 465.27,340.0 465.52,340.0 465.77,340.1 466.02,340.1 466.27,340.1 466.52,340.1 466.77,340.1 467.02,340.2 467.27,340.2 467.52,340.2 467.77,340.2 468.02,340.2 468.27,340.3 468.52,340.3 468.77,340.3 469.02,340.3 469.27,340.3 469.52,340.3 469.77,340.4 470.02,340.4 470.27,340.4 470.52,340.4 470.77,340.4 471.02,340.5 471.27,340.5 471.52,340.5 471.77,340.5 472.02,340.5 472.27,340.5 472.52,340.6 472.77,340.6 473.02,340.6 473.27,340.6 473.52,340.6 473.77,340.6 474.02,340.6 474.27,340.7 474.52,340.7 474.77,340.7 475.02,340.7 475.27,340.7 475.52,340.7 475.77,340.7 476.02,340.8 476.27,340.8 476.52,340.8 476.77,340.8 477.02,340.8 477.27,340.8 477.52,340.8 477.77,340.9 478.02,340.9 478.27,340.9 478.52,340.9 478.77,340.9 479.02,340.9 479.27,340.9 479.52,340.9 479.77,341.0 480.02,341.0 480.27,341.0 480.52,341.0 480.77,341.0 481.02,341.0 481.27,341.0 481.52,341.0 481.77,341.0 482.02,341.1 482.27,341.1 482.52,341.1 482.77,341.1 483.02,341.1 483.27,341.1 483.52,341.1 483.77,341.1 484.02,341.1 484.27,341.2 484.52,341.2 484.77,341.2 485.02,341.2 485.27,341.2 485.52,341.2 485.77,341.2 486.02,341.2 486.27,341.2 486.52,341.2 486.77,341.3 487.02,341.3 487.27,341.3 487.52,341.3 487.77,341.3 488.02,341.3 488.27,341.3 488.52,341.3 488.77,341.3 489.02,341.3 489.27,341.4 489.52,341.4 489.77,341.4 490.02,341.4 490.27,341.4 490.52,341.4 490.77,341.4 491.02,341.4 491.27,341.4" fill="none" stroke="#62dc2a" stroke-width="1.5" stroke-linejoin="round" />
<polyline points="283.77,336.9 284.02,336.9 284.27,336.8 284.52,336.8 284.77,336.8 285.02,336.7 285.27,336.7 285.52,336.7 285.77,336.7 286.02,336.6 286.27,336.6 286.52,336.6 286.77,336.5 287.02,336.5 287.27,336.5 287.52,336.4 287.77,336.4 288.02,336.4 288.27,336.3 288.52,336.3 288.77,336.3 289.02,336.2 289.27,336.2 289.52,336.1 289.77,336.1 290.02,336.1 290.27,336.0 290.52,336.0 290.77,336.0 291.02,335.9 291.27,335.9 291.52,335.8 291.77,335.8 292.02,335.8 292.27,335.7 292.52,335.7 292.77,335.7 293.02,335.6 293.27,335.6 293.52,335.5 293.77,335.5 294.02,335.4 294.27,335.4 294.52,335.4 294.77,335.3 295.02,335.3 295.27,335.2 295.52,335.2 295.77,335.2 296.02,335.1 296.27,335.1 296.52,335.0 296.77,335.0 297.02,334.9 297.27,334.9 297.52,334.8 297.77,334.8 298.02,334.7 298.27,334.7 298.52,334.6 298.77,334.6 299.02,334.6 299.27,334.5 299.52,334.5 299.77,334.4 300.02,334.4 300.27,334.3 300.52,334.2 300.77,334.2 301.02,334.1 301.27,334.1 301.52,334.0 301.77,334.0 302.02,333.9 302.27,333.9 302.52,333.8 302.77,333.8 303.02,333.7 303.27,333.7 303.52,333.6 303.77,333.5 304.02,333.5 304.27,333.4 304.52,333.4 304.77,333.3 305.02,333.2 305.27,333.2 305.52,333.1 305.77,333.1 306.02,333.0 306.27,332.9 306.52,332.9 306.77,332.8 307.02,332.8 307.27,332.7 307.52,332.6 307.77,332.6 308.02,332.5 308.27,332.4 308.52,332.4 308.77,332.3 309.02,332.2 309.27,332.1 309.52,332.1 309.77,332.0 310.02,331.9 310.27,331.9 310.52,331.8 310.77,331.7 311.02,331.6 311.27,331.6 311.52,331.5 311.77,331.4 312.02,331.3 312.27,331.3 312.52,331.2 312.77,331.1 313.02,331.0 313.27,330.9 313.52,330.9 313.77,330.8 314.02,330.7 314.27,330.6 314.52,330.5 314.77,330.4 315.02,330.3 315.27,330.3 315.52,330.2 315.77,330.1 316.02,330.0 316.27,329.9 316.52,329.8 316.77,329.7 317.02,329.6 317.27,329.5 317.52,329.4 317.77,329.3 318.02,329.2 318.27,329.1 318.52,329.0 318.77,328.9 319.02,328.8 319.27,328.7 319.52,328.6 319.77,328.5 320.02,328.4 320.27,328.3 320.52,328.2 320.77,328.1 321.02,328.0 321.27,327.9 321.52,327.7 321.77,327.6 322.02,327.5 322.27,327.4 322.52,327.3 322.77,327.2 323.02,327.0 323.27,326.9 323.52,326.8 323.77,326.7 324.02,326.5 324.27,326.4 324.52,326.3 324.77,326.2 325.02,326.0 325.27,325.9 325.52,325.8 325.77,325.6 326.02,325.5 326.27,325.3 326.52,325.2 326.77,325.1 327.02,324.9 327.27,324.8 327.52,324.6 327.77,324.5 328.02,324.3 328.27,324.2 328.52,324.0 328.77,323.9 329.02,323.7 329.27,323.5 329.52,323.4 329.77,323.2 330.02,323.1 330.27,322.9 330.52,322.7 330.77,322.6 331.02,322.4 331.27,322.2 331.52,322.0 331.77,321.9 332.02,321.7 332.27,321.5 332.52,321.3 332.77,321.1 333.02,320.9 333.27,320.7 333.52,320.6 333.77,320.4 334.02,320.2 334.27,320.0 334.52,319.8 334.77,319.6 335.02,319.4 335.27,319.1 335.52,318.9 335.77,318.7 336.02,318.5 336.27,318.3 336.52,318.1 336.77,317.8 337.02,317.6 337.27,317.4 337.52,317.2 337.77,316.9 338.02,316.7 338.27,316.4 338.52,316.2 338.77,316.0 339.02,315.7 339.27,315.5 339.52,315.2 339.77,314.9 340.02,314.7 340.27,314.4 340.52,314.1 340.77,313.9 341.02,313.6 341.27,313.3 341.52,313.0 341.77,312.8 342.02,312.5 342.27,312.2 342.52,311.9 342.77,311.6 343.02,311.3 343.27,311.0 343.52,310.7 343.77,310.4 344.02,310.1 344.27,309.7 344.52,309.4 344.77,309.1 345.02,308.8 345.27,308.4 345.52,308.1 345.77,307.8 346.02,307.4 346.27,307.1 346.52,306.7 346.77,306.4 347.02,306.0 347.27,305.6 347.52,305.3 347.77,304.9 348.02,304.5 348.27,304.1 348.52,303.8 348.77,303.4 349.02,303.0 349.27,302.6 349.52,302.2 349.77,301.8 350.02,301.4 350.27,301.0 350.52,300.5 350.77,300.1 351.02,299.7 351.27,299.3 351.52,298.8 351.77,298.4 352.02,297.9 352.27,297.5 352.52,297.0 352.77,296.6 353.02,296.1 353.27,295.7 353.52,295.2 353.77,294.7 354.02,294.2 354.27,293.8 354.52,293.3 354.77,292.8 355.02,292.3 355.27,291.8 355.52,291.3 355.77,290.8 356.02,290.3 356.27,289.8 356.52,289.3 356.77,288.7 357.02,288.2 357.27,287.7 357.52,287.2 357.77,286.6 358.02,286.1 358.27,285.6 358.52,285.0 358.77,284.5 359.02,283.9 359.27,283.4 359.52,282.9 359.77,282.3 360.02,281.8 360.27,281.2 360.52,280.6 360.77,280.1 361.02,279.5 361.27,279.0 361.52,278.4 361.77,277.9 362.02,277.3 362.27,276.7 362.52,276.2 362.77,275.6 363.02,275.1 363.27,274.5 363.52,273.9 363.77,273.4 364.02,272.8 364.27,272.3 364.52,271.7 364.77,271.2 365.02,270.6 365.27,270.1 365.52,269.6 365.77,269.0 366.02,268.5 366.27,268.0 366.52,267.4 366.77,266.9 367.02,266.4 367.27,265.9 367.52,265.4 367.77,264.9 368.02,264.4 368.27,263.9 368.52,263.5 368.77,263.0 369.02,262.5 369.27,262.1 369.52,261.6 369.77,261.2 370.02,260.8 370.27,260.3 370.52,259.9 370.77,259.5 371.02,259.1 371.27,258.7 371.52,258.3 371.77,258.0 372.02,257.6 372.27,257.3 372.52,256.9 372.77,256.6 373.02,256.3 373.27,255.9 373.52,255.6 373.77,255.3 374.02,255.1 374.27,254.8 374.52,254.5 374.77,254.3 375.02,254.0 375.27,253.8 375.52,253.5 375.77,253.3 376.02,253.1 376.27,252.9 376.52,252.7 376.77,252.5 377.02,252.4 377.27,252.2 377.52,252.0 377.77,251.9 378.02,251.7 378.27,251.6 378.52,251.5 378.77,251.4 379.02,251.2 379.27,251.1 379.52,251.0 379.77,250.9 380.02,250.8 380.27,250.7 380.52,250.6 380.77,250.5 381.02,250.4 381.27,250.4 381.52,250.3 381.77,250.2 382.02,250.1 382.27,250.1 382.52,250.0 382.77,249.9 383.02,249.8 383.27,249.8 383.52,249.7 383.77,249.6 384.02,249.5 384.27,249.4 384.52,249.4 384.77,249.3 385.02,249.2 385.27,249.1 385.52,249.0 385.77,248.9 386.02,248.8 386.27,248.7 386.52,248.6 386.77,248.5 387.02,248.4 387.27,248.3 387.52,248.2 387.77,248.1 388.02,247.9 388.27,247.8 388.52,247.7 388.77,247.5 389.02,247.4 389.27,247.3 389.52,247.1 389.77,247.0 390.02,246.9 390.27,246.7 390.52,246.6 390.77,246.5 391.02,246.3 391.27,246.2 391.52,246.1 391.77,246.0 392.02,245.8 392.27,245.7 392.52,245.6 392.77,245.5 393.02,245.4 393.27,245.4 393.52,245.3 393.77,245.2 394.02,245.2 394.27,245.2 394.52,245.2 394.77,245.2 395.02,245.2 395.27,245.2 395.52,245.3 395.77,245.3 396.02,245.4 396.27,245.6 396.52,245.7 396.77,245.9 397.02,246.0 397.27,246.3 397.52,246.5 397.77,246.8 398.02,247.0 398.27,247.3 398.52,247.7 398.77,248.0 399.02,248.4 399.27,248.9 399.52,249.3 399.77,249.8 400.02,250.3 400.27,250.8 400.52,251.3 400.77,251.9 401.02,252.5 401.27,253.1 401.52,253.7 401.77,254.4 402.02,255.0 402.27,255.7 402.52,256.4 402.77,257.2 403.02,257.9 403.27,258.7 403.52,259.4 403.77,260.2 404.02,261.0 404.27,261.8 404.52,262.7 404.77,263.5 405.02,264.3 405.27,265.2 405.52,266.0 405.77,266.9 406.02,267.7 406.27,268.6 406.52,269.4 406.77,270.3 407.02,271.1 407.27,272.0 407.52,272.9 407.77,273.7 408.02,274.6 408.27,275.4 408.52,276.3 408.77,277.1 409.02,277.9 409.27,278.8 409.52,279.6 409.77,280.4 410.02,281.2 410.27,282.0 410.52,282.8 410.77,283.6 411.02,284.3 411.27,285.1 411.52,285.9 411.77,286.6 412.02,287.4 412.27,288.1 412.52,288.8 412.77,289.5 413.02,290.2 413.27,290.9 413.52,291.6 413.77,292.3 414.02,292.9 414.27,293.6 414.52,294.2 414.77,294.9 415.02,295.5 415.27,296.1 415.52,296.7 415.77,297.3 416.02,297.9 416.27,298.5 416.52,299.0 416.77,299.6 417.02,300.1 417.27,300.7 417.52,301.2 417.77,301.7 418.02,302.3 418.27,302.8 418.52,303.3 418.77,303.8 419.02,304.2 419.27,304.7 419.52,305.2 419.77,305.7 420.02,306.1 420.27,306.6 420.52,307.0 420.77,307.4 421.02,307.8 421.27,308.3 421.52,308.7 421.77,309.1 422.02,309.5 422.27,309.9 422.52,310.2 422.77,310.6 423.02,311.0 423.27,311.4 423.52,311.7 423.77,312.1 424.02,312.4 424.27,312.8 424.52,313.1 424.77,313.4 425.02,313.8 425.27,314.1 425.52,314.4 425.77,314.7 426.02,315.0 426.27,315.3 426.52,315.6 426.77,315.9 427.02,316.2 427.27,316.5 427.52,316.8 427.77,317.0 428.02,317.3 428.27,317.6 428.52,317.8 428.77,318.1 429.02,318.4 429.27,318.6 429.52,318.9 429.77,319.1 430.02,319.3 430.27,319.6 430.52,319.8 430.77,320.0 431.02,320.3 431.27,320.5 431.52,320.7 431.77,320.9 432.02,321.1 432.27,321.3 432.52,321.6 432.77,321.8 433.02,322.0 433.27,322.2 433.52,322.4 433.77,322.5 434.02,322.7 434.27,322.9 434.52,323.1 434.77,323.3 435.02,323.5 435.27,323.6 435.52,323.8 435.77,324.0 436.02,324.2 436.27,324.3 436.52,324.5 436.77,324.7 437.02,324.8 437.27,325.0 437.52,325.1 437.77,325.3 438.02,325.5 438.27,325.6 438.52,325.8 438.77,325.9 439.02,326.0 439.27,326.2 439.52,326.3 439.77,326.5 440.02,326.6 440.27,326.7 440.52,326.9 440.77,327.0 441.02,327.1 441.27,327.3 441.52,327.4 441.77,327.5 442.02,327.7 442.27,327.8 442.52,327.9 442.77,328.0 443.02,328.1 443.27,328.3 443.52,328.4 443.77,328.5 444.02,328.6 444.27,328.7 444.52,328.8 444.77,328.9 445.02,329.1 445.27,329.2 445.52,329.3 445.77,329.4 446.02,329.5 446.27,329.6 446.52,329.7 446.77,329.8 447.02,329.9 447.27,330.0 447.52,330.1 447.77,330.2 448.02,330.3 448.27,330.4 448.52,330.4 448.77,330.5 449.02,330.6 449.27,330.7 449.52,330.8 449.77,330.9 450.02,331.0 450.27,331.1 450.52,331.2 450.77,331.2 451.02,331.3 451.27,331.4 451.52,331.5 451.77,331.6 452.02,331.6 452.27,331.7 452.52,331.8 452.77,331.9 453.02,332.0 453.27,332.0 453.52,332.1 453.77,332.2 454.02,332.2 454.27,332.3 454.52,332.4 454.77,332.5 455.02,332.5 455.27,332.6 455.52,332.7 455.77,332.7 456.02,332.8 456.27,332.9 456.52,332.9 456.77,333.0 457.02,333.1 457.27,333.1 457.52,333.2 457.77,333.3 458.02,333.3 458.27,333.4 458.52,333.4 458.77,333.5 459.02,333.6 459.27,333.6 459.52,333.7 459.77,333.7 460.02,333.8 460.27,333.9 460.52,333.9 460.77,334.0 461.02,334.0 461.27,334.1 461.52,334.1 461.77,334.2 462.02,334.2 462.27,334.3 462.52,334.4 462.77,334.4 463.02,334.5 463.27,334.5 463.52,334.6 463.77,334.6 464.02,334.7 464.27,334.7 464.52,334.8 464.77,334.8 465.02,334.9 465.27,334.9 465.52,334.9 465.77,335.0 466.02,335.0 466.27,335.1 466.52,335.1 466.77,335.2 467.02,335.2 467.27,335.3 467.52,335.3 467.77,335.4 468.02,335.4 468.27,335.4 468.52,335.5 468.77,335.5 469.02,335.6 469.27,335.6 469.52,335.7 469.77,335.7 470.02,335.7 470.27,335.8 470.52,335.8 470.77,335.9 471.02,335.9 471.27,335.9 471.52,336.0 471.77,336.0 472.02,336.0 472.27,336.1 472.52,336.1 472.77,336.2 473.02,336.2 473.27,336.2 473.52,336.3 473.77,336.3 474.02,336.3 474.27,336.4 474.52,336.4 474.77,336.4 475.02,336.5 475.27,336.5 475.52,336.5 475.77,336.6 476.02,336.6 476.27,336.6 476.52,336.7 476.77,336.7 477.02,336.7 477.27,336.8 477.52,336.8 477.77,336.8 478.02,336.9 478.27,336.9 478.52,336.9 478.77,337.0 479.02,337.0 479.27,337.0 479.52,337.1 479.77,337.1 480.02,337.1 480.27,337.1 480.52,337.2 480.77,337.2 481.02,337.2 481.27,337.3 481.52,337.3 481.77,337.3 482.02,337.3 482.27,337.4 482.52,337.4 482.77,337.4 483.02,337.5 483.27,337.5 483.52,337.5 483.77,337.5 484.02,337.6 484.27,337.6 484.52,337.6 484.77,337.6 485.02,337.7 485.27,337.7 485.52,337.7 485.77,337.7 486.02,337.8 486.27,337.8 486.52,337.8 486.77,337.8 487.02,337.9 487.27,337.9 487.52,337.9 487.77,337.9 488.02,338.0 488.27,338.0 488.52,338.0 488.77,338.0 489.02,338.0 489.27,338.1 489.52,338.1 489.77,338.1 490.02,338.1 490.27,338.2 490.52,338.2 490.77,338.2 491.02,338.2 491.27,338.2" fill="none" stroke="#b81419" stroke-width="1.8" stroke-linejoin="round" />
</g>
<rect x="281.9" y="211.4" width="217.4" height="148.2" fill="none" stroke="#151515" stroke-width="1.6"/>
<line x1="290.2" y1="359.6" x2="290.2" y2="356.8" stroke="#151515" stroke-width="1.4"/><line x1="330.4" y1="359.6" x2="330.4" y2="354.1" stroke="#151515" stroke-width="1.4"/><line x1="370.6" y1="359.6" x2="370.6" y2="356.8" stroke="#151515" stroke-width="1.4"/><line x1="410.8" y1="359.6" x2="410.8" y2="354.1" stroke="#151515" stroke-width="1.4"/><line x1="451.0" y1="359.6" x2="451.0" y2="356.8" stroke="#151515" stroke-width="1.4"/><line x1="491.2" y1="359.6" x2="491.2" y2="354.1" stroke="#151515" stroke-width="1.4"/>
<line x1="390.8" y1="217.0" x2="418.3" y2="217.0" stroke="#111" stroke-width="1.5"/>
<g font-family='"Liberation Sans", sans-serif' fill="#111" stroke="#111" stroke-width="0.15"><text transform="translate(79.6,373.8) scale(1.0,1)" font-size="11.4" text-anchor="middle">2600</text><text transform="translate(330.4,373.8) scale(1.0,1)" font-size="11.4" text-anchor="middle">2600</text><text transform="translate(161.2,373.8) scale(1.0,1)" font-size="11.4" text-anchor="middle">2700</text><text transform="translate(410.8,373.8) scale(1.0,1)" font-size="11.4" text-anchor="middle">2700</text><text transform="translate(242.8,373.8) scale(1.0,1)" font-size="11.4" text-anchor="middle">2800</text><text transform="translate(491.2,373.8) scale(1.0,1)" font-size="11.4" text-anchor="middle">2800</text><text transform="translate(84.0,385.5) scale(1.0,1)" font-size="11.4" text-anchor="start">Raman shift (cm<tspan font-size="5.9" dy="-6.3" dx="0.8" stroke-width="0.1">-1</tspan><tspan dy="5.7">)</tspan></text><text transform="translate(343.6,388.0) scale(1.0,1)" font-size="11.4" text-anchor="start">Raman shift (cm<tspan font-size="5.9" dy="-6.3" dx="0.8" stroke-width="0.1">-1</tspan><tspan dy="5.7">)</tspan></text><text x="0" y="0" font-size="11.4" text-anchor="middle" transform="translate(13.6,284.8) rotate(-90)">Intensity (arb. u.)</text><text x="0" y="0" font-size="11.4" text-anchor="middle" transform="translate(274.3,288.3) rotate(-90)">Intensity (arb. u.)</text><text transform="translate(39.5,231.5) scale(1.0,1)" font-size="19.8" text-anchor="start">(b)</text><text transform="translate(289.9,229.0) scale(1.0,1)" font-size="19.8" text-anchor="start">(c)</text><text transform="translate(167.5,222) scale(1.0,1)" font-size="11.7" text-anchor="start">Laser power</text><text transform="translate(167.8,236.2) scale(0.96,1)" font-size="11.7" text-anchor="start">1.5 mW</text><text transform="translate(31.4,257.4) scale(1.04,1)" font-size="11.4" text-anchor="start">2653.0(2.3) <tspan dx="0.3">cm</tspan><tspan font-size="5.9" dy="-6.3" dx="0.8" stroke-width="0.1">-1</tspan></text><text transform="translate(31.5,273.1) scale(1.0,1)" font-size="11.4" text-anchor="start">55.6(4.6) cm<tspan font-size="5.9" dy="-6.3" dx="0.8" stroke-width="0.1">-1</tspan></text><text transform="translate(166.0,254.7) scale(1.0,1)" font-size="11.4" text-anchor="start">2684.8(1.8) cm<tspan font-size="5.9" dy="-6.3" dx="0.8" stroke-width="0.1">-1</tspan></text><text transform="translate(166.7,269.8) scale(1.0,1)" font-size="11.4" text-anchor="start">52.3(3.8) cm<tspan font-size="5.9" dy="-6.3" dx="0.8" stroke-width="0.1">-1</tspan></text><text transform="translate(102.5,345.2) scale(1.0,1)" font-size="11.4" text-anchor="start"><tspan font-size="9">&#916;&#965;</tspan>=31.8cm<tspan font-size="5.9" dy="-6.3" dx="0.8" stroke-width="0.1">-1</tspan></text><text transform="translate(420.6,222) scale(1.0,1)" font-size="11.7" text-anchor="start">Laser power</text><text transform="translate(422.6,235.5) scale(1.0,1)" font-size="11.7" text-anchor="start">6.0 mW</text><text transform="translate(284.1,255.1) scale(1.0,1)" font-size="11.4" text-anchor="start">2655.2(1.1) cm<tspan font-size="5.9" dy="-6.3" dx="0.8" stroke-width="0.1">-1</tspan></text><text transform="translate(284.1,269.9) scale(1.0,1)" font-size="11.4" text-anchor="start">62.4(2) cm<tspan font-size="5.9" dy="-6.3" dx="0.8" stroke-width="0.1">-1</tspan></text><text transform="translate(411.5,255.4) scale(1.0,1)" font-size="11.4" text-anchor="start">2685.0(0.6) cm<tspan font-size="5.9" dy="-6.3" dx="0.8" stroke-width="0.1">-1</tspan></text><text transform="translate(412.2,271) scale(1.0,1)" font-size="11.4" text-anchor="start">38.7(1.7) cm<tspan font-size="5.9" dy="-6.3" dx="0.8" stroke-width="0.1">-1</tspan></text><text transform="translate(359,349.4) scale(1.0,1)" font-size="11.4" text-anchor="start"><tspan font-size="9">&#916;&#965;</tspan>=29.8 cm<tspan font-size="5.9" dy="-6.3" dx="0.8" stroke-width="0.1">-1</tspan></text></g>
</svg></body></html>
